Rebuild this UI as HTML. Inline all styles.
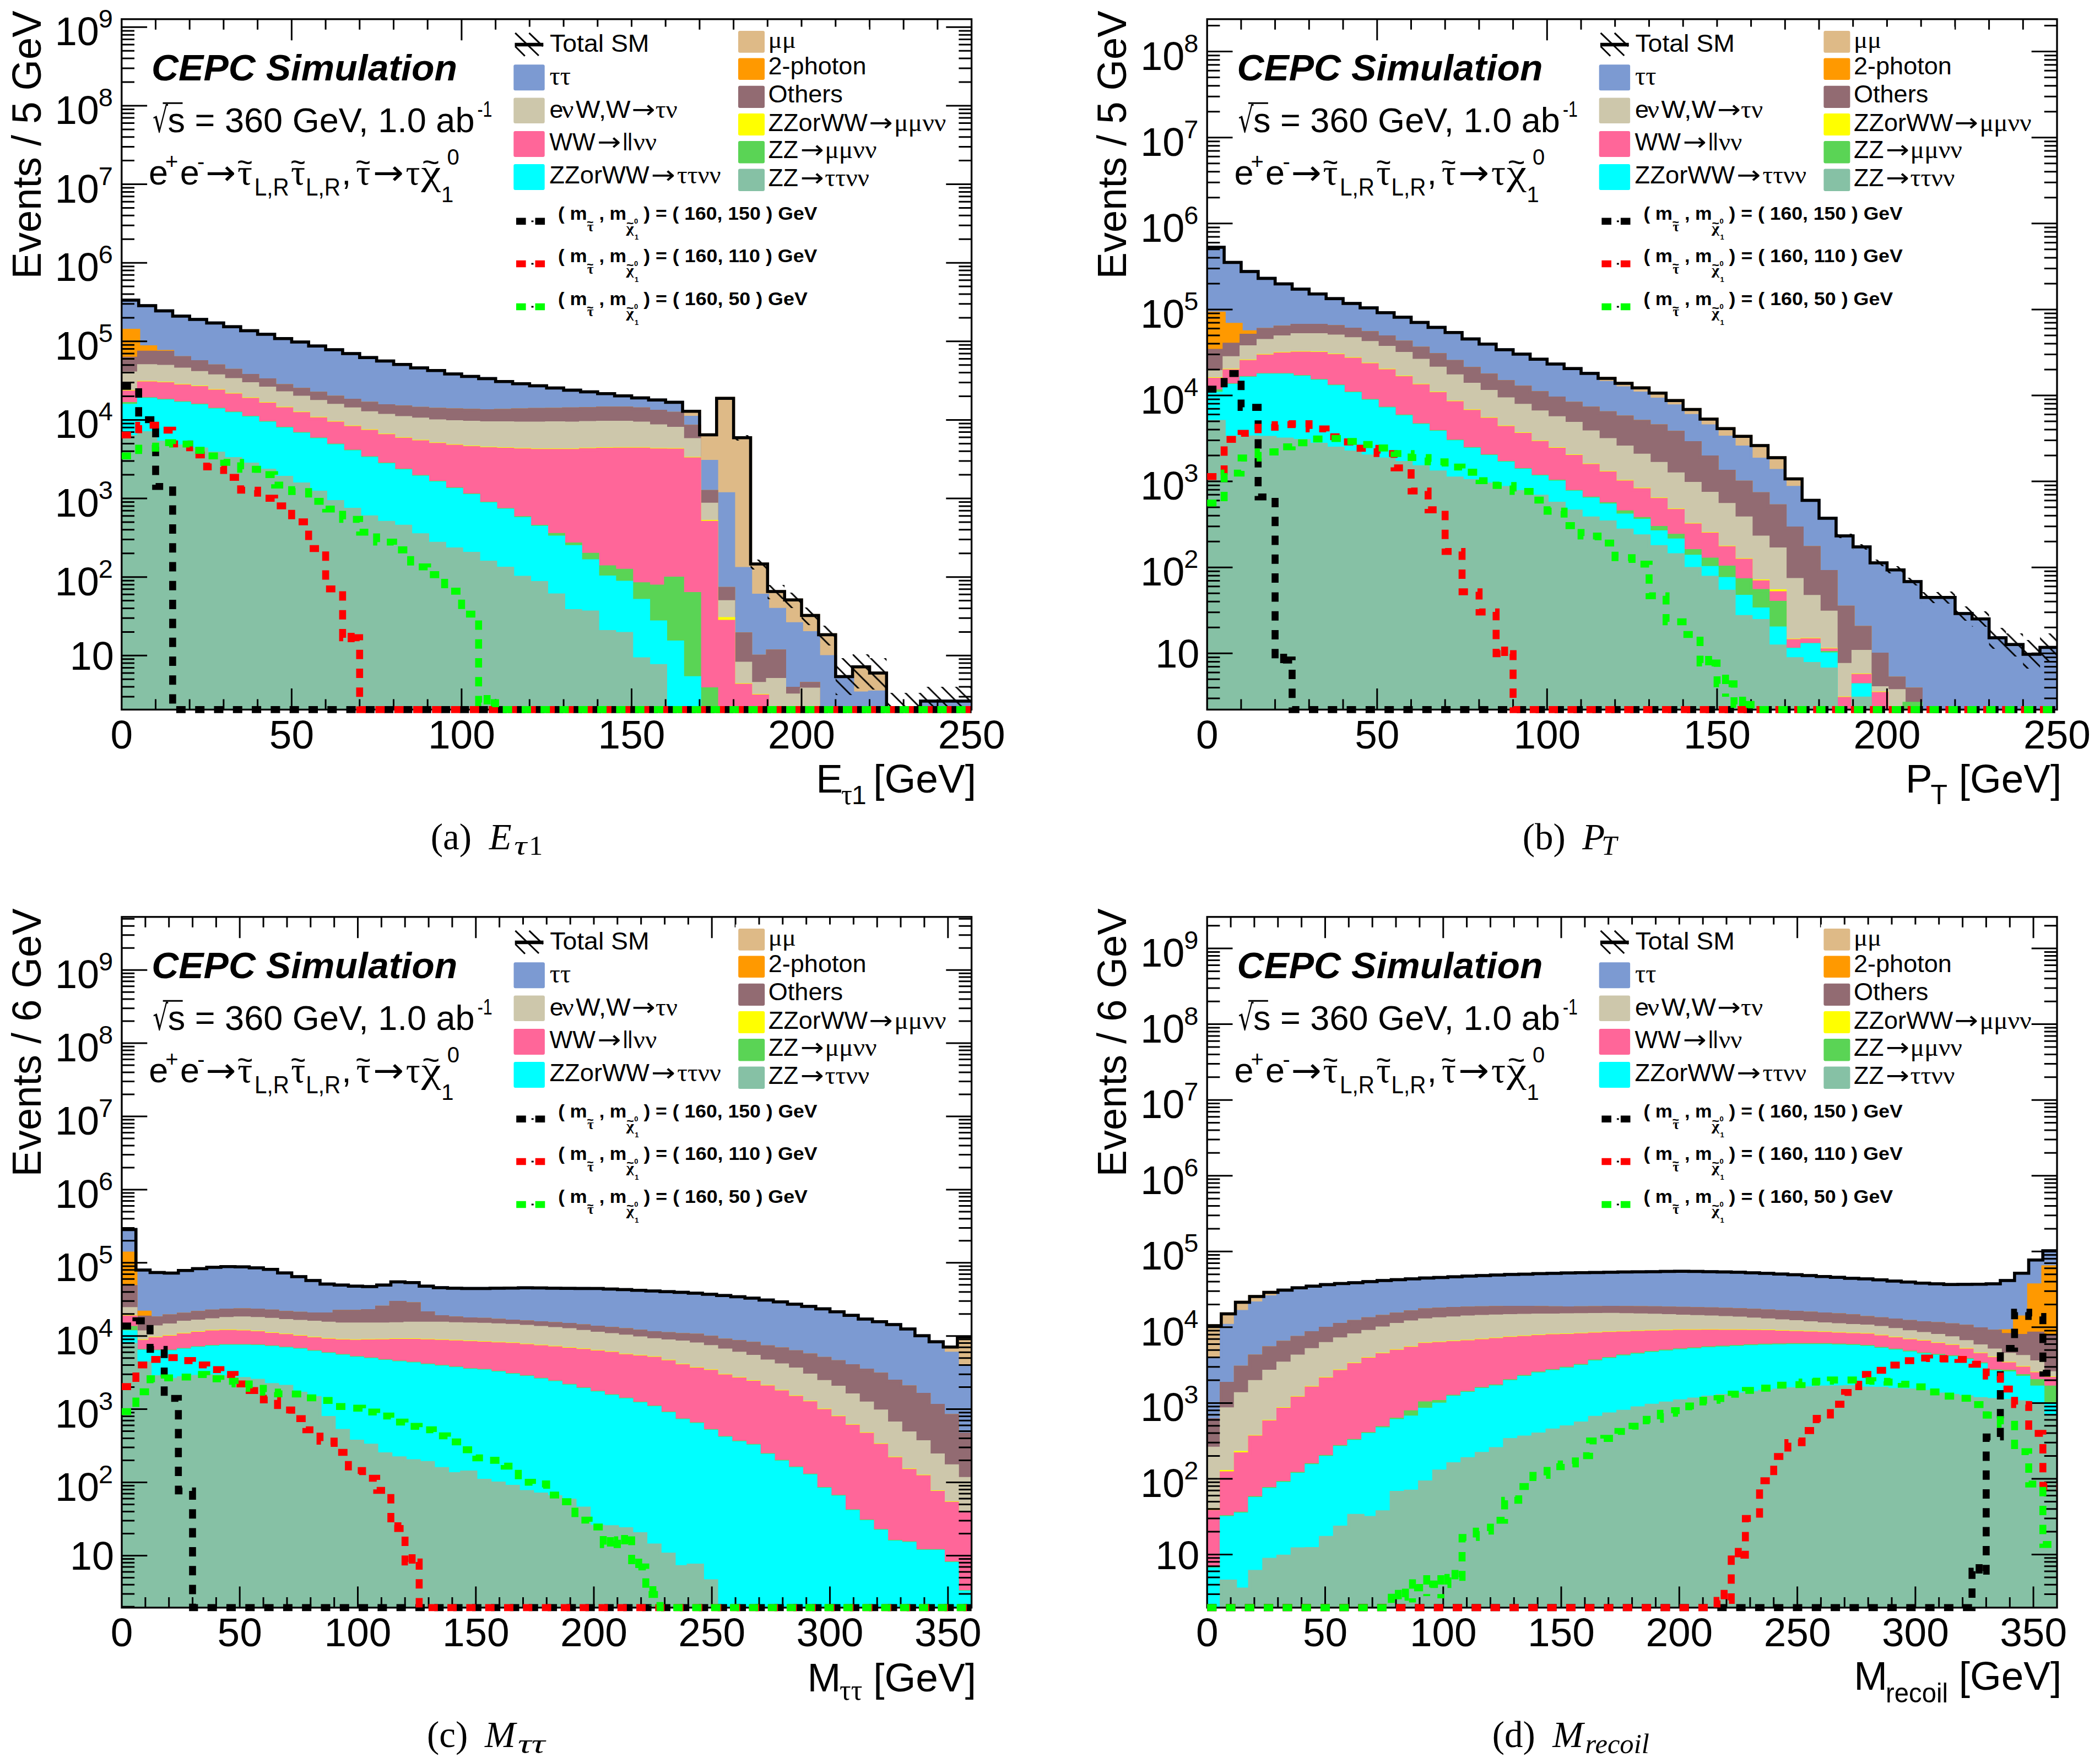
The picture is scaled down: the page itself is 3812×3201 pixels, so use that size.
<!DOCTYPE html>
<html><head><meta charset="utf-8"><title>CEPC stau search distributions</title><style>html,body{margin:0;padding:0;background:#fff}svg{display:block}</style></head><body>
<svg xmlns="http://www.w3.org/2000/svg" width="3812" height="3201" viewBox="0 0 3812 3201">
<rect width="3812" height="3201" fill="#fff"/>
<defs><pattern id="hatch" width="25.7" height="25.7" patternUnits="userSpaceOnUse"><path d="M-6,-6 L32,32 M-6,19.7 L6,31.7 M19.7,-6 L31.7,6" stroke="#000" stroke-width="2.9" fill="none"/></pattern></defs>
<clipPath id="clipa"><rect x="220.8" y="34.8" width="1542.8" height="1253.6"/></clipPath>
<g clip-path="url(#clipa)">
<path d="M220.8,1300.4 L220.8,545 L251.7,545 L251.7,555 L282.5,555 L282.5,564.4 L313.4,564.4 L313.4,573.9 L344.2,573.9 L344.2,580 L375.1,580 L375.1,586.4 L405.9,586.4 L405.9,593.3 L436.8,593.3 L436.8,600.6 L467.6,600.6 L467.6,606.9 L498.5,606.9 L498.5,614.7 L529.4,614.7 L529.4,621 L560.2,621 L560.2,628.2 L591.1,628.2 L591.1,635 L621.9,635 L621.9,642 L652.8,642 L652.8,649.3 L683.6,649.3 L683.6,655.6 L714.5,655.6 L714.5,661.8 L745.4,661.8 L745.4,668 L776.2,668 L776.2,672.8 L807.1,672.8 L807.1,679 L837.9,679 L837.9,683.5 L868.8,683.5 L868.8,687.4 L899.6,687.4 L899.6,692.7 L930.5,692.7 L930.5,696.8 L961.3,696.8 L961.3,700.6 L992.2,700.6 L992.2,704.6 L1023.1,704.6 L1023.1,708.4 L1053.9,708.4 L1053.9,711.6 L1084.8,711.6 L1084.8,714.7 L1115.6,714.7 L1115.6,718.8 L1146.5,718.8 L1146.5,722.6 L1177.3,722.6 L1177.3,726.3 L1208.2,726.3 L1208.2,730.4 L1239,730.4 L1239,746.8 L1269.9,746.8 L1269.9,789.5 L1300.8,789.5 L1300.8,723.2 L1331.6,723.2 L1331.6,794.8 L1362.5,794.8 L1362.5,1024 L1393.3,1024 L1393.3,1074 L1424.2,1074 L1424.2,1089.3 L1455,1089.3 L1455,1117.4 L1485.9,1117.4 L1485.9,1152.4 L1516.8,1152.4 L1516.8,1228.5 L1547.6,1228.5 L1547.6,1210.7 L1578.5,1210.7 L1578.5,1222 L1609.3,1222 L1609.3,1300.4 L1640.2,1300.4 L1640.2,1300.4 L1671,1300.4 L1671,1272.9 L1701.9,1272.9 L1701.9,1272.9 L1732.7,1272.9 L1732.7,1272.9 L1763.6,1272.9 L1763.6,1300.4 Z" fill="#DEBA87" stroke="#DEBA87" stroke-width="5.6" stroke-linejoin="miter"/>
<path d="M220.8,1300.4 L220.8,545 L251.7,545 L251.7,555 L282.5,555 L282.5,564.4 L313.4,564.4 L313.4,573.9 L344.2,573.9 L344.2,580 L375.1,580 L375.1,586.4 L405.9,586.4 L405.9,593.3 L436.8,593.3 L436.8,600.6 L467.6,600.6 L467.6,606.9 L498.5,606.9 L498.5,614.7 L529.4,614.7 L529.4,621 L560.2,621 L560.2,628.2 L591.1,628.2 L591.1,635 L621.9,635 L621.9,642 L652.8,642 L652.8,649.3 L683.6,649.3 L683.6,655.6 L714.5,655.6 L714.5,661.8 L745.4,661.8 L745.4,668 L776.2,668 L776.2,672.8 L807.1,672.8 L807.1,679 L837.9,679 L837.9,683.5 L868.8,683.5 L868.8,687.4 L899.6,687.4 L899.6,692.7 L930.5,692.7 L930.5,696.8 L961.3,696.8 L961.3,700.6 L992.2,700.6 L992.2,704.6 L1023.1,704.6 L1023.1,708.4 L1053.9,708.4 L1053.9,711.6 L1084.8,711.6 L1084.8,714.7 L1115.6,714.7 L1115.6,718.8 L1146.5,718.8 L1146.5,722.6 L1177.3,722.6 L1177.3,726.3 L1208.2,726.3 L1208.2,730.4 L1239,730.4 L1239,757.8 L1269.9,757.8 L1269.9,837.8 L1300.8,837.8 L1300.8,896.6 L1331.6,896.6 L1331.6,1032.4 L1362.5,1032.4 L1362.5,1080.8 L1393.3,1080.8 L1393.3,1106.6 L1424.2,1106.6 L1424.2,1132.5 L1455,1132.5 L1455,1148.8 L1485.9,1148.8 L1485.9,1192.4 L1516.8,1192.4 L1516.8,1228.5 L1547.6,1228.5 L1547.6,1258.2 L1578.5,1258.2 L1578.5,1256.6 L1609.3,1256.6 L1609.3,1300.4 L1640.2,1300.4 L1640.2,1300.4 L1671,1300.4 L1671,1272.9 L1701.9,1272.9 L1701.9,1272.9 L1732.7,1272.9 L1732.7,1272.9 L1763.6,1272.9 L1763.6,1300.4 Z" fill="#7C9AD2" stroke="#7C9AD2" stroke-width="5.6" stroke-linejoin="miter"/>
<path d="M220.8,1300.4 L220.8,599.8 L251.7,599.8 L251.7,629.8 L282.5,629.8 L282.5,638.3 L313.4,638.3 L313.4,649.6 L344.2,649.6 L344.2,656.8 L375.1,656.8 L375.1,664.6 L405.9,664.6 L405.9,672.5 L436.8,672.5 L436.8,681.8 L467.6,681.8 L467.6,689.8 L498.5,689.8 L498.5,700.2 L529.4,700.2 L529.4,707.1 L560.2,707.1 L560.2,714 L591.1,714 L591.1,721.2 L621.9,721.2 L621.9,726.8 L652.8,726.8 L652.8,732.2 L683.6,732.2 L683.6,736.8 L714.5,736.8 L714.5,739.1 L745.4,739.1 L745.4,741.6 L776.2,741.6 L776.2,743.2 L807.1,743.2 L807.1,744.2 L837.9,744.2 L837.9,745 L868.8,745 L868.8,745.8 L899.6,745.8 L899.6,745.2 L930.5,745.2 L930.5,744.2 L961.3,744.2 L961.3,743.6 L992.2,743.6 L992.2,743.3 L1023.1,743.3 L1023.1,742.6 L1053.9,742.6 L1053.9,742 L1084.8,742 L1084.8,741.1 L1115.6,741.1 L1115.6,741.1 L1146.5,741.1 L1146.5,742.6 L1177.3,742.6 L1177.3,746.8 L1208.2,746.8 L1208.2,750.5 L1239,750.5 L1239,774.1 L1269.9,774.1 L1269.9,892.6 L1300.8,892.6 L1300.8,1068.6 L1331.6,1068.6 L1331.6,1151 L1362.5,1151 L1362.5,1191.5 L1393.3,1191.5 L1393.3,1182.1 L1424.2,1182.1 L1424.2,1249.8 L1455,1249.8 L1455,1241 L1485.9,1241 L1485.9,1300.4 L1516.8,1300.4 L1516.8,1300.4 L1547.6,1300.4 L1547.6,1300.4 L1578.5,1300.4 L1578.5,1300.4 L1609.3,1300.4 L1609.3,1300.4 L1640.2,1300.4 L1640.2,1300.4 L1671,1300.4 L1671,1300.4 L1701.9,1300.4 L1701.9,1300.4 L1732.7,1300.4 L1732.7,1300.4 L1763.6,1300.4 L1763.6,1300.4 Z" fill="#FF9900" stroke="#FF9900" stroke-width="5.6" stroke-linejoin="miter"/>
<path d="M220.8,1300.4 L220.8,650.5 L251.7,650.5 L251.7,639.5 L282.5,639.5 L282.5,639.8 L313.4,639.8 L313.4,649.6 L344.2,649.6 L344.2,656.8 L375.1,656.8 L375.1,664.6 L405.9,664.6 L405.9,672.5 L436.8,672.5 L436.8,681.8 L467.6,681.8 L467.6,689.8 L498.5,689.8 L498.5,700.2 L529.4,700.2 L529.4,707.1 L560.2,707.1 L560.2,714 L591.1,714 L591.1,721.2 L621.9,721.2 L621.9,726.8 L652.8,726.8 L652.8,732.2 L683.6,732.2 L683.6,736.8 L714.5,736.8 L714.5,739.1 L745.4,739.1 L745.4,741.6 L776.2,741.6 L776.2,743.2 L807.1,743.2 L807.1,744.2 L837.9,744.2 L837.9,745 L868.8,745 L868.8,745.8 L899.6,745.8 L899.6,745.2 L930.5,745.2 L930.5,744.2 L961.3,744.2 L961.3,743.6 L992.2,743.6 L992.2,743.3 L1023.1,743.3 L1023.1,742.6 L1053.9,742.6 L1053.9,742 L1084.8,742 L1084.8,741.1 L1115.6,741.1 L1115.6,741.1 L1146.5,741.1 L1146.5,742.6 L1177.3,742.6 L1177.3,746.8 L1208.2,746.8 L1208.2,750.5 L1239,750.5 L1239,774.1 L1269.9,774.1 L1269.9,892.6 L1300.8,892.6 L1300.8,1068.6 L1331.6,1068.6 L1331.6,1151 L1362.5,1151 L1362.5,1191.5 L1393.3,1191.5 L1393.3,1182.1 L1424.2,1182.1 L1424.2,1249.8 L1455,1249.8 L1455,1241 L1485.9,1241 L1485.9,1300.4 L1516.8,1300.4 L1516.8,1300.4 L1547.6,1300.4 L1547.6,1300.4 L1578.5,1300.4 L1578.5,1300.4 L1609.3,1300.4 L1609.3,1300.4 L1640.2,1300.4 L1640.2,1300.4 L1671,1300.4 L1671,1300.4 L1701.9,1300.4 L1701.9,1300.4 L1732.7,1300.4 L1732.7,1300.4 L1763.6,1300.4 L1763.6,1300.4 Z" fill="#926B72" stroke="#926B72" stroke-width="5.6" stroke-linejoin="miter"/>
<path d="M220.8,1300.4 L220.8,677.2 L251.7,677.2 L251.7,664 L282.5,664 L282.5,665.3 L313.4,665.3 L313.4,670.3 L344.2,670.3 L344.2,676.6 L375.1,676.6 L375.1,682.6 L405.9,682.6 L405.9,689.2 L436.8,689.2 L436.8,696.7 L467.6,696.7 L467.6,704.8 L498.5,704.8 L498.5,713.4 L529.4,713.4 L529.4,721.2 L560.2,721.2 L560.2,729.1 L591.1,729.1 L591.1,736 L621.9,736 L621.9,742.6 L652.8,742.6 L652.8,749.5 L683.6,749.5 L683.6,754.2 L714.5,754.2 L714.5,758.3 L745.4,758.3 L745.4,761.1 L776.2,761.1 L776.2,764.3 L807.1,764.3 L807.1,765.8 L837.9,765.8 L837.9,766.8 L868.8,766.8 L868.8,767.8 L899.6,767.8 L899.6,767.8 L930.5,767.8 L930.5,768.4 L961.3,768.4 L961.3,768.4 L992.2,768.4 L992.2,767.8 L1023.1,767.8 L1023.1,768.4 L1053.9,768.4 L1053.9,767.2 L1084.8,767.2 L1084.8,766.8 L1115.6,766.8 L1115.6,766.8 L1146.5,766.8 L1146.5,768.4 L1177.3,768.4 L1177.3,773.4 L1208.2,773.4 L1208.2,777.8 L1239,777.8 L1239,798.3 L1269.9,798.3 L1269.9,915.5 L1300.8,915.5 L1300.8,1092.6 L1331.6,1092.6 L1331.6,1204.4 L1362.5,1204.4 L1362.5,1241 L1393.3,1241 L1393.3,1233.8 L1424.2,1233.8 L1424.2,1262.1 L1455,1262.1 L1455,1251.4 L1485.9,1251.4 L1485.9,1300.4 L1516.8,1300.4 L1516.8,1300.4 L1547.6,1300.4 L1547.6,1300.4 L1578.5,1300.4 L1578.5,1300.4 L1609.3,1300.4 L1609.3,1300.4 L1640.2,1300.4 L1640.2,1300.4 L1671,1300.4 L1671,1300.4 L1701.9,1300.4 L1701.9,1300.4 L1732.7,1300.4 L1732.7,1300.4 L1763.6,1300.4 L1763.6,1300.4 Z" fill="#CDC7AB" stroke="#CDC7AB" stroke-width="5.6" stroke-linejoin="miter"/>
<path d="M220.8,1300.4 L220.8,710.8 L251.7,710.8 L251.7,694.4 L282.5,694.4 L282.5,695.7 L313.4,695.7 L313.4,699.8 L344.2,699.8 L344.2,702.8 L375.1,702.8 L375.1,709.2 L405.9,709.2 L405.9,716.4 L436.8,716.4 L436.8,724.3 L467.6,724.3 L467.6,732.8 L498.5,732.8 L498.5,741.3 L529.4,741.3 L529.4,750.1 L560.2,750.1 L560.2,759.5 L591.1,759.5 L591.1,767.4 L621.9,767.4 L621.9,775.2 L652.8,775.2 L652.8,782.4 L683.6,782.4 L683.6,790 L714.5,790 L714.5,796.6 L745.4,796.6 L745.4,801.3 L776.2,801.3 L776.2,806 L807.1,806 L807.1,809.2 L837.9,809.2 L837.9,811.8 L868.8,811.8 L868.8,813.8 L899.6,813.8 L899.6,814.8 L930.5,814.8 L930.5,816.1 L961.3,816.1 L961.3,817.1 L992.2,817.1 L992.2,817.1 L1023.1,817.1 L1023.1,817.1 L1053.9,817.1 L1053.9,815.5 L1084.8,815.5 L1084.8,814.8 L1115.6,814.8 L1115.6,814.6 L1146.5,814.6 L1146.5,814.6 L1177.3,814.6 L1177.3,816.1 L1208.2,816.1 L1208.2,816.4 L1239,816.4 L1239,832.3 L1269.9,832.3 L1269.9,946.8 L1300.8,946.8 L1300.8,1123.3 L1331.6,1123.3 L1331.6,1243.3 L1362.5,1243.3 L1362.5,1262.7 L1393.3,1262.7 L1393.3,1300.4 L1424.2,1300.4 L1424.2,1300.4 L1455,1300.4 L1455,1300.4 L1485.9,1300.4 L1485.9,1300.4 L1516.8,1300.4 L1516.8,1300.4 L1547.6,1300.4 L1547.6,1300.4 L1578.5,1300.4 L1578.5,1300.4 L1609.3,1300.4 L1609.3,1300.4 L1640.2,1300.4 L1640.2,1300.4 L1671,1300.4 L1671,1300.4 L1701.9,1300.4 L1701.9,1300.4 L1732.7,1300.4 L1732.7,1300.4 L1763.6,1300.4 L1763.6,1300.4 Z" fill="#FFFF00" stroke="#FFFF00" stroke-width="5.6" stroke-linejoin="miter"/>
<path d="M220.8,1300.4 L220.8,711.8 L251.7,711.8 L251.7,695.4 L282.5,695.4 L282.5,696.7 L313.4,696.7 L313.4,700.8 L344.2,700.8 L344.2,703.8 L375.1,703.8 L375.1,710.2 L405.9,710.2 L405.9,717.4 L436.8,717.4 L436.8,725.3 L467.6,725.3 L467.6,733.8 L498.5,733.8 L498.5,742.3 L529.4,742.3 L529.4,751.1 L560.2,751.1 L560.2,760.5 L591.1,760.5 L591.1,768.4 L621.9,768.4 L621.9,776.2 L652.8,776.2 L652.8,783.4 L683.6,783.4 L683.6,791 L714.5,791 L714.5,797.6 L745.4,797.6 L745.4,802.3 L776.2,802.3 L776.2,807 L807.1,807 L807.1,810.2 L837.9,810.2 L837.9,812.8 L868.8,812.8 L868.8,814.8 L899.6,814.8 L899.6,815.8 L930.5,815.8 L930.5,817.1 L961.3,817.1 L961.3,818.1 L992.2,818.1 L992.2,818.1 L1023.1,818.1 L1023.1,818.1 L1053.9,818.1 L1053.9,816.5 L1084.8,816.5 L1084.8,815.8 L1115.6,815.8 L1115.6,815.6 L1146.5,815.6 L1146.5,815.6 L1177.3,815.6 L1177.3,817.1 L1208.2,817.1 L1208.2,817.4 L1239,817.4 L1239,833.3 L1269.9,833.3 L1269.9,948.5 L1300.8,948.5 L1300.8,1128.3 L1331.6,1128.3 L1331.6,1244.3 L1362.5,1244.3 L1362.5,1263.7 L1393.3,1263.7 L1393.3,1300.4 L1424.2,1300.4 L1424.2,1300.4 L1455,1300.4 L1455,1300.4 L1485.9,1300.4 L1485.9,1300.4 L1516.8,1300.4 L1516.8,1300.4 L1547.6,1300.4 L1547.6,1300.4 L1578.5,1300.4 L1578.5,1300.4 L1609.3,1300.4 L1609.3,1300.4 L1640.2,1300.4 L1640.2,1300.4 L1671,1300.4 L1671,1300.4 L1701.9,1300.4 L1701.9,1300.4 L1732.7,1300.4 L1732.7,1300.4 L1763.6,1300.4 L1763.6,1300.4 Z" fill="#FF6699" stroke="#FF6699" stroke-width="5.6" stroke-linejoin="miter"/>
<path d="M220.8,1300.4 L220.8,732.8 L251.7,732.8 L251.7,724 L282.5,724 L282.5,727.1 L313.4,727.1 L313.4,731.2 L344.2,731.2 L344.2,735.8 L375.1,735.8 L375.1,743.2 L405.9,743.2 L405.9,750.1 L436.8,750.1 L436.8,757.8 L467.6,757.8 L467.6,767.4 L498.5,767.4 L498.5,777.8 L529.4,777.8 L529.4,787.2 L560.2,787.2 L560.2,797.2 L591.1,797.2 L591.1,808.2 L621.9,808.2 L621.9,819.2 L652.8,819.2 L652.8,831.2 L683.6,831.2 L683.6,842.8 L714.5,842.8 L714.5,853.8 L745.4,853.8 L745.4,865.3 L776.2,865.3 L776.2,875.8 L807.1,875.8 L807.1,887.8 L837.9,887.8 L837.9,898.8 L868.8,898.8 L868.8,913.8 L899.6,913.8 L899.6,925.3 L930.5,925.3 L930.5,940 L961.3,940 L961.3,955.8 L992.2,955.8 L992.2,970.5 L1023.1,970.5 L1023.1,987.8 L1053.9,987.8 L1053.9,1006.6 L1084.8,1006.6 L1084.8,1029.4 L1115.6,1029.4 L1115.6,1035.5 L1146.5,1035.5 L1146.5,1060.1 L1177.3,1060.1 L1177.3,1064.3 L1208.2,1064.3 L1208.2,1049.8 L1239,1049.8 L1239,1077.8 L1269.9,1077.8 L1269.9,1250.8 L1300.8,1250.8 L1300.8,1300.4 L1331.6,1300.4 L1331.6,1300.4 L1362.5,1300.4 L1362.5,1300.4 L1393.3,1300.4 L1393.3,1300.4 L1424.2,1300.4 L1424.2,1300.4 L1455,1300.4 L1455,1300.4 L1485.9,1300.4 L1485.9,1300.4 L1516.8,1300.4 L1516.8,1300.4 L1547.6,1300.4 L1547.6,1300.4 L1578.5,1300.4 L1578.5,1300.4 L1609.3,1300.4 L1609.3,1300.4 L1640.2,1300.4 L1640.2,1300.4 L1671,1300.4 L1671,1300.4 L1701.9,1300.4 L1701.9,1300.4 L1732.7,1300.4 L1732.7,1300.4 L1763.6,1300.4 L1763.6,1300.4 Z" fill="#5AD455" stroke="#5AD455" stroke-width="5.6" stroke-linejoin="miter"/>
<path d="M220.8,1300.4 L220.8,736 L251.7,736 L251.7,725 L282.5,725 L282.5,728.1 L313.4,728.1 L313.4,732.2 L344.2,732.2 L344.2,736.8 L375.1,736.8 L375.1,744.2 L405.9,744.2 L405.9,751.1 L436.8,751.1 L436.8,758.8 L467.6,758.8 L467.6,768.4 L498.5,768.4 L498.5,778.8 L529.4,778.8 L529.4,788.2 L560.2,788.2 L560.2,798.2 L591.1,798.2 L591.1,809.2 L621.9,809.2 L621.9,820.2 L652.8,820.2 L652.8,832.2 L683.6,832.2 L683.6,843.8 L714.5,843.8 L714.5,854.8 L745.4,854.8 L745.4,866.3 L776.2,866.3 L776.2,876.8 L807.1,876.8 L807.1,888.8 L837.9,888.8 L837.9,899.8 L868.8,899.8 L868.8,914.8 L899.6,914.8 L899.6,926.3 L930.5,926.3 L930.5,941.6 L961.3,941.6 L961.3,957.3 L992.2,957.3 L992.2,975.2 L1023.1,975.2 L1023.1,992.5 L1053.9,992.5 L1053.9,1018.3 L1084.8,1018.3 L1084.8,1047.8 L1115.6,1047.8 L1115.6,1057.3 L1146.5,1057.3 L1146.5,1090.4 L1177.3,1090.4 L1177.3,1129.3 L1208.2,1129.3 L1208.2,1165.8 L1239,1165.8 L1239,1230.6 L1269.9,1230.6 L1269.9,1300.4 L1300.8,1300.4 L1300.8,1300.4 L1331.6,1300.4 L1331.6,1300.4 L1362.5,1300.4 L1362.5,1300.4 L1393.3,1300.4 L1393.3,1300.4 L1424.2,1300.4 L1424.2,1300.4 L1455,1300.4 L1455,1300.4 L1485.9,1300.4 L1485.9,1300.4 L1516.8,1300.4 L1516.8,1300.4 L1547.6,1300.4 L1547.6,1300.4 L1578.5,1300.4 L1578.5,1300.4 L1609.3,1300.4 L1609.3,1300.4 L1640.2,1300.4 L1640.2,1300.4 L1671,1300.4 L1671,1300.4 L1701.9,1300.4 L1701.9,1300.4 L1732.7,1300.4 L1732.7,1300.4 L1763.6,1300.4 L1763.6,1300.4 Z" fill="#00FFFF" stroke="#00FFFF" stroke-width="5.6" stroke-linejoin="miter"/>
<path d="M220.8,1300.4 L220.8,792.8 L251.7,792.8 L251.7,785.8 L282.5,785.8 L282.5,802.8 L313.4,802.8 L313.4,809.8 L344.2,809.8 L344.2,815.3 L375.1,815.3 L375.1,822.8 L405.9,822.8 L405.9,832.8 L436.8,832.8 L436.8,842.8 L467.6,842.8 L467.6,853.8 L498.5,853.8 L498.5,866.8 L529.4,866.8 L529.4,878.8 L560.2,878.8 L560.2,893.8 L591.1,893.8 L591.1,910.8 L621.9,910.8 L621.9,924.7 L652.8,924.7 L652.8,938.6 L683.6,938.6 L683.6,948.5 L714.5,948.5 L714.5,955.6 L745.4,955.6 L745.4,971 L776.2,971 L776.2,986.6 L807.1,986.6 L807.1,996.7 L837.9,996.7 L837.9,1004.7 L868.8,1004.7 L868.8,1020.9 L899.6,1020.9 L899.6,1031.8 L930.5,1031.8 L930.5,1048.3 L961.3,1048.3 L961.3,1057.8 L992.2,1057.8 L992.2,1080.3 L1023.1,1080.3 L1023.1,1108.8 L1053.9,1108.8 L1053.9,1111.3 L1084.8,1111.3 L1084.8,1146.8 L1115.6,1146.8 L1115.6,1150.3 L1146.5,1150.3 L1146.5,1196.3 L1177.3,1196.3 L1177.3,1208.6 L1208.2,1208.6 L1208.2,1300.4 L1239,1300.4 L1239,1300.4 L1269.9,1300.4 L1269.9,1300.4 L1300.8,1300.4 L1300.8,1300.4 L1331.6,1300.4 L1331.6,1300.4 L1362.5,1300.4 L1362.5,1300.4 L1393.3,1300.4 L1393.3,1300.4 L1424.2,1300.4 L1424.2,1300.4 L1455,1300.4 L1455,1300.4 L1485.9,1300.4 L1485.9,1300.4 L1516.8,1300.4 L1516.8,1300.4 L1547.6,1300.4 L1547.6,1300.4 L1578.5,1300.4 L1578.5,1300.4 L1609.3,1300.4 L1609.3,1300.4 L1640.2,1300.4 L1640.2,1300.4 L1671,1300.4 L1671,1300.4 L1701.9,1300.4 L1701.9,1300.4 L1732.7,1300.4 L1732.7,1300.4 L1763.6,1300.4 L1763.6,1300.4 Z" fill="#86C1A5" stroke="#86C1A5" stroke-width="5.6" stroke-linejoin="miter"/>
<rect x="1331.6" y="790" width="30.9" height="10" fill="url(#hatch)"/>
<rect x="1362.5" y="1016" width="30.9" height="18" fill="url(#hatch)"/>
<rect x="1393.3" y="1062" width="30.9" height="26" fill="url(#hatch)"/>
<rect x="1424.2" y="1076" width="30.9" height="28" fill="url(#hatch)"/>
<rect x="1455" y="1103" width="30.9" height="32" fill="url(#hatch)"/>
<rect x="1485.9" y="1136" width="30.9" height="36" fill="url(#hatch)"/>
<rect x="1516.8" y="1195" width="30.9" height="67" fill="url(#hatch)"/>
<rect x="1547.6" y="1188" width="30.9" height="62" fill="url(#hatch)"/>
<rect x="1578.5" y="1195" width="30.9" height="57" fill="url(#hatch)"/>
<rect x="1609.3" y="1258" width="30.9" height="32" fill="url(#hatch)"/>
<rect x="1640.2" y="1258" width="30.9" height="32" fill="url(#hatch)"/>
<rect x="1671" y="1247" width="30.9" height="43" fill="url(#hatch)"/>
<rect x="1701.9" y="1247" width="30.9" height="43" fill="url(#hatch)"/>
<rect x="1732.7" y="1247" width="30.9" height="43" fill="url(#hatch)"/>
</g>
<g stroke="#000" stroke-width="3" fill="none">
<path d="M282.5,1288.4 v-19 M282.5,34.8 v19 M344.2,1288.4 v-19 M344.2,34.8 v19 M405.9,1288.4 v-19 M405.9,34.8 v19 M467.6,1288.4 v-19 M467.6,34.8 v19 M529.4,1288.4 v-38.5 M529.4,34.8 v38.5 M591.1,1288.4 v-19 M591.1,34.8 v19 M652.8,1288.4 v-19 M652.8,34.8 v19 M714.5,1288.4 v-19 M714.5,34.8 v19 M776.2,1288.4 v-19 M776.2,34.8 v19 M837.9,1288.4 v-38.5 M837.9,34.8 v38.5 M899.6,1288.4 v-19 M899.6,34.8 v19 M961.3,1288.4 v-19 M961.3,34.8 v19 M1023.1,1288.4 v-19 M1023.1,34.8 v19 M1084.8,1288.4 v-19 M1084.8,34.8 v19 M1146.5,1288.4 v-38.5 M1146.5,34.8 v38.5 M1208.2,1288.4 v-19 M1208.2,34.8 v19 M1269.9,1288.4 v-19 M1269.9,34.8 v19 M1331.6,1288.4 v-19 M1331.6,34.8 v19 M1393.3,1288.4 v-19 M1393.3,34.8 v19 M1455,1288.4 v-38.5 M1455,34.8 v38.5 M1516.8,1288.4 v-19 M1516.8,34.8 v19 M1578.5,1288.4 v-19 M1578.5,34.8 v19 M1640.2,1288.4 v-19 M1640.2,34.8 v19 M1701.9,1288.4 v-19 M1701.9,34.8 v19 M220.8,1264.9 h23.2 M1763.6,1264.9 h-23.2 M220.8,1247.1 h23.2 M1763.6,1247.1 h-23.2 M220.8,1233.2 h23.2 M1763.6,1233.2 h-23.2 M220.8,1221.9 h23.2 M1763.6,1221.9 h-23.2 M220.8,1212.4 h23.2 M1763.6,1212.4 h-23.2 M220.8,1204.1 h23.2 M1763.6,1204.1 h-23.2 M220.8,1196.8 h23.2 M1763.6,1196.8 h-23.2 M220.8,1190.3 h46.3 M1763.6,1190.3 h-46.3 M220.8,1147.4 h23.2 M1763.6,1147.4 h-23.2 M220.8,1122.3 h23.2 M1763.6,1122.3 h-23.2 M220.8,1104.4 h23.2 M1763.6,1104.4 h-23.2 M220.8,1090.6 h23.2 M1763.6,1090.6 h-23.2 M220.8,1079.3 h23.2 M1763.6,1079.3 h-23.2 M220.8,1069.8 h23.2 M1763.6,1069.8 h-23.2 M220.8,1061.5 h23.2 M1763.6,1061.5 h-23.2 M220.8,1054.2 h23.2 M1763.6,1054.2 h-23.2 M220.8,1047.7 h46.3 M1763.6,1047.7 h-46.3 M220.8,1004.7 h23.2 M1763.6,1004.7 h-23.2 M220.8,979.6 h23.2 M1763.6,979.6 h-23.2 M220.8,961.8 h23.2 M1763.6,961.8 h-23.2 M220.8,948 h23.2 M1763.6,948 h-23.2 M220.8,936.7 h23.2 M1763.6,936.7 h-23.2 M220.8,927.2 h23.2 M1763.6,927.2 h-23.2 M220.8,918.9 h23.2 M1763.6,918.9 h-23.2 M220.8,911.6 h23.2 M1763.6,911.6 h-23.2 M220.8,905.1 h46.3 M1763.6,905.1 h-46.3 M220.8,862.1 h23.2 M1763.6,862.1 h-23.2 M220.8,837 h23.2 M1763.6,837 h-23.2 M220.8,819.2 h23.2 M1763.6,819.2 h-23.2 M220.8,805.4 h23.2 M1763.6,805.4 h-23.2 M220.8,794.1 h23.2 M1763.6,794.1 h-23.2 M220.8,784.5 h23.2 M1763.6,784.5 h-23.2 M220.8,776.3 h23.2 M1763.6,776.3 h-23.2 M220.8,769 h23.2 M1763.6,769 h-23.2 M220.8,762.4 h46.3 M1763.6,762.4 h-46.3 M220.8,719.5 h23.2 M1763.6,719.5 h-23.2 M220.8,694.4 h23.2 M1763.6,694.4 h-23.2 M220.8,676.6 h23.2 M1763.6,676.6 h-23.2 M220.8,662.8 h23.2 M1763.6,662.8 h-23.2 M220.8,651.5 h23.2 M1763.6,651.5 h-23.2 M220.8,641.9 h23.2 M1763.6,641.9 h-23.2 M220.8,633.6 h23.2 M1763.6,633.6 h-23.2 M220.8,626.3 h23.2 M1763.6,626.3 h-23.2 M220.8,619.8 h46.3 M1763.6,619.8 h-46.3 M220.8,576.9 h23.2 M1763.6,576.9 h-23.2 M220.8,551.8 h23.2 M1763.6,551.8 h-23.2 M220.8,534 h23.2 M1763.6,534 h-23.2 M220.8,520.1 h23.2 M1763.6,520.1 h-23.2 M220.8,508.8 h23.2 M1763.6,508.8 h-23.2 M220.8,499.3 h23.2 M1763.6,499.3 h-23.2 M220.8,491 h23.2 M1763.6,491 h-23.2 M220.8,483.7 h23.2 M1763.6,483.7 h-23.2 M220.8,477.2 h46.3 M1763.6,477.2 h-46.3 M220.8,434.3 h23.2 M1763.6,434.3 h-23.2 M220.8,409.2 h23.2 M1763.6,409.2 h-23.2 M220.8,391.3 h23.2 M1763.6,391.3 h-23.2 M220.8,377.5 h23.2 M1763.6,377.5 h-23.2 M220.8,366.2 h23.2 M1763.6,366.2 h-23.2 M220.8,356.7 h23.2 M1763.6,356.7 h-23.2 M220.8,348.4 h23.2 M1763.6,348.4 h-23.2 M220.8,341.1 h23.2 M1763.6,341.1 h-23.2 M220.8,334.6 h46.3 M1763.6,334.6 h-46.3 M220.8,291.6 h23.2 M1763.6,291.6 h-23.2 M220.8,266.5 h23.2 M1763.6,266.5 h-23.2 M220.8,248.7 h23.2 M1763.6,248.7 h-23.2 M220.8,234.9 h23.2 M1763.6,234.9 h-23.2 M220.8,223.6 h23.2 M1763.6,223.6 h-23.2 M220.8,214.1 h23.2 M1763.6,214.1 h-23.2 M220.8,205.8 h23.2 M1763.6,205.8 h-23.2 M220.8,198.5 h23.2 M1763.6,198.5 h-23.2 M220.8,192 h46.3 M1763.6,192 h-46.3 M220.8,149 h23.2 M1763.6,149 h-23.2 M220.8,123.9 h23.2 M1763.6,123.9 h-23.2 M220.8,106.1 h23.2 M1763.6,106.1 h-23.2 M220.8,92.3 h23.2 M1763.6,92.3 h-23.2 M220.8,81 h23.2 M1763.6,81 h-23.2 M220.8,71.4 h23.2 M1763.6,71.4 h-23.2 M220.8,63.2 h23.2 M1763.6,63.2 h-23.2 M220.8,55.9 h23.2 M1763.6,55.9 h-23.2 M220.8,49.3 h46.3 M1763.6,49.3 h-46.3"/>
</g>
<rect x="220.8" y="34.8" width="1542.8" height="1253.6" fill="none" stroke="#000" stroke-width="3.3"/>
<path d="M220.8,545 L251.7,545 L251.7,555 L282.5,555 L282.5,564.4 L313.4,564.4 L313.4,573.9 L344.2,573.9 L344.2,580 L375.1,580 L375.1,586.4 L405.9,586.4 L405.9,593.3 L436.8,593.3 L436.8,600.6 L467.6,600.6 L467.6,606.9 L498.5,606.9 L498.5,614.7 L529.4,614.7 L529.4,621 L560.2,621 L560.2,628.2 L591.1,628.2 L591.1,635 L621.9,635 L621.9,642 L652.8,642 L652.8,649.3 L683.6,649.3 L683.6,655.6 L714.5,655.6 L714.5,661.8 L745.4,661.8 L745.4,668 L776.2,668 L776.2,672.8 L807.1,672.8 L807.1,679 L837.9,679 L837.9,683.5 L868.8,683.5 L868.8,687.4 L899.6,687.4 L899.6,692.7 L930.5,692.7 L930.5,696.8 L961.3,696.8 L961.3,700.6 L992.2,700.6 L992.2,704.6 L1023.1,704.6 L1023.1,708.4 L1053.9,708.4 L1053.9,711.6 L1084.8,711.6 L1084.8,714.7 L1115.6,714.7 L1115.6,718.8 L1146.5,718.8 L1146.5,722.6 L1177.3,722.6 L1177.3,726.3 L1208.2,726.3 L1208.2,730.4 L1239,730.4 L1239,746.8 L1269.9,746.8 L1269.9,789.5 L1300.8,789.5 L1300.8,723.2 L1331.6,723.2 L1331.6,794.8 L1362.5,794.8 L1362.5,1024 L1393.3,1024 L1393.3,1074 L1424.2,1074 L1424.2,1089.3 L1455,1089.3 L1455,1117.4 L1485.9,1117.4 L1485.9,1152.4 L1516.8,1152.4 L1516.8,1228.5 L1547.6,1228.5 L1547.6,1210.7 L1578.5,1210.7 L1578.5,1222 L1609.3,1222 L1609.3,1300.4 L1640.2,1300.4 L1640.2,1300.4 L1671,1300.4 L1671,1272.9 L1701.9,1272.9 L1701.9,1272.9 L1732.7,1272.9 L1732.7,1272.9 L1763.6,1272.9" fill="none" stroke="#000" stroke-width="5.5" stroke-linejoin="miter" clip-path="url(#clipa)"/>
<path d="M220.8,701.5 L251.7,701.5 L251.7,762 L282.5,762 L282.5,883.2 L313.4,883.2 L313.4,1288.4 L344.2,1288.4 L344.2,1288.4 L375.1,1288.4 L375.1,1288.4 L405.9,1288.4 L405.9,1288.4 L436.8,1288.4 L436.8,1288.4 L467.6,1288.4 L467.6,1288.4 L498.5,1288.4 L498.5,1288.4 L529.4,1288.4 L529.4,1288.4 L560.2,1288.4 L560.2,1288.4 L591.1,1288.4 L591.1,1288.4 L621.9,1288.4 L621.9,1288.4 L652.8,1288.4 L652.8,1288.4 L683.6,1288.4 L683.6,1288.4 L714.5,1288.4 L714.5,1288.4 L745.4,1288.4 L745.4,1288.4 L776.2,1288.4 L776.2,1288.4 L807.1,1288.4 L807.1,1288.4 L837.9,1288.4 L837.9,1288.4 L868.8,1288.4 L868.8,1288.4 L899.6,1288.4 L899.6,1288.4 L930.5,1288.4 L930.5,1288.4 L961.3,1288.4 L961.3,1288.4 L992.2,1288.4 L992.2,1288.4 L1023.1,1288.4 L1023.1,1288.4 L1053.9,1288.4 L1053.9,1288.4 L1084.8,1288.4 L1084.8,1288.4 L1115.6,1288.4 L1115.6,1288.4 L1146.5,1288.4 L1146.5,1288.4 L1177.3,1288.4 L1177.3,1288.4 L1208.2,1288.4 L1208.2,1288.4 L1239,1288.4 L1239,1288.4 L1269.9,1288.4 L1269.9,1288.4 L1300.8,1288.4 L1300.8,1288.4 L1331.6,1288.4 L1331.6,1288.4 L1362.5,1288.4 L1362.5,1288.4 L1393.3,1288.4 L1393.3,1288.4 L1424.2,1288.4 L1424.2,1288.4 L1455,1288.4 L1455,1288.4 L1485.9,1288.4 L1485.9,1288.4 L1516.8,1288.4 L1516.8,1288.4 L1547.6,1288.4 L1547.6,1288.4 L1578.5,1288.4 L1578.5,1288.4 L1609.3,1288.4 L1609.3,1288.4 L1640.2,1288.4 L1640.2,1288.4 L1671,1288.4 L1671,1288.4 L1701.9,1288.4 L1701.9,1288.4 L1732.7,1288.4 L1732.7,1288.4 L1763.6,1288.4" fill="none" stroke="#000" stroke-width="12.6" stroke-dasharray="17 17.3" stroke-linejoin="miter"/>
<path d="M220.8,789.8 L251.7,789.8 L251.7,772 L282.5,772 L282.5,781 L313.4,781 L313.4,806 L344.2,806 L344.2,826 L375.1,826 L375.1,847.8 L405.9,847.8 L405.9,866.8 L436.8,866.8 L436.8,890 L467.6,890 L467.6,904.6 L498.5,904.6 L498.5,918.5 L529.4,918.5 L529.4,947.5 L560.2,947.5 L560.2,996 L591.1,996 L591.1,1069.2 L621.9,1069.2 L621.9,1157.9 L652.8,1157.9 L652.8,1288.4 L683.6,1288.4 L683.6,1288.4 L714.5,1288.4 L714.5,1288.4 L745.4,1288.4 L745.4,1288.4 L776.2,1288.4 L776.2,1288.4 L807.1,1288.4 L807.1,1288.4 L837.9,1288.4 L837.9,1288.4 L868.8,1288.4 L868.8,1288.4 L899.6,1288.4 L899.6,1288.4 L930.5,1288.4 L930.5,1288.4 L961.3,1288.4 L961.3,1288.4 L992.2,1288.4 L992.2,1288.4 L1023.1,1288.4 L1023.1,1288.4 L1053.9,1288.4 L1053.9,1288.4 L1084.8,1288.4 L1084.8,1288.4 L1115.6,1288.4 L1115.6,1288.4 L1146.5,1288.4 L1146.5,1288.4 L1177.3,1288.4 L1177.3,1288.4 L1208.2,1288.4 L1208.2,1288.4 L1239,1288.4 L1239,1288.4 L1269.9,1288.4 L1269.9,1288.4 L1300.8,1288.4 L1300.8,1288.4 L1331.6,1288.4 L1331.6,1288.4 L1362.5,1288.4 L1362.5,1288.4 L1393.3,1288.4 L1393.3,1288.4 L1424.2,1288.4 L1424.2,1288.4 L1455,1288.4 L1455,1288.4 L1485.9,1288.4 L1485.9,1288.4 L1516.8,1288.4 L1516.8,1288.4 L1547.6,1288.4 L1547.6,1288.4 L1578.5,1288.4 L1578.5,1288.4 L1609.3,1288.4 L1609.3,1288.4 L1640.2,1288.4 L1640.2,1288.4 L1671,1288.4 L1671,1288.4 L1701.9,1288.4 L1701.9,1288.4 L1732.7,1288.4 L1732.7,1288.4 L1763.6,1288.4" fill="none" stroke="#FF0000" stroke-width="12.6" stroke-dasharray="17 17.3" stroke-linejoin="miter"/>
<path d="M220.8,827.7 L251.7,827.7 L251.7,813.8 L282.5,813.8 L282.5,803.7 L313.4,803.7 L313.4,806.2 L344.2,806.2 L344.2,817.6 L375.1,817.6 L375.1,827.7 L405.9,827.7 L405.9,839.5 L436.8,839.5 L436.8,852 L467.6,852 L467.6,861.7 L498.5,861.7 L498.5,880.7 L529.4,880.7 L529.4,892.5 L560.2,892.5 L560.2,910.2 L591.1,910.2 L591.1,924.3 L621.9,924.3 L621.9,943 L652.8,943 L652.8,966.3 L683.6,966.3 L683.6,984.3 L714.5,984.3 L714.5,998.4 L745.4,998.4 L745.4,1029.3 L776.2,1029.3 L776.2,1043.4 L807.1,1043.4 L807.1,1073.4 L837.9,1073.4 L837.9,1115 L868.8,1115 L868.8,1275.8 L899.6,1275.8 L899.6,1288.4 L930.5,1288.4 L930.5,1288.4 L961.3,1288.4 L961.3,1288.4 L992.2,1288.4 L992.2,1288.4 L1023.1,1288.4 L1023.1,1288.4 L1053.9,1288.4 L1053.9,1288.4 L1084.8,1288.4 L1084.8,1288.4 L1115.6,1288.4 L1115.6,1288.4 L1146.5,1288.4 L1146.5,1288.4 L1177.3,1288.4 L1177.3,1288.4 L1208.2,1288.4 L1208.2,1288.4 L1239,1288.4 L1239,1288.4 L1269.9,1288.4 L1269.9,1288.4 L1300.8,1288.4 L1300.8,1288.4 L1331.6,1288.4 L1331.6,1288.4 L1362.5,1288.4 L1362.5,1288.4 L1393.3,1288.4 L1393.3,1288.4 L1424.2,1288.4 L1424.2,1288.4 L1455,1288.4 L1455,1288.4 L1485.9,1288.4 L1485.9,1288.4 L1516.8,1288.4 L1516.8,1288.4 L1547.6,1288.4 L1547.6,1288.4 L1578.5,1288.4 L1578.5,1288.4 L1609.3,1288.4 L1609.3,1288.4 L1640.2,1288.4 L1640.2,1288.4 L1671,1288.4 L1671,1288.4 L1701.9,1288.4 L1701.9,1288.4 L1732.7,1288.4 L1732.7,1288.4 L1763.6,1288.4" fill="none" stroke="#00FF00" stroke-width="12.6" stroke-dasharray="17 17.3" stroke-linejoin="miter"/>
<path d="M637.4,1149 V1167" fill="none" stroke="#FF0000" stroke-width="12.6" stroke-dasharray="17 17.3"/>
<path d="M884.2,1262 V1288" fill="none" stroke="#00FF00" stroke-width="12.6" stroke-dasharray="17 17.3"/>
<g font-family='"Liberation Sans", sans-serif' fill="#000">
<text x="220.8" y="1358.8" font-size="73" text-anchor="middle">0</text>
<text x="529.4" y="1358.8" font-size="73" text-anchor="middle">50</text>
<text x="837.9" y="1358.8" font-size="73" text-anchor="middle">100</text>
<text x="1146.5" y="1358.8" font-size="73" text-anchor="middle">150</text>
<text x="1455" y="1358.8" font-size="73" text-anchor="middle">200</text>
<text x="1763.6" y="1358.8" font-size="73" text-anchor="middle">250</text>
<text x="206.9" y="1216.3" font-size="72" text-anchor="end">10</text>
<text x="179.9" y="1080.7" font-size="72" text-anchor="end">10</text>
<text x="204.9" y="1048.7" font-size="47" text-anchor="end">2</text>
<text x="179.9" y="938.1" font-size="72" text-anchor="end">10</text>
<text x="204.9" y="906.1" font-size="47" text-anchor="end">3</text>
<text x="179.9" y="795.4" font-size="72" text-anchor="end">10</text>
<text x="204.9" y="763.4" font-size="47" text-anchor="end">4</text>
<text x="179.9" y="652.8" font-size="72" text-anchor="end">10</text>
<text x="204.9" y="620.8" font-size="47" text-anchor="end">5</text>
<text x="179.9" y="510.2" font-size="72" text-anchor="end">10</text>
<text x="204.9" y="478.2" font-size="47" text-anchor="end">6</text>
<text x="179.9" y="367.6" font-size="72" text-anchor="end">10</text>
<text x="204.9" y="335.6" font-size="47" text-anchor="end">7</text>
<text x="179.9" y="225" font-size="72" text-anchor="end">10</text>
<text x="204.9" y="193" font-size="47" text-anchor="end">8</text>
<text x="179.9" y="82.3" font-size="72" text-anchor="end">10</text>
<text x="204.9" y="50.3" font-size="47" text-anchor="end">9</text>
<text transform="translate(73.5,19.5) rotate(-90)" font-size="74" text-anchor="end" textLength="487" lengthAdjust="spacingAndGlyphs">Events / 5 GeV</text>
<text x="1481.2" y="1438.6" font-size="73">E</text><text x="1527" y="1460.1" font-size="52" font-family='"Liberation Serif", serif' textLength="20" lengthAdjust="spacingAndGlyphs">&#964;</text><text x="1546" y="1460.1" font-size="48">1</text><text x="1585.3" y="1438.6" font-size="73">[GeV]</text>
</g>
<g transform="translate(0,0)">
<rect x="927" y="48.6" width="338" height="305" fill="#fff"/>
<rect x="1335" y="48.6" width="242.5" height="305" fill="#fff"/>
<g font-family='"Liberation Sans", sans-serif' fill="#000">
<text x="275" y="146" font-size="66" font-weight="bold" font-style="italic" textLength="555" lengthAdjust="spacingAndGlyphs">CEPC Simulation</text>
<text x="277" y="240" font-size="63" font-family='"DejaVu Sans", sans-serif' textLength="28" lengthAdjust="spacingAndGlyphs">&#8730;</text>
<path d="M295.5,187.2 H331.5" stroke="#000" stroke-width="3" fill="none"/>
<text x="304.5" y="240" font-size="63" textLength="557" lengthAdjust="spacingAndGlyphs">s = 360 GeV, 1.0 ab</text>
<text x="866.5" y="212" font-size="40" textLength="27" lengthAdjust="spacingAndGlyphs">-1</text>
<text x="270" y="335" font-size="63">e</text>
<text x="300" y="307" font-size="40">+</text>
<text x="326.7" y="335" font-size="63">e</text>
<text x="358" y="307" font-size="40">-</text>
<text x="373" y="335" font-size="63" font-family='"DejaVu Sans", sans-serif' textLength="55" lengthAdjust="spacingAndGlyphs">&#8594;</text>
<text x="431" y="335" font-size="66" font-family='"Liberation Serif", serif' textLength="27" lengthAdjust="spacingAndGlyphs">&#964;</text>
<text x="461.7" y="355" font-size="44" textLength="63" lengthAdjust="spacingAndGlyphs">L,R</text>
<text x="528" y="335" font-size="66" font-family='"Liberation Serif", serif' textLength="26" lengthAdjust="spacingAndGlyphs">&#964;</text>
<text x="555" y="355" font-size="44" textLength="63" lengthAdjust="spacingAndGlyphs">L,R</text>
<text x="620" y="335" font-size="63">,</text>
<text x="646.5" y="335" font-size="66" font-family='"Liberation Serif", serif' textLength="26" lengthAdjust="spacingAndGlyphs">&#964;</text>
<text x="676.7" y="335" font-size="63" font-family='"DejaVu Sans", sans-serif' textLength="56" lengthAdjust="spacingAndGlyphs">&#8594;</text>
<text x="736.5" y="335" font-size="66" font-family='"Liberation Serif", serif' textLength="26" lengthAdjust="spacingAndGlyphs">&#964;</text>
<text x="764.5" y="335" font-size="66" font-family='"Liberation Serif", serif' textLength="36" lengthAdjust="spacingAndGlyphs">&#967;</text>
<text x="811.5" y="299" font-size="40">0</text>
<text x="801" y="367" font-size="40">1</text>
<text x="430" y="313" font-size="54" textLength="29" lengthAdjust="spacingAndGlyphs">~</text>
<text x="527" y="313" font-size="54" textLength="28" lengthAdjust="spacingAndGlyphs">~</text>
<text x="645" y="313" font-size="54" textLength="28" lengthAdjust="spacingAndGlyphs">~</text>
<text x="766" y="313" font-size="54" textLength="32" lengthAdjust="spacingAndGlyphs">~</text>
<rect x="932.3" y="117.2" width="56.4" height="47" rx="3" fill="#7C9AD2"/>
<rect x="932.3" y="177.5" width="56.4" height="46.5" rx="3" fill="#CDC7AB"/>
<rect x="932.3" y="238" width="56.4" height="47" rx="3" fill="#FF6699"/>
<rect x="932.3" y="298" width="56.4" height="47" rx="3" fill="#00FFFF"/>
<clipPath id="tsm"><rect x="934" y="59.5" width="52.5" height="42.5"/></clipPath>
<path d="M935.2,59.8 L977.9,101 M960.4,59.8 L985.5,84.2 M935.2,84.2 L952.8,101.7" stroke="#000" stroke-width="3" fill="none"/>
<path d="M934.5,81 H986.3" stroke="#000" stroke-width="6.6" fill="none"/>
<text x="998" y="93.7" font-size="45" textLength="180.5" lengthAdjust="spacingAndGlyphs">Total SM</text>
<text x="997.5" y="154" font-size="48" font-family='"Liberation Serif", serif' textLength="38.5" lengthAdjust="spacingAndGlyphs">&#964;&#964;</text>
<text x="997.6" y="213.6" font-size="45">e</text>
<text x="1019.5" y="213.6" font-size="47" font-family='"Liberation Serif", serif' textLength="22" lengthAdjust="spacingAndGlyphs">&#957;</text>
<text x="1045" y="213.6" font-size="45" textLength="99.5" lengthAdjust="spacingAndGlyphs">W,W</text>
<text x="1146.3" y="213.6" font-size="45" font-family='"DejaVu Sans", sans-serif' textLength="43" lengthAdjust="spacingAndGlyphs">&#8594;</text>
<text x="1189.7" y="213.6" font-size="47" font-family='"Liberation Serif", serif' textLength="40" lengthAdjust="spacingAndGlyphs">&#964;&#957;</text>
<text x="997.2" y="273" font-size="45" textLength="83.5" lengthAdjust="spacingAndGlyphs">WW</text>
<text x="1084" y="273" font-size="45" font-family='"DejaVu Sans", sans-serif' textLength="43" lengthAdjust="spacingAndGlyphs">&#8594;</text>
<text x="1130.5" y="273" font-size="45" textLength="17.5" lengthAdjust="spacingAndGlyphs">ll</text>
<text x="1149.4" y="273" font-size="47" font-family='"Liberation Serif", serif' textLength="42.6" lengthAdjust="spacingAndGlyphs">&#957;&#957;</text>
<text x="997.2" y="332.6" font-size="45" textLength="181.5" lengthAdjust="spacingAndGlyphs">ZZorWW</text>
<text x="1181.6" y="332.6" font-size="45" font-family='"DejaVu Sans", sans-serif' textLength="44" lengthAdjust="spacingAndGlyphs">&#8594;</text>
<text x="1229" y="332.6" font-size="47" font-family='"Liberation Serif", serif' textLength="79.6" lengthAdjust="spacingAndGlyphs">&#964;&#964;&#957;&#957;</text>
<rect x="1340" y="56" width="48" height="39.8" rx="3" fill="#DEBA87"/>
<rect x="1340" y="105.4" width="48" height="39.6" rx="3" fill="#FF9900"/>
<rect x="1340" y="155.7" width="48" height="40.3" rx="3" fill="#926B72"/>
<rect x="1340" y="206" width="48" height="40" rx="3" fill="#FFFF00"/>
<rect x="1340" y="256" width="48" height="40.5" rx="3" fill="#5AD455"/>
<rect x="1340" y="306.6" width="48" height="40.4" rx="3" fill="#86C1A5"/>
<text x="1394.5" y="86.6" font-size="45" font-family='"Liberation Serif", serif' textLength="50.3" lengthAdjust="spacingAndGlyphs">&#956;&#956;</text>
<text x="1394.5" y="134.8" font-size="45" textLength="178" lengthAdjust="spacingAndGlyphs">2-photon</text>
<text x="1394.5" y="185.9" font-size="45" textLength="135.4" lengthAdjust="spacingAndGlyphs">Others</text>
<text x="1394.5" y="237.5" font-size="45" textLength="180.3" lengthAdjust="spacingAndGlyphs">ZZorWW</text>
<text x="1576.9" y="237.5" font-size="45" font-family='"DejaVu Sans", sans-serif' textLength="43.5" lengthAdjust="spacingAndGlyphs">&#8594;</text>
<text x="1623" y="237.5" font-size="47" font-family='"Liberation Serif", serif' textLength="94.3" lengthAdjust="spacingAndGlyphs">&#956;&#956;&#957;&#957;</text>
<text x="1394.5" y="286.5" font-size="45" textLength="54.5" lengthAdjust="spacingAndGlyphs">ZZ</text>
<text x="1452.4" y="286.5" font-size="45" font-family='"DejaVu Sans", sans-serif' textLength="43" lengthAdjust="spacingAndGlyphs">&#8594;</text>
<text x="1497.2" y="286.5" font-size="47" font-family='"Liberation Serif", serif' textLength="94.3" lengthAdjust="spacingAndGlyphs">&#956;&#956;&#957;&#957;</text>
<text x="1394.5" y="338" font-size="45" textLength="54.5" lengthAdjust="spacingAndGlyphs">ZZ</text>
<text x="1452.4" y="338" font-size="45" font-family='"DejaVu Sans", sans-serif' textLength="43" lengthAdjust="spacingAndGlyphs">&#8594;</text>
<text x="1497.2" y="338" font-size="47" font-family='"Liberation Serif", serif' textLength="80.8" lengthAdjust="spacingAndGlyphs">&#964;&#964;&#957;&#957;</text>
<path d="M937,401.8 h17.6 M971.5,401.8 h17.6" stroke="#000" stroke-width="12.6" fill="none"/>
<path d="M964.5,401.8 h4" stroke="#000" stroke-width="3" fill="none"/>
<text x="1013" y="399" font-size="34" textLength="52.5" lengthAdjust="spacingAndGlyphs" font-weight="bold">( m</text>
<text x="1066" y="419.7" font-size="26" font-family='"Liberation Serif", serif' textLength="11.5" lengthAdjust="spacingAndGlyphs" font-weight="bold">&#964;</text>
<text x="1065" y="411" font-size="22" textLength="12.5" lengthAdjust="spacingAndGlyphs" font-weight="bold">~</text>
<text x="1087.5" y="399" font-size="34" textLength="49.5" lengthAdjust="spacingAndGlyphs" font-weight="bold">, m</text>
<text x="1136.5" y="422.5" font-size="26" font-family='"Liberation Serif", serif' textLength="14" lengthAdjust="spacingAndGlyphs" font-weight="bold">&#967;</text>
<text x="1137" y="412.5" font-size="22" textLength="13.5" lengthAdjust="spacingAndGlyphs" font-weight="bold">~</text>
<text x="1151" y="406" font-size="13" font-weight="bold">0</text>
<text x="1152" y="435" font-size="13" font-weight="bold">1</text>
<text x="1168.2" y="399" font-size="34" textLength="315.2" lengthAdjust="spacingAndGlyphs" font-weight="bold">) = ( 160, 150 ) GeV</text>
<path d="M937,479 h17.6 M971.5,479 h17.6" stroke="#FF0000" stroke-width="12.6" fill="none"/>
<path d="M964.5,479 h4" stroke="#000" stroke-width="3" fill="none"/>
<text x="1013" y="475.8" font-size="34" textLength="52.5" lengthAdjust="spacingAndGlyphs" font-weight="bold">( m</text>
<text x="1066" y="496.5" font-size="26" font-family='"Liberation Serif", serif' textLength="11.5" lengthAdjust="spacingAndGlyphs" font-weight="bold">&#964;</text>
<text x="1065" y="487.8" font-size="22" textLength="12.5" lengthAdjust="spacingAndGlyphs" font-weight="bold">~</text>
<text x="1087.5" y="475.8" font-size="34" textLength="49.5" lengthAdjust="spacingAndGlyphs" font-weight="bold">, m</text>
<text x="1136.5" y="499.3" font-size="26" font-family='"Liberation Serif", serif' textLength="14" lengthAdjust="spacingAndGlyphs" font-weight="bold">&#967;</text>
<text x="1137" y="489.3" font-size="22" textLength="13.5" lengthAdjust="spacingAndGlyphs" font-weight="bold">~</text>
<text x="1151" y="482.8" font-size="13" font-weight="bold">0</text>
<text x="1152" y="511.8" font-size="13" font-weight="bold">1</text>
<text x="1168.2" y="475.8" font-size="34" textLength="315.2" lengthAdjust="spacingAndGlyphs" font-weight="bold">) = ( 160, 110 ) GeV</text>
<path d="M937,557 h17.6 M971.5,557 h17.6" stroke="#00FF00" stroke-width="12.6" fill="none"/>
<path d="M964.5,557 h4" stroke="#000" stroke-width="3" fill="none"/>
<text x="1013" y="553.7" font-size="34" textLength="52.5" lengthAdjust="spacingAndGlyphs" font-weight="bold">( m</text>
<text x="1066" y="574.4" font-size="26" font-family='"Liberation Serif", serif' textLength="11.5" lengthAdjust="spacingAndGlyphs" font-weight="bold">&#964;</text>
<text x="1065" y="565.7" font-size="22" textLength="12.5" lengthAdjust="spacingAndGlyphs" font-weight="bold">~</text>
<text x="1087.5" y="553.7" font-size="34" textLength="49.5" lengthAdjust="spacingAndGlyphs" font-weight="bold">, m</text>
<text x="1136.5" y="577.2" font-size="26" font-family='"Liberation Serif", serif' textLength="14" lengthAdjust="spacingAndGlyphs" font-weight="bold">&#967;</text>
<text x="1137" y="567.2" font-size="22" textLength="13.5" lengthAdjust="spacingAndGlyphs" font-weight="bold">~</text>
<text x="1151" y="560.7" font-size="13" font-weight="bold">0</text>
<text x="1152" y="589.7" font-size="13" font-weight="bold">1</text>
<text x="1168.2" y="553.7" font-size="34" textLength="297.6" lengthAdjust="spacingAndGlyphs" font-weight="bold">) = ( 160, 50 ) GeV</text>
</g>
</g>
<g font-family='"Liberation Serif", serif' fill="#000"><text x="781.8" y="1541.6" font-size="67">(a)</text><text x="887.8" y="1541.6" font-size="67" font-style="italic">E</text><text x="933.3" y="1552.1" font-size="50" textLength="23" lengthAdjust="spacingAndGlyphs" font-style="italic">&#964;</text><text x="960.3" y="1552.1" font-size="50">1</text></g>
<clipPath id="clipb"><rect x="2191.2" y="34.8" width="1542.8" height="1253.6"/></clipPath>
<g clip-path="url(#clipb)">
<path d="M2191.2,1300.4 L2191.2,448.9 L2222.1,448.9 L2222.1,476.5 L2252.9,476.5 L2252.9,492.9 L2283.8,492.9 L2283.8,505.4 L2314.6,505.4 L2314.6,515.5 L2345.5,515.5 L2345.5,524.9 L2376.3,524.9 L2376.3,533.7 L2407.2,533.7 L2407.2,542.2 L2438,542.2 L2438,551 L2468.9,551 L2468.9,558.9 L2499.8,558.9 L2499.8,567.7 L2530.6,567.7 L2530.6,576.1 L2561.5,576.1 L2561.5,585.6 L2592.3,585.6 L2592.3,594.4 L2623.2,594.4 L2623.2,603.8 L2654,603.8 L2654,615.4 L2684.9,615.4 L2684.9,624.8 L2715.8,624.8 L2715.8,634.9 L2746.6,634.9 L2746.6,643.1 L2777.5,643.1 L2777.5,652.2 L2808.3,652.2 L2808.3,661 L2839.2,661 L2839.2,669.3 L2870,669.3 L2870,677.9 L2900.9,677.9 L2900.9,687 L2931.7,687 L2931.7,695.9 L2962.6,695.9 L2962.6,704.3 L2993.5,704.3 L2993.5,713.8 L3024.3,713.8 L3024.3,727.3 L3055.2,727.3 L3055.2,743.6 L3086,743.6 L3086,760.9 L3116.9,760.9 L3116.9,778.2 L3147.7,778.2 L3147.7,792.3 L3178.6,792.3 L3178.6,809 L3209.4,809 L3209.4,831 L3240.3,831 L3240.3,869.6 L3271.2,869.6 L3271.2,908.6 L3302,908.6 L3302,941 L3332.9,941 L3332.9,973 L3363.7,973 L3363.7,993 L3394.6,993 L3394.6,1022 L3425.4,1022 L3425.4,1034.8 L3456.3,1034.8 L3456.3,1056 L3487.2,1056 L3487.2,1084.7 L3518,1084.7 L3518,1084.7 L3548.9,1084.7 L3548.9,1113.9 L3579.7,1113.9 L3579.7,1123.8 L3610.6,1123.8 L3610.6,1157.9 L3641.4,1157.9 L3641.4,1170.3 L3672.3,1170.3 L3672.3,1187.9 L3703.1,1187.9 L3703.1,1175.6 L3734,1175.6 L3734,1300.4 Z" fill="#DEBA87" stroke="#DEBA87" stroke-width="5.6" stroke-linejoin="miter"/>
<path d="M2191.2,1300.4 L2191.2,448.9 L2222.1,448.9 L2222.1,476.5 L2252.9,476.5 L2252.9,492.9 L2283.8,492.9 L2283.8,505.4 L2314.6,505.4 L2314.6,515.5 L2345.5,515.5 L2345.5,524.9 L2376.3,524.9 L2376.3,533.7 L2407.2,533.7 L2407.2,542.2 L2438,542.2 L2438,551 L2468.9,551 L2468.9,558.9 L2499.8,558.9 L2499.8,567.7 L2530.6,567.7 L2530.6,576.1 L2561.5,576.1 L2561.5,585.6 L2592.3,585.6 L2592.3,594.4 L2623.2,594.4 L2623.2,603.8 L2654,603.8 L2654,615.4 L2684.9,615.4 L2684.9,624.8 L2715.8,624.8 L2715.8,634.9 L2746.6,634.9 L2746.6,643.1 L2777.5,643.1 L2777.5,652.2 L2808.3,652.2 L2808.3,661 L2839.2,661 L2839.2,669.3 L2870,669.3 L2870,677.9 L2900.9,677.9 L2900.9,694.6 L2931.7,694.6 L2931.7,704.3 L2962.6,704.3 L2962.6,713.7 L2993.5,713.7 L2993.5,724.7 L3024.3,724.7 L3024.3,737 L3055.2,737 L3055.2,754.6 L3086,754.6 L3086,773.4 L3116.9,773.4 L3116.9,793.9 L3147.7,793.9 L3147.7,811.8 L3178.6,811.8 L3178.6,833.8 L3209.4,833.8 L3209.4,854.2 L3240.3,854.2 L3240.3,885 L3271.2,885 L3271.2,908.6 L3302,908.6 L3302,941 L3332.9,941 L3332.9,973 L3363.7,973 L3363.7,993 L3394.6,993 L3394.6,1022 L3425.4,1022 L3425.4,1034.8 L3456.3,1034.8 L3456.3,1056 L3487.2,1056 L3487.2,1084.7 L3518,1084.7 L3518,1084.7 L3548.9,1084.7 L3548.9,1113.9 L3579.7,1113.9 L3579.7,1123.8 L3610.6,1123.8 L3610.6,1157.9 L3641.4,1157.9 L3641.4,1170.3 L3672.3,1170.3 L3672.3,1187.9 L3703.1,1187.9 L3703.1,1175.6 L3734,1175.6 L3734,1300.4 Z" fill="#7C9AD2" stroke="#7C9AD2" stroke-width="5.6" stroke-linejoin="miter"/>
<path d="M2191.2,1300.4 L2191.2,568.6 L2222.1,568.6 L2222.1,589 L2252.9,589 L2252.9,602.5 L2283.8,602.5 L2283.8,598.4 L2314.6,598.4 L2314.6,594 L2345.5,594 L2345.5,590.9 L2376.3,590.9 L2376.3,590.9 L2407.2,590.9 L2407.2,593.1 L2438,593.1 L2438,597.8 L2468.9,597.8 L2468.9,604.1 L2499.8,604.1 L2499.8,611.9 L2530.6,611.9 L2530.6,621.4 L2561.5,621.4 L2561.5,632.4 L2592.3,632.4 L2592.3,644 L2623.2,644 L2623.2,656.6 L2654,656.6 L2654,669.1 L2684.9,669.1 L2684.9,681.1 L2715.8,681.1 L2715.8,693 L2746.6,693 L2746.6,703.1 L2777.5,703.1 L2777.5,713.1 L2808.3,713.1 L2808.3,722.8 L2839.2,722.8 L2839.2,732.3 L2870,732.3 L2870,741.1 L2900.9,741.1 L2900.9,749.6 L2931.7,749.6 L2931.7,757.4 L2962.6,757.4 L2962.6,765.3 L2993.5,765.3 L2993.5,773.4 L3024.3,773.4 L3024.3,785.1 L3055.2,785.1 L3055.2,803.9 L3086,803.9 L3086,829.7 L3116.9,829.7 L3116.9,855.8 L3147.7,855.8 L3147.7,875.6 L3178.6,875.6 L3178.6,896.6 L3209.4,896.6 L3209.4,918.6 L3240.3,918.6 L3240.3,958.9 L3271.2,958.9 L3271.2,994.3 L3302,994.3 L3302,1037.8 L3332.9,1037.8 L3332.9,1102.6 L3363.7,1102.6 L3363.7,1139.3 L3394.6,1139.3 L3394.6,1187.8 L3425.4,1187.8 L3425.4,1231.2 L3456.3,1231.2 L3456.3,1251.3 L3487.2,1251.3 L3487.2,1300.4 L3518,1300.4 L3518,1300.4 L3548.9,1300.4 L3548.9,1300.4 L3579.7,1300.4 L3579.7,1300.4 L3610.6,1300.4 L3610.6,1300.4 L3641.4,1300.4 L3641.4,1300.4 L3672.3,1300.4 L3672.3,1300.4 L3703.1,1300.4 L3703.1,1300.4 L3734,1300.4 L3734,1300.4 Z" fill="#FF9900" stroke="#FF9900" stroke-width="5.6" stroke-linejoin="miter"/>
<path d="M2191.2,1300.4 L2191.2,636.4 L2222.1,636.4 L2222.1,625.1 L2252.9,625.1 L2252.9,608.8 L2283.8,608.8 L2283.8,598.4 L2314.6,598.4 L2314.6,594 L2345.5,594 L2345.5,590.9 L2376.3,590.9 L2376.3,590.9 L2407.2,590.9 L2407.2,593.1 L2438,593.1 L2438,597.8 L2468.9,597.8 L2468.9,604.1 L2499.8,604.1 L2499.8,611.9 L2530.6,611.9 L2530.6,621.4 L2561.5,621.4 L2561.5,632.4 L2592.3,632.4 L2592.3,644 L2623.2,644 L2623.2,656.6 L2654,656.6 L2654,669.1 L2684.9,669.1 L2684.9,681.1 L2715.8,681.1 L2715.8,693 L2746.6,693 L2746.6,703.1 L2777.5,703.1 L2777.5,713.1 L2808.3,713.1 L2808.3,722.8 L2839.2,722.8 L2839.2,732.3 L2870,732.3 L2870,741.1 L2900.9,741.1 L2900.9,749.6 L2931.7,749.6 L2931.7,757.4 L2962.6,757.4 L2962.6,765.3 L2993.5,765.3 L2993.5,773.4 L3024.3,773.4 L3024.3,785.1 L3055.2,785.1 L3055.2,803.9 L3086,803.9 L3086,829.7 L3116.9,829.7 L3116.9,855.8 L3147.7,855.8 L3147.7,875.6 L3178.6,875.6 L3178.6,896.6 L3209.4,896.6 L3209.4,918.6 L3240.3,918.6 L3240.3,958.9 L3271.2,958.9 L3271.2,994.3 L3302,994.3 L3302,1037.8 L3332.9,1037.8 L3332.9,1102.6 L3363.7,1102.6 L3363.7,1139.3 L3394.6,1139.3 L3394.6,1187.8 L3425.4,1187.8 L3425.4,1231.2 L3456.3,1231.2 L3456.3,1251.3 L3487.2,1251.3 L3487.2,1300.4 L3518,1300.4 L3518,1300.4 L3548.9,1300.4 L3548.9,1300.4 L3579.7,1300.4 L3579.7,1300.4 L3610.6,1300.4 L3610.6,1300.4 L3641.4,1300.4 L3641.4,1300.4 L3672.3,1300.4 L3672.3,1300.4 L3703.1,1300.4 L3703.1,1300.4 L3734,1300.4 L3734,1300.4 Z" fill="#926B72" stroke="#926B72" stroke-width="5.6" stroke-linejoin="miter"/>
<path d="M2191.2,1300.4 L2191.2,674.8 L2222.1,674.8 L2222.1,649.6 L2252.9,649.6 L2252.9,629.8 L2283.8,629.8 L2283.8,618.2 L2314.6,618.2 L2314.6,611.9 L2345.5,611.9 L2345.5,607.8 L2376.3,607.8 L2376.3,607.8 L2407.2,607.8 L2407.2,610.4 L2438,610.4 L2438,615.1 L2468.9,615.1 L2468.9,622 L2499.8,622 L2499.8,630.8 L2530.6,630.8 L2530.6,641.8 L2561.5,641.8 L2561.5,654.4 L2592.3,654.4 L2592.3,668.5 L2623.2,668.5 L2623.2,682.6 L2654,682.6 L2654,697.7 L2684.9,697.7 L2684.9,710.9 L2715.8,710.9 L2715.8,724.4 L2746.6,724.4 L2746.6,736.1 L2777.5,736.1 L2777.5,748 L2808.3,748 L2808.3,758.6 L2839.2,758.6 L2839.2,768.8 L2870,768.8 L2870,784.4 L2900.9,784.4 L2900.9,798.3 L2931.7,798.3 L2931.7,811.8 L2962.6,811.8 L2962.6,826.6 L2993.5,826.6 L2993.5,841.6 L3024.3,841.6 L3024.3,860.5 L3055.2,860.5 L3055.2,877.7 L3086,877.7 L3086,895.7 L3116.9,895.7 L3116.9,916.1 L3147.7,916.1 L3147.7,940.6 L3178.6,940.6 L3178.6,975.2 L3209.4,975.2 L3209.4,996.8 L3240.3,996.8 L3240.3,1052.2 L3271.2,1052.2 L3271.2,1083 L3302,1083 L3302,1111.6 L3332.9,1111.6 L3332.9,1206.6 L3363.7,1206.6 L3363.7,1182.9 L3394.6,1182.9 L3394.6,1248.8 L3425.4,1248.8 L3425.4,1254.1 L3456.3,1254.1 L3456.3,1300.4 L3487.2,1300.4 L3487.2,1300.4 L3518,1300.4 L3518,1300.4 L3548.9,1300.4 L3548.9,1300.4 L3579.7,1300.4 L3579.7,1300.4 L3610.6,1300.4 L3610.6,1300.4 L3641.4,1300.4 L3641.4,1300.4 L3672.3,1300.4 L3672.3,1300.4 L3703.1,1300.4 L3703.1,1300.4 L3734,1300.4 L3734,1300.4 Z" fill="#CDC7AB" stroke="#CDC7AB" stroke-width="5.6" stroke-linejoin="miter"/>
<path d="M2191.2,1300.4 L2191.2,687.9 L2222.1,687.9 L2222.1,672.2 L2252.9,672.2 L2252.9,655.6 L2283.8,655.6 L2283.8,645.5 L2314.6,645.5 L2314.6,641.7 L2345.5,641.7 L2345.5,640.2 L2376.3,640.2 L2376.3,640.8 L2407.2,640.8 L2407.2,644.9 L2438,644.9 L2438,651.2 L2468.9,651.2 L2468.9,661.2 L2499.8,661.2 L2499.8,672.2 L2530.6,672.2 L2530.6,684.8 L2561.5,684.8 L2561.5,699.6 L2592.3,699.6 L2592.3,713.7 L2623.2,713.7 L2623.2,730.4 L2654,730.4 L2654,746.1 L2684.9,746.1 L2684.9,760.2 L2715.8,760.2 L2715.8,775.3 L2746.6,775.3 L2746.6,787.9 L2777.5,787.9 L2777.5,802.6 L2808.3,802.6 L2808.3,814.7 L2839.2,814.7 L2839.2,827.8 L2870,827.8 L2870,844.4 L2900.9,844.4 L2900.9,857.9 L2931.7,857.9 L2931.7,874.3 L2962.6,874.3 L2962.6,888.4 L2993.5,888.4 L2993.5,906 L3024.3,906 L3024.3,926.1 L3055.2,926.1 L3055.2,952.2 L3086,952.2 L3086,968.8 L3116.9,968.8 L3116.9,993.6 L3147.7,993.6 L3147.7,1016.2 L3178.6,1016.2 L3178.6,1054.8 L3209.4,1054.8 L3209.4,1072.8 L3240.3,1072.8 L3240.3,1162.2 L3271.2,1162.2 L3271.2,1160.8 L3302,1160.8 L3302,1179.1 L3332.9,1179.1 L3332.9,1267.2 L3363.7,1267.2 L3363.7,1225.6 L3394.6,1225.6 L3394.6,1258.4 L3425.4,1258.4 L3425.4,1300.4 L3456.3,1300.4 L3456.3,1300.4 L3487.2,1300.4 L3487.2,1300.4 L3518,1300.4 L3518,1300.4 L3548.9,1300.4 L3548.9,1300.4 L3579.7,1300.4 L3579.7,1300.4 L3610.6,1300.4 L3610.6,1300.4 L3641.4,1300.4 L3641.4,1300.4 L3672.3,1300.4 L3672.3,1300.4 L3703.1,1300.4 L3703.1,1300.4 L3734,1300.4 L3734,1300.4 Z" fill="#FFFF00" stroke="#FFFF00" stroke-width="5.6" stroke-linejoin="miter"/>
<path d="M2191.2,1300.4 L2191.2,688.9 L2222.1,688.9 L2222.1,673.2 L2252.9,673.2 L2252.9,656.6 L2283.8,656.6 L2283.8,646.5 L2314.6,646.5 L2314.6,642.7 L2345.5,642.7 L2345.5,641.2 L2376.3,641.2 L2376.3,641.8 L2407.2,641.8 L2407.2,645.9 L2438,645.9 L2438,652.2 L2468.9,652.2 L2468.9,662.2 L2499.8,662.2 L2499.8,673.2 L2530.6,673.2 L2530.6,685.8 L2561.5,685.8 L2561.5,700.6 L2592.3,700.6 L2592.3,714.7 L2623.2,714.7 L2623.2,731.4 L2654,731.4 L2654,747.1 L2684.9,747.1 L2684.9,761.2 L2715.8,761.2 L2715.8,776.3 L2746.6,776.3 L2746.6,788.9 L2777.5,788.9 L2777.5,803.6 L2808.3,803.6 L2808.3,815.7 L2839.2,815.7 L2839.2,828.8 L2870,828.8 L2870,845.4 L2900.9,845.4 L2900.9,858.9 L2931.7,858.9 L2931.7,875.3 L2962.6,875.3 L2962.6,889.4 L2993.5,889.4 L2993.5,907 L3024.3,907 L3024.3,927.1 L3055.2,927.1 L3055.2,953.2 L3086,953.2 L3086,969.8 L3116.9,969.8 L3116.9,994.6 L3147.7,994.6 L3147.7,1017.2 L3178.6,1017.2 L3178.6,1056.6 L3209.4,1056.6 L3209.4,1076.4 L3240.3,1076.4 L3240.3,1163.2 L3271.2,1163.2 L3271.2,1161.8 L3302,1161.8 L3302,1180.1 L3332.9,1180.1 L3332.9,1268.2 L3363.7,1268.2 L3363.7,1226.6 L3394.6,1226.6 L3394.6,1259.4 L3425.4,1259.4 L3425.4,1300.4 L3456.3,1300.4 L3456.3,1300.4 L3487.2,1300.4 L3487.2,1300.4 L3518,1300.4 L3518,1300.4 L3548.9,1300.4 L3548.9,1300.4 L3579.7,1300.4 L3579.7,1300.4 L3610.6,1300.4 L3610.6,1300.4 L3641.4,1300.4 L3641.4,1300.4 L3672.3,1300.4 L3672.3,1300.4 L3703.1,1300.4 L3703.1,1300.4 L3734,1300.4 L3734,1300.4 Z" fill="#FF6699" stroke="#FF6699" stroke-width="5.6" stroke-linejoin="miter"/>
<path d="M2191.2,1300.4 L2191.2,709.8 L2222.1,709.8 L2222.1,698.8 L2252.9,698.8 L2252.9,685.8 L2283.8,685.8 L2283.8,680.2 L2314.6,680.2 L2314.6,680.2 L2345.5,680.2 L2345.5,683.8 L2376.3,683.8 L2376.3,691.1 L2407.2,691.1 L2407.2,701.1 L2438,701.1 L2438,713.8 L2468.9,713.8 L2468.9,727.2 L2499.8,727.2 L2499.8,741.4 L2530.6,741.4 L2530.6,755.5 L2561.5,755.5 L2561.5,771.2 L2592.3,771.2 L2592.3,783.8 L2623.2,783.8 L2623.2,801.1 L2654,801.1 L2654,814.6 L2684.9,814.6 L2684.9,827.8 L2715.8,827.8 L2715.8,839.7 L2746.6,839.7 L2746.6,852.8 L2777.5,852.8 L2777.5,864.8 L2808.3,864.8 L2808.3,873.8 L2839.2,873.8 L2839.2,892.6 L2870,892.6 L2870,904.5 L2900.9,904.5 L2900.9,914.8 L2931.7,914.8 L2931.7,929.6 L2962.6,929.6 L2962.6,941.6 L2993.5,941.6 L2993.5,957.9 L3024.3,957.9 L3024.3,972.1 L3055.2,972.1 L3055.2,999.8 L3086,999.8 L3086,1015.2 L3116.9,1015.2 L3116.9,1029.8 L3147.7,1029.8 L3147.7,1052.7 L3178.6,1052.7 L3178.6,1072.4 L3209.4,1072.4 L3209.4,1093.8 L3240.3,1093.8 L3240.3,1178.8 L3271.2,1178.8 L3271.2,1170.2 L3302,1170.2 L3302,1184.8 L3332.9,1184.8 L3332.9,1300.4 L3363.7,1300.4 L3363.7,1243.3 L3394.6,1243.3 L3394.6,1300.4 L3425.4,1300.4 L3425.4,1300.4 L3456.3,1300.4 L3456.3,1277 L3487.2,1277 L3487.2,1300.4 L3518,1300.4 L3518,1300.4 L3548.9,1300.4 L3548.9,1300.4 L3579.7,1300.4 L3579.7,1300.4 L3610.6,1300.4 L3610.6,1300.4 L3641.4,1300.4 L3641.4,1300.4 L3672.3,1300.4 L3672.3,1300.4 L3703.1,1300.4 L3703.1,1300.4 L3734,1300.4 L3734,1300.4 Z" fill="#5AD455" stroke="#5AD455" stroke-width="5.6" stroke-linejoin="miter"/>
<path d="M2191.2,1300.4 L2191.2,714.1 L2222.1,714.1 L2222.1,699.9 L2252.9,699.9 L2252.9,686.7 L2283.8,686.7 L2283.8,681.1 L2314.6,681.1 L2314.6,681.1 L2345.5,681.1 L2345.5,684.8 L2376.3,684.8 L2376.3,692.1 L2407.2,692.1 L2407.2,702.1 L2438,702.1 L2438,714.7 L2468.9,714.7 L2468.9,728.2 L2499.8,728.2 L2499.8,742.4 L2530.6,742.4 L2530.6,756.5 L2561.5,756.5 L2561.5,772.2 L2592.3,772.2 L2592.3,784.8 L2623.2,784.8 L2623.2,802.1 L2654,802.1 L2654,815.6 L2684.9,815.6 L2684.9,828.8 L2715.8,828.8 L2715.8,840.7 L2746.6,840.7 L2746.6,853.9 L2777.5,853.9 L2777.5,865.9 L2808.3,865.9 L2808.3,875.3 L2839.2,875.3 L2839.2,893.5 L2870,893.5 L2870,906.1 L2900.9,906.1 L2900.9,917.1 L2931.7,917.1 L2931.7,935.3 L2962.6,935.3 L2962.6,944.7 L2993.5,944.7 L2993.5,965.8 L3024.3,965.8 L3024.3,980.5 L3055.2,980.5 L3055.2,1010.1 L3086,1010.1 L3086,1030.6 L3116.9,1030.6 L3116.9,1050.5 L3147.7,1050.5 L3147.7,1082.8 L3178.6,1082.8 L3178.6,1105.8 L3209.4,1105.8 L3209.4,1140.4 L3240.3,1140.4 L3240.3,1179.4 L3271.2,1179.4 L3271.2,1170.6 L3302,1170.6 L3302,1187.2 L3332.9,1187.2 L3332.9,1300.4 L3363.7,1300.4 L3363.7,1243.5 L3394.6,1243.5 L3394.6,1300.4 L3425.4,1300.4 L3425.4,1300.4 L3456.3,1300.4 L3456.3,1300.4 L3487.2,1300.4 L3487.2,1300.4 L3518,1300.4 L3518,1300.4 L3548.9,1300.4 L3548.9,1300.4 L3579.7,1300.4 L3579.7,1300.4 L3610.6,1300.4 L3610.6,1300.4 L3641.4,1300.4 L3641.4,1300.4 L3672.3,1300.4 L3672.3,1300.4 L3703.1,1300.4 L3703.1,1300.4 L3734,1300.4 L3734,1300.4 Z" fill="#00FFFF" stroke="#00FFFF" stroke-width="5.6" stroke-linejoin="miter"/>
<path d="M2191.2,1300.4 L2191.2,765.3 L2222.1,765.3 L2222.1,794.2 L2252.9,794.2 L2252.9,793.6 L2283.8,793.6 L2283.8,794.2 L2314.6,794.2 L2314.6,797.3 L2345.5,797.3 L2345.5,799.8 L2376.3,799.8 L2376.3,806.8 L2407.2,806.8 L2407.2,813.7 L2438,813.7 L2438,820.9 L2468.9,820.9 L2468.9,828.1 L2499.8,828.1 L2499.8,833.5 L2530.6,833.5 L2530.6,839.8 L2561.5,839.8 L2561.5,847.6 L2592.3,847.6 L2592.3,857.1 L2623.2,857.1 L2623.2,868.1 L2654,868.1 L2654,872.8 L2684.9,872.8 L2684.9,879.1 L2715.8,879.1 L2715.8,885.3 L2746.6,885.3 L2746.6,892.6 L2777.5,892.6 L2777.5,901.1 L2808.3,901.1 L2808.3,913.8 L2839.2,913.8 L2839.2,928.1 L2870,928.1 L2870,940.6 L2900.9,940.6 L2900.9,947.8 L2931.7,947.8 L2931.7,962.6 L2962.6,962.6 L2962.6,973 L2993.5,973 L2993.5,992.5 L3024.3,992.5 L3024.3,1007.2 L3055.2,1007.2 L3055.2,1032.4 L3086,1032.4 L3086,1048.2 L3116.9,1048.2 L3116.9,1073.6 L3147.7,1073.6 L3147.7,1119.6 L3178.6,1119.6 L3178.6,1126.8 L3209.4,1126.8 L3209.4,1173.1 L3240.3,1173.1 L3240.3,1196 L3271.2,1196 L3271.2,1204.8 L3302,1204.8 L3302,1214.7 L3332.9,1214.7 L3332.9,1300.4 L3363.7,1300.4 L3363.7,1267.5 L3394.6,1267.5 L3394.6,1300.4 L3425.4,1300.4 L3425.4,1300.4 L3456.3,1300.4 L3456.3,1300.4 L3487.2,1300.4 L3487.2,1300.4 L3518,1300.4 L3518,1300.4 L3548.9,1300.4 L3548.9,1300.4 L3579.7,1300.4 L3579.7,1300.4 L3610.6,1300.4 L3610.6,1300.4 L3641.4,1300.4 L3641.4,1300.4 L3672.3,1300.4 L3672.3,1300.4 L3703.1,1300.4 L3703.1,1300.4 L3734,1300.4 L3734,1300.4 Z" fill="#86C1A5" stroke="#86C1A5" stroke-width="5.6" stroke-linejoin="miter"/>
<rect x="3332.9" y="969" width="30.9" height="8" fill="url(#hatch)"/>
<rect x="3363.7" y="988" width="30.9" height="10" fill="url(#hatch)"/>
<rect x="3394.6" y="1016" width="30.9" height="12" fill="url(#hatch)"/>
<rect x="3425.4" y="1028" width="30.9" height="13" fill="url(#hatch)"/>
<rect x="3456.3" y="1049" width="30.9" height="14" fill="url(#hatch)"/>
<rect x="3487.2" y="1075" width="30.9" height="20" fill="url(#hatch)"/>
<rect x="3518" y="1074" width="30.9" height="22" fill="url(#hatch)"/>
<rect x="3548.9" y="1101" width="30.9" height="26" fill="url(#hatch)"/>
<rect x="3579.7" y="1110" width="30.9" height="28" fill="url(#hatch)"/>
<rect x="3610.6" y="1140" width="30.9" height="38" fill="url(#hatch)"/>
<rect x="3641.4" y="1150" width="30.9" height="42" fill="url(#hatch)"/>
<rect x="3672.3" y="1162" width="30.9" height="52" fill="url(#hatch)"/>
<rect x="3703.1" y="1150" width="30.9" height="52" fill="url(#hatch)"/>
</g>
<g stroke="#000" stroke-width="3" fill="none">
<path d="M2252.9,1288.4 v-19 M2252.9,34.8 v19 M2314.6,1288.4 v-19 M2314.6,34.8 v19 M2376.3,1288.4 v-19 M2376.3,34.8 v19 M2438,1288.4 v-19 M2438,34.8 v19 M2499.8,1288.4 v-38.5 M2499.8,34.8 v38.5 M2561.5,1288.4 v-19 M2561.5,34.8 v19 M2623.2,1288.4 v-19 M2623.2,34.8 v19 M2684.9,1288.4 v-19 M2684.9,34.8 v19 M2746.6,1288.4 v-19 M2746.6,34.8 v19 M2808.3,1288.4 v-38.5 M2808.3,34.8 v38.5 M2870,1288.4 v-19 M2870,34.8 v19 M2931.7,1288.4 v-19 M2931.7,34.8 v19 M2993.5,1288.4 v-19 M2993.5,34.8 v19 M3055.2,1288.4 v-19 M3055.2,34.8 v19 M3116.9,1288.4 v-38.5 M3116.9,34.8 v38.5 M3178.6,1288.4 v-19 M3178.6,34.8 v19 M3240.3,1288.4 v-19 M3240.3,34.8 v19 M3302,1288.4 v-19 M3302,34.8 v19 M3363.7,1288.4 v-19 M3363.7,34.8 v19 M3425.4,1288.4 v-38.5 M3425.4,34.8 v38.5 M3487.2,1288.4 v-19 M3487.2,34.8 v19 M3548.9,1288.4 v-19 M3548.9,34.8 v19 M3610.6,1288.4 v-19 M3610.6,34.8 v19 M3672.3,1288.4 v-19 M3672.3,34.8 v19 M2191.2,1267.9 h23.2 M3734,1267.9 h-23.2 M2191.2,1248.4 h23.2 M3734,1248.4 h-23.2 M2191.2,1233.3 h23.2 M3734,1233.3 h-23.2 M2191.2,1220.9 h23.2 M3734,1220.9 h-23.2 M2191.2,1210.5 h23.2 M3734,1210.5 h-23.2 M2191.2,1201.4 h23.2 M3734,1201.4 h-23.2 M2191.2,1193.4 h23.2 M3734,1193.4 h-23.2 M2191.2,1186.3 h46.3 M3734,1186.3 h-46.3 M2191.2,1139.3 h23.2 M3734,1139.3 h-23.2 M2191.2,1111.8 h23.2 M3734,1111.8 h-23.2 M2191.2,1092.3 h23.2 M3734,1092.3 h-23.2 M2191.2,1077.2 h23.2 M3734,1077.2 h-23.2 M2191.2,1064.8 h23.2 M3734,1064.8 h-23.2 M2191.2,1054.4 h23.2 M3734,1054.4 h-23.2 M2191.2,1045.3 h23.2 M3734,1045.3 h-23.2 M2191.2,1037.3 h23.2 M3734,1037.3 h-23.2 M2191.2,1030.2 h46.3 M3734,1030.2 h-46.3 M2191.2,983.2 h23.2 M3734,983.2 h-23.2 M2191.2,955.7 h23.2 M3734,955.7 h-23.2 M2191.2,936.2 h23.2 M3734,936.2 h-23.2 M2191.2,921.1 h23.2 M3734,921.1 h-23.2 M2191.2,908.7 h23.2 M3734,908.7 h-23.2 M2191.2,898.3 h23.2 M3734,898.3 h-23.2 M2191.2,889.2 h23.2 M3734,889.2 h-23.2 M2191.2,881.2 h23.2 M3734,881.2 h-23.2 M2191.2,874.1 h46.3 M3734,874.1 h-46.3 M2191.2,827.1 h23.2 M3734,827.1 h-23.2 M2191.2,799.6 h23.2 M3734,799.6 h-23.2 M2191.2,780.1 h23.2 M3734,780.1 h-23.2 M2191.2,765 h23.2 M3734,765 h-23.2 M2191.2,752.6 h23.2 M3734,752.6 h-23.2 M2191.2,742.2 h23.2 M3734,742.2 h-23.2 M2191.2,733.1 h23.2 M3734,733.1 h-23.2 M2191.2,725.1 h23.2 M3734,725.1 h-23.2 M2191.2,718 h46.3 M3734,718 h-46.3 M2191.2,671 h23.2 M3734,671 h-23.2 M2191.2,643.5 h23.2 M3734,643.5 h-23.2 M2191.2,624 h23.2 M3734,624 h-23.2 M2191.2,608.9 h23.2 M3734,608.9 h-23.2 M2191.2,596.5 h23.2 M3734,596.5 h-23.2 M2191.2,586.1 h23.2 M3734,586.1 h-23.2 M2191.2,577 h23.2 M3734,577 h-23.2 M2191.2,569 h23.2 M3734,569 h-23.2 M2191.2,561.9 h46.3 M3734,561.9 h-46.3 M2191.2,514.9 h23.2 M3734,514.9 h-23.2 M2191.2,487.4 h23.2 M3734,487.4 h-23.2 M2191.2,467.9 h23.2 M3734,467.9 h-23.2 M2191.2,452.8 h23.2 M3734,452.8 h-23.2 M2191.2,440.4 h23.2 M3734,440.4 h-23.2 M2191.2,430 h23.2 M3734,430 h-23.2 M2191.2,420.9 h23.2 M3734,420.9 h-23.2 M2191.2,412.9 h23.2 M3734,412.9 h-23.2 M2191.2,405.8 h46.3 M3734,405.8 h-46.3 M2191.2,358.8 h23.2 M3734,358.8 h-23.2 M2191.2,331.3 h23.2 M3734,331.3 h-23.2 M2191.2,311.8 h23.2 M3734,311.8 h-23.2 M2191.2,296.7 h23.2 M3734,296.7 h-23.2 M2191.2,284.3 h23.2 M3734,284.3 h-23.2 M2191.2,273.9 h23.2 M3734,273.9 h-23.2 M2191.2,264.8 h23.2 M3734,264.8 h-23.2 M2191.2,256.8 h23.2 M3734,256.8 h-23.2 M2191.2,249.7 h46.3 M3734,249.7 h-46.3 M2191.2,202.7 h23.2 M3734,202.7 h-23.2 M2191.2,175.2 h23.2 M3734,175.2 h-23.2 M2191.2,155.7 h23.2 M3734,155.7 h-23.2 M2191.2,140.6 h23.2 M3734,140.6 h-23.2 M2191.2,128.2 h23.2 M3734,128.2 h-23.2 M2191.2,117.8 h23.2 M3734,117.8 h-23.2 M2191.2,108.7 h23.2 M3734,108.7 h-23.2 M2191.2,100.7 h23.2 M3734,100.7 h-23.2 M2191.2,93.6 h46.3 M3734,93.6 h-46.3 M2191.2,46.6 h23.2 M3734,46.6 h-23.2"/>
</g>
<rect x="2191.2" y="34.8" width="1542.8" height="1253.6" fill="none" stroke="#000" stroke-width="3.3"/>
<path d="M2191.2,448.9 L2222.1,448.9 L2222.1,476.5 L2252.9,476.5 L2252.9,492.9 L2283.8,492.9 L2283.8,505.4 L2314.6,505.4 L2314.6,515.5 L2345.5,515.5 L2345.5,524.9 L2376.3,524.9 L2376.3,533.7 L2407.2,533.7 L2407.2,542.2 L2438,542.2 L2438,551 L2468.9,551 L2468.9,558.9 L2499.8,558.9 L2499.8,567.7 L2530.6,567.7 L2530.6,576.1 L2561.5,576.1 L2561.5,585.6 L2592.3,585.6 L2592.3,594.4 L2623.2,594.4 L2623.2,603.8 L2654,603.8 L2654,615.4 L2684.9,615.4 L2684.9,624.8 L2715.8,624.8 L2715.8,634.9 L2746.6,634.9 L2746.6,643.1 L2777.5,643.1 L2777.5,652.2 L2808.3,652.2 L2808.3,661 L2839.2,661 L2839.2,669.3 L2870,669.3 L2870,677.9 L2900.9,677.9 L2900.9,687 L2931.7,687 L2931.7,695.9 L2962.6,695.9 L2962.6,704.3 L2993.5,704.3 L2993.5,713.8 L3024.3,713.8 L3024.3,727.3 L3055.2,727.3 L3055.2,743.6 L3086,743.6 L3086,760.9 L3116.9,760.9 L3116.9,778.2 L3147.7,778.2 L3147.7,792.3 L3178.6,792.3 L3178.6,809 L3209.4,809 L3209.4,831 L3240.3,831 L3240.3,869.6 L3271.2,869.6 L3271.2,908.6 L3302,908.6 L3302,941 L3332.9,941 L3332.9,973 L3363.7,973 L3363.7,993 L3394.6,993 L3394.6,1022 L3425.4,1022 L3425.4,1034.8 L3456.3,1034.8 L3456.3,1056 L3487.2,1056 L3487.2,1084.7 L3518,1084.7 L3518,1084.7 L3548.9,1084.7 L3548.9,1113.9 L3579.7,1113.9 L3579.7,1123.8 L3610.6,1123.8 L3610.6,1157.9 L3641.4,1157.9 L3641.4,1170.3 L3672.3,1170.3 L3672.3,1187.9 L3703.1,1187.9 L3703.1,1175.6 L3734,1175.6" fill="none" stroke="#000" stroke-width="5.5" stroke-linejoin="miter" clip-path="url(#clipb)"/>
<path d="M2191.2,706.6 L2222.1,706.6 L2222.1,678.3 L2252.9,678.3 L2252.9,739.6 L2283.8,739.6 L2283.8,902.3 L2314.6,902.3 L2314.6,1198.4 L2345.5,1198.4 L2345.5,1288.4 L2376.3,1288.4 L2376.3,1288.4 L2407.2,1288.4 L2407.2,1288.4 L2438,1288.4 L2438,1288.4 L2468.9,1288.4 L2468.9,1288.4 L2499.8,1288.4 L2499.8,1288.4 L2530.6,1288.4 L2530.6,1288.4 L2561.5,1288.4 L2561.5,1288.4 L2592.3,1288.4 L2592.3,1288.4 L2623.2,1288.4 L2623.2,1288.4 L2654,1288.4 L2654,1288.4 L2684.9,1288.4 L2684.9,1288.4 L2715.8,1288.4 L2715.8,1288.4 L2746.6,1288.4 L2746.6,1288.4 L2777.5,1288.4 L2777.5,1288.4 L2808.3,1288.4 L2808.3,1288.4 L2839.2,1288.4 L2839.2,1288.4 L2870,1288.4 L2870,1288.4 L2900.9,1288.4 L2900.9,1288.4 L2931.7,1288.4 L2931.7,1288.4 L2962.6,1288.4 L2962.6,1288.4 L2993.5,1288.4 L2993.5,1288.4 L3024.3,1288.4 L3024.3,1288.4 L3055.2,1288.4 L3055.2,1288.4 L3086,1288.4 L3086,1288.4 L3116.9,1288.4 L3116.9,1288.4 L3147.7,1288.4 L3147.7,1288.4 L3178.6,1288.4 L3178.6,1288.4 L3209.4,1288.4 L3209.4,1288.4 L3240.3,1288.4 L3240.3,1288.4 L3271.2,1288.4 L3271.2,1288.4 L3302,1288.4 L3302,1288.4 L3332.9,1288.4 L3332.9,1288.4 L3363.7,1288.4 L3363.7,1288.4 L3394.6,1288.4 L3394.6,1288.4 L3425.4,1288.4 L3425.4,1288.4 L3456.3,1288.4 L3456.3,1288.4 L3487.2,1288.4 L3487.2,1288.4 L3518,1288.4 L3518,1288.4 L3548.9,1288.4 L3548.9,1288.4 L3579.7,1288.4 L3579.7,1288.4 L3610.6,1288.4 L3610.6,1288.4 L3641.4,1288.4 L3641.4,1288.4 L3672.3,1288.4 L3672.3,1288.4 L3703.1,1288.4 L3703.1,1288.4 L3734,1288.4" fill="none" stroke="#000" stroke-width="12.6" stroke-dasharray="17 17.3" stroke-linejoin="miter"/>
<path d="M2191.2,865.3 L2222.1,865.3 L2222.1,797.7 L2252.9,797.7 L2252.9,786.7 L2283.8,786.7 L2283.8,775.7 L2314.6,775.7 L2314.6,771 L2345.5,771 L2345.5,769.4 L2376.3,769.4 L2376.3,778.8 L2407.2,778.8 L2407.2,793 L2438,793 L2438,802.4 L2468.9,802.4 L2468.9,814 L2499.8,814 L2499.8,823.5 L2530.6,823.5 L2530.6,849.5 L2561.5,849.5 L2561.5,891.5 L2592.3,891.5 L2592.3,925.6 L2623.2,925.6 L2623.2,1001.3 L2654,1001.3 L2654,1074.5 L2684.9,1074.5 L2684.9,1111.1 L2715.8,1111.1 L2715.8,1186.9 L2746.6,1186.9 L2746.6,1288.4 L2777.5,1288.4 L2777.5,1288.4 L2808.3,1288.4 L2808.3,1288.4 L2839.2,1288.4 L2839.2,1288.4 L2870,1288.4 L2870,1288.4 L2900.9,1288.4 L2900.9,1288.4 L2931.7,1288.4 L2931.7,1288.4 L2962.6,1288.4 L2962.6,1288.4 L2993.5,1288.4 L2993.5,1288.4 L3024.3,1288.4 L3024.3,1288.4 L3055.2,1288.4 L3055.2,1288.4 L3086,1288.4 L3086,1288.4 L3116.9,1288.4 L3116.9,1288.4 L3147.7,1288.4 L3147.7,1288.4 L3178.6,1288.4 L3178.6,1288.4 L3209.4,1288.4 L3209.4,1288.4 L3240.3,1288.4 L3240.3,1288.4 L3271.2,1288.4 L3271.2,1288.4 L3302,1288.4 L3302,1288.4 L3332.9,1288.4 L3332.9,1288.4 L3363.7,1288.4 L3363.7,1288.4 L3394.6,1288.4 L3394.6,1288.4 L3425.4,1288.4 L3425.4,1288.4 L3456.3,1288.4 L3456.3,1288.4 L3487.2,1288.4 L3487.2,1288.4 L3518,1288.4 L3518,1288.4 L3548.9,1288.4 L3548.9,1288.4 L3579.7,1288.4 L3579.7,1288.4 L3610.6,1288.4 L3610.6,1288.4 L3641.4,1288.4 L3641.4,1288.4 L3672.3,1288.4 L3672.3,1288.4 L3703.1,1288.4 L3703.1,1288.4 L3734,1288.4" fill="none" stroke="#FF0000" stroke-width="12.6" stroke-dasharray="17 17.3" stroke-linejoin="miter"/>
<path d="M2191.2,913.3 L2222.1,913.3 L2222.1,859 L2252.9,859 L2252.9,831.6 L2283.8,831.6 L2283.8,820.6 L2314.6,820.6 L2314.6,811.2 L2345.5,811.2 L2345.5,804 L2376.3,804 L2376.3,797 L2407.2,797 L2407.2,796.1 L2438,796.1 L2438,801.5 L2468.9,801.5 L2468.9,807.1 L2499.8,807.1 L2499.8,813.4 L2530.6,813.4 L2530.6,823.5 L2561.5,823.5 L2561.5,830.7 L2592.3,830.7 L2592.3,838.5 L2623.2,838.5 L2623.2,848 L2654,848 L2654,857.4 L2684.9,857.4 L2684.9,872.8 L2715.8,872.8 L2715.8,881.5 L2746.6,881.5 L2746.6,892.2 L2777.5,892.2 L2777.5,908 L2808.3,908 L2808.3,928.1 L2839.2,928.1 L2839.2,954.4 L2870,954.4 L2870,973.2 L2900.9,973.2 L2900.9,986 L2931.7,986 L2931.7,1012.5 L2962.6,1012.5 L2962.6,1024.2 L2993.5,1024.2 L2993.5,1081.8 L3024.3,1081.8 L3024.3,1129 L3055.2,1129 L3055.2,1152 L3086,1152 L3086,1203.8 L3116.9,1203.8 L3116.9,1241.5 L3147.7,1241.5 L3147.7,1279 L3178.6,1279 L3178.6,1288.4 L3209.4,1288.4 L3209.4,1288.4 L3240.3,1288.4 L3240.3,1288.4 L3271.2,1288.4 L3271.2,1288.4 L3302,1288.4 L3302,1288.4 L3332.9,1288.4 L3332.9,1288.4 L3363.7,1288.4 L3363.7,1288.4 L3394.6,1288.4 L3394.6,1288.4 L3425.4,1288.4 L3425.4,1288.4 L3456.3,1288.4 L3456.3,1288.4 L3487.2,1288.4 L3487.2,1288.4 L3518,1288.4 L3518,1288.4 L3548.9,1288.4 L3548.9,1288.4 L3579.7,1288.4 L3579.7,1288.4 L3610.6,1288.4 L3610.6,1288.4 L3641.4,1288.4 L3641.4,1288.4 L3672.3,1288.4 L3672.3,1288.4 L3703.1,1288.4 L3703.1,1288.4 L3734,1288.4" fill="none" stroke="#00FF00" stroke-width="12.6" stroke-dasharray="17 17.3" stroke-linejoin="miter"/>
<path d="M2330.1,1187 V1218" fill="none" stroke="#000" stroke-width="12.6" stroke-dasharray="17 17.3"/>
<path d="M2731.2,1174 V1203" fill="none" stroke="#FF0000" stroke-width="12.6" stroke-dasharray="17 17.3"/>
<path d="M3101.5,1191 V1223" fill="none" stroke="#00FF00" stroke-width="12.6" stroke-dasharray="17 17.3"/>
<path d="M3132.3,1225 V1265" fill="none" stroke="#00FF00" stroke-width="12.6" stroke-dasharray="17 17.3"/>
<path d="M3163.2,1265 V1288" fill="none" stroke="#00FF00" stroke-width="12.6" stroke-dasharray="17 17.3"/>
<g font-family='"Liberation Sans", sans-serif' fill="#000">
<text x="2191.2" y="1358.8" font-size="73" text-anchor="middle">0</text>
<text x="2499.8" y="1358.8" font-size="73" text-anchor="middle">50</text>
<text x="2808.3" y="1358.8" font-size="73" text-anchor="middle">100</text>
<text x="3116.9" y="1358.8" font-size="73" text-anchor="middle">150</text>
<text x="3425.4" y="1358.8" font-size="73" text-anchor="middle">200</text>
<text x="3734" y="1358.8" font-size="73" text-anchor="middle">250</text>
<text x="2177.3" y="1212.3" font-size="72" text-anchor="end">10</text>
<text x="2150.3" y="1063.2" font-size="72" text-anchor="end">10</text>
<text x="2175.3" y="1031.2" font-size="47" text-anchor="end">2</text>
<text x="2150.3" y="907.1" font-size="72" text-anchor="end">10</text>
<text x="2175.3" y="875.1" font-size="47" text-anchor="end">3</text>
<text x="2150.3" y="751" font-size="72" text-anchor="end">10</text>
<text x="2175.3" y="719" font-size="47" text-anchor="end">4</text>
<text x="2150.3" y="594.9" font-size="72" text-anchor="end">10</text>
<text x="2175.3" y="562.9" font-size="47" text-anchor="end">5</text>
<text x="2150.3" y="438.8" font-size="72" text-anchor="end">10</text>
<text x="2175.3" y="406.8" font-size="47" text-anchor="end">6</text>
<text x="2150.3" y="282.7" font-size="72" text-anchor="end">10</text>
<text x="2175.3" y="250.7" font-size="47" text-anchor="end">7</text>
<text x="2150.3" y="126.6" font-size="72" text-anchor="end">10</text>
<text x="2175.3" y="94.6" font-size="47" text-anchor="end">8</text>
<text transform="translate(2043.9,19.5) rotate(-90)" font-size="74" text-anchor="end" textLength="487" lengthAdjust="spacingAndGlyphs">Events / 5 GeV</text>
<text x="3459.1" y="1439" font-size="73">P</text><text x="3504.4" y="1460.2" font-size="50">T</text><text x="3555.7" y="1439" font-size="73">[GeV]</text>
</g>
<g transform="translate(1970.4,0)">
<rect x="927" y="48.6" width="338" height="305" fill="#fff"/>
<rect x="1335" y="48.6" width="242.5" height="305" fill="#fff"/>
<g font-family='"Liberation Sans", sans-serif' fill="#000">
<text x="275" y="146" font-size="66" font-weight="bold" font-style="italic" textLength="555" lengthAdjust="spacingAndGlyphs">CEPC Simulation</text>
<text x="277" y="240" font-size="63" font-family='"DejaVu Sans", sans-serif' textLength="28" lengthAdjust="spacingAndGlyphs">&#8730;</text>
<path d="M295.5,187.2 H331.5" stroke="#000" stroke-width="3" fill="none"/>
<text x="304.5" y="240" font-size="63" textLength="557" lengthAdjust="spacingAndGlyphs">s = 360 GeV, 1.0 ab</text>
<text x="866.5" y="212" font-size="40" textLength="27" lengthAdjust="spacingAndGlyphs">-1</text>
<text x="270" y="335" font-size="63">e</text>
<text x="300" y="307" font-size="40">+</text>
<text x="326.7" y="335" font-size="63">e</text>
<text x="358" y="307" font-size="40">-</text>
<text x="373" y="335" font-size="63" font-family='"DejaVu Sans", sans-serif' textLength="55" lengthAdjust="spacingAndGlyphs">&#8594;</text>
<text x="431" y="335" font-size="66" font-family='"Liberation Serif", serif' textLength="27" lengthAdjust="spacingAndGlyphs">&#964;</text>
<text x="461.7" y="355" font-size="44" textLength="63" lengthAdjust="spacingAndGlyphs">L,R</text>
<text x="528" y="335" font-size="66" font-family='"Liberation Serif", serif' textLength="26" lengthAdjust="spacingAndGlyphs">&#964;</text>
<text x="555" y="355" font-size="44" textLength="63" lengthAdjust="spacingAndGlyphs">L,R</text>
<text x="620" y="335" font-size="63">,</text>
<text x="646.5" y="335" font-size="66" font-family='"Liberation Serif", serif' textLength="26" lengthAdjust="spacingAndGlyphs">&#964;</text>
<text x="676.7" y="335" font-size="63" font-family='"DejaVu Sans", sans-serif' textLength="56" lengthAdjust="spacingAndGlyphs">&#8594;</text>
<text x="736.5" y="335" font-size="66" font-family='"Liberation Serif", serif' textLength="26" lengthAdjust="spacingAndGlyphs">&#964;</text>
<text x="764.5" y="335" font-size="66" font-family='"Liberation Serif", serif' textLength="36" lengthAdjust="spacingAndGlyphs">&#967;</text>
<text x="811.5" y="299" font-size="40">0</text>
<text x="801" y="367" font-size="40">1</text>
<text x="430" y="313" font-size="54" textLength="29" lengthAdjust="spacingAndGlyphs">~</text>
<text x="527" y="313" font-size="54" textLength="28" lengthAdjust="spacingAndGlyphs">~</text>
<text x="645" y="313" font-size="54" textLength="28" lengthAdjust="spacingAndGlyphs">~</text>
<text x="766" y="313" font-size="54" textLength="32" lengthAdjust="spacingAndGlyphs">~</text>
<rect x="932.3" y="117.2" width="56.4" height="47" rx="3" fill="#7C9AD2"/>
<rect x="932.3" y="177.5" width="56.4" height="46.5" rx="3" fill="#CDC7AB"/>
<rect x="932.3" y="238" width="56.4" height="47" rx="3" fill="#FF6699"/>
<rect x="932.3" y="298" width="56.4" height="47" rx="3" fill="#00FFFF"/>
<clipPath id="tsm"><rect x="934" y="59.5" width="52.5" height="42.5"/></clipPath>
<path d="M935.2,59.8 L977.9,101 M960.4,59.8 L985.5,84.2 M935.2,84.2 L952.8,101.7" stroke="#000" stroke-width="3" fill="none"/>
<path d="M934.5,81 H986.3" stroke="#000" stroke-width="6.6" fill="none"/>
<text x="998" y="93.7" font-size="45" textLength="180.5" lengthAdjust="spacingAndGlyphs">Total SM</text>
<text x="997.5" y="154" font-size="48" font-family='"Liberation Serif", serif' textLength="38.5" lengthAdjust="spacingAndGlyphs">&#964;&#964;</text>
<text x="997.6" y="213.6" font-size="45">e</text>
<text x="1019.5" y="213.6" font-size="47" font-family='"Liberation Serif", serif' textLength="22" lengthAdjust="spacingAndGlyphs">&#957;</text>
<text x="1045" y="213.6" font-size="45" textLength="99.5" lengthAdjust="spacingAndGlyphs">W,W</text>
<text x="1146.3" y="213.6" font-size="45" font-family='"DejaVu Sans", sans-serif' textLength="43" lengthAdjust="spacingAndGlyphs">&#8594;</text>
<text x="1189.7" y="213.6" font-size="47" font-family='"Liberation Serif", serif' textLength="40" lengthAdjust="spacingAndGlyphs">&#964;&#957;</text>
<text x="997.2" y="273" font-size="45" textLength="83.5" lengthAdjust="spacingAndGlyphs">WW</text>
<text x="1084" y="273" font-size="45" font-family='"DejaVu Sans", sans-serif' textLength="43" lengthAdjust="spacingAndGlyphs">&#8594;</text>
<text x="1130.5" y="273" font-size="45" textLength="17.5" lengthAdjust="spacingAndGlyphs">ll</text>
<text x="1149.4" y="273" font-size="47" font-family='"Liberation Serif", serif' textLength="42.6" lengthAdjust="spacingAndGlyphs">&#957;&#957;</text>
<text x="997.2" y="332.6" font-size="45" textLength="181.5" lengthAdjust="spacingAndGlyphs">ZZorWW</text>
<text x="1181.6" y="332.6" font-size="45" font-family='"DejaVu Sans", sans-serif' textLength="44" lengthAdjust="spacingAndGlyphs">&#8594;</text>
<text x="1229" y="332.6" font-size="47" font-family='"Liberation Serif", serif' textLength="79.6" lengthAdjust="spacingAndGlyphs">&#964;&#964;&#957;&#957;</text>
<rect x="1340" y="56" width="48" height="39.8" rx="3" fill="#DEBA87"/>
<rect x="1340" y="105.4" width="48" height="39.6" rx="3" fill="#FF9900"/>
<rect x="1340" y="155.7" width="48" height="40.3" rx="3" fill="#926B72"/>
<rect x="1340" y="206" width="48" height="40" rx="3" fill="#FFFF00"/>
<rect x="1340" y="256" width="48" height="40.5" rx="3" fill="#5AD455"/>
<rect x="1340" y="306.6" width="48" height="40.4" rx="3" fill="#86C1A5"/>
<text x="1394.5" y="86.6" font-size="45" font-family='"Liberation Serif", serif' textLength="50.3" lengthAdjust="spacingAndGlyphs">&#956;&#956;</text>
<text x="1394.5" y="134.8" font-size="45" textLength="178" lengthAdjust="spacingAndGlyphs">2-photon</text>
<text x="1394.5" y="185.9" font-size="45" textLength="135.4" lengthAdjust="spacingAndGlyphs">Others</text>
<text x="1394.5" y="237.5" font-size="45" textLength="180.3" lengthAdjust="spacingAndGlyphs">ZZorWW</text>
<text x="1576.9" y="237.5" font-size="45" font-family='"DejaVu Sans", sans-serif' textLength="43.5" lengthAdjust="spacingAndGlyphs">&#8594;</text>
<text x="1623" y="237.5" font-size="47" font-family='"Liberation Serif", serif' textLength="94.3" lengthAdjust="spacingAndGlyphs">&#956;&#956;&#957;&#957;</text>
<text x="1394.5" y="286.5" font-size="45" textLength="54.5" lengthAdjust="spacingAndGlyphs">ZZ</text>
<text x="1452.4" y="286.5" font-size="45" font-family='"DejaVu Sans", sans-serif' textLength="43" lengthAdjust="spacingAndGlyphs">&#8594;</text>
<text x="1497.2" y="286.5" font-size="47" font-family='"Liberation Serif", serif' textLength="94.3" lengthAdjust="spacingAndGlyphs">&#956;&#956;&#957;&#957;</text>
<text x="1394.5" y="338" font-size="45" textLength="54.5" lengthAdjust="spacingAndGlyphs">ZZ</text>
<text x="1452.4" y="338" font-size="45" font-family='"DejaVu Sans", sans-serif' textLength="43" lengthAdjust="spacingAndGlyphs">&#8594;</text>
<text x="1497.2" y="338" font-size="47" font-family='"Liberation Serif", serif' textLength="80.8" lengthAdjust="spacingAndGlyphs">&#964;&#964;&#957;&#957;</text>
<path d="M937,401.8 h17.6 M971.5,401.8 h17.6" stroke="#000" stroke-width="12.6" fill="none"/>
<path d="M964.5,401.8 h4" stroke="#000" stroke-width="3" fill="none"/>
<text x="1013" y="399" font-size="34" textLength="52.5" lengthAdjust="spacingAndGlyphs" font-weight="bold">( m</text>
<text x="1066" y="419.7" font-size="26" font-family='"Liberation Serif", serif' textLength="11.5" lengthAdjust="spacingAndGlyphs" font-weight="bold">&#964;</text>
<text x="1065" y="411" font-size="22" textLength="12.5" lengthAdjust="spacingAndGlyphs" font-weight="bold">~</text>
<text x="1087.5" y="399" font-size="34" textLength="49.5" lengthAdjust="spacingAndGlyphs" font-weight="bold">, m</text>
<text x="1136.5" y="422.5" font-size="26" font-family='"Liberation Serif", serif' textLength="14" lengthAdjust="spacingAndGlyphs" font-weight="bold">&#967;</text>
<text x="1137" y="412.5" font-size="22" textLength="13.5" lengthAdjust="spacingAndGlyphs" font-weight="bold">~</text>
<text x="1151" y="406" font-size="13" font-weight="bold">0</text>
<text x="1152" y="435" font-size="13" font-weight="bold">1</text>
<text x="1168.2" y="399" font-size="34" textLength="315.2" lengthAdjust="spacingAndGlyphs" font-weight="bold">) = ( 160, 150 ) GeV</text>
<path d="M937,479 h17.6 M971.5,479 h17.6" stroke="#FF0000" stroke-width="12.6" fill="none"/>
<path d="M964.5,479 h4" stroke="#000" stroke-width="3" fill="none"/>
<text x="1013" y="475.8" font-size="34" textLength="52.5" lengthAdjust="spacingAndGlyphs" font-weight="bold">( m</text>
<text x="1066" y="496.5" font-size="26" font-family='"Liberation Serif", serif' textLength="11.5" lengthAdjust="spacingAndGlyphs" font-weight="bold">&#964;</text>
<text x="1065" y="487.8" font-size="22" textLength="12.5" lengthAdjust="spacingAndGlyphs" font-weight="bold">~</text>
<text x="1087.5" y="475.8" font-size="34" textLength="49.5" lengthAdjust="spacingAndGlyphs" font-weight="bold">, m</text>
<text x="1136.5" y="499.3" font-size="26" font-family='"Liberation Serif", serif' textLength="14" lengthAdjust="spacingAndGlyphs" font-weight="bold">&#967;</text>
<text x="1137" y="489.3" font-size="22" textLength="13.5" lengthAdjust="spacingAndGlyphs" font-weight="bold">~</text>
<text x="1151" y="482.8" font-size="13" font-weight="bold">0</text>
<text x="1152" y="511.8" font-size="13" font-weight="bold">1</text>
<text x="1168.2" y="475.8" font-size="34" textLength="315.2" lengthAdjust="spacingAndGlyphs" font-weight="bold">) = ( 160, 110 ) GeV</text>
<path d="M937,557 h17.6 M971.5,557 h17.6" stroke="#00FF00" stroke-width="12.6" fill="none"/>
<path d="M964.5,557 h4" stroke="#000" stroke-width="3" fill="none"/>
<text x="1013" y="553.7" font-size="34" textLength="52.5" lengthAdjust="spacingAndGlyphs" font-weight="bold">( m</text>
<text x="1066" y="574.4" font-size="26" font-family='"Liberation Serif", serif' textLength="11.5" lengthAdjust="spacingAndGlyphs" font-weight="bold">&#964;</text>
<text x="1065" y="565.7" font-size="22" textLength="12.5" lengthAdjust="spacingAndGlyphs" font-weight="bold">~</text>
<text x="1087.5" y="553.7" font-size="34" textLength="49.5" lengthAdjust="spacingAndGlyphs" font-weight="bold">, m</text>
<text x="1136.5" y="577.2" font-size="26" font-family='"Liberation Serif", serif' textLength="14" lengthAdjust="spacingAndGlyphs" font-weight="bold">&#967;</text>
<text x="1137" y="567.2" font-size="22" textLength="13.5" lengthAdjust="spacingAndGlyphs" font-weight="bold">~</text>
<text x="1151" y="560.7" font-size="13" font-weight="bold">0</text>
<text x="1152" y="589.7" font-size="13" font-weight="bold">1</text>
<text x="1168.2" y="553.7" font-size="34" textLength="297.6" lengthAdjust="spacingAndGlyphs" font-weight="bold">) = ( 160, 50 ) GeV</text>
</g>
</g>
<g font-family='"Liberation Serif", serif' fill="#000"><text x="2763.7" y="1541.6" font-size="67">(b)</text><text x="2872.2" y="1541.6" font-size="67" font-style="italic">P</text><text x="2907.2" y="1552.1" font-size="50" font-style="italic">T</text></g>
<clipPath id="clipc"><rect x="221" y="1664.8" width="1542.6" height="1254.1"/></clipPath>
<g clip-path="url(#clipc)">
<path d="M221,2930.9 L221,2232.4 L246.7,2232.4 L246.7,2305.9 L272.4,2305.9 L272.4,2310.5 L298.1,2310.5 L298.1,2311.6 L323.8,2311.6 L323.8,2306.7 L349.5,2306.7 L349.5,2303.6 L375.3,2303.6 L375.3,2301 L401,2301 L401,2299.8 L426.7,2299.8 L426.7,2300.2 L452.4,2300.2 L452.4,2302.1 L478.1,2302.1 L478.1,2304.8 L503.8,2304.8 L503.8,2311.2 L529.5,2311.2 L529.5,2318.1 L555.2,2318.1 L555.2,2325 L580.9,2325 L580.9,2331.4 L606.6,2331.4 L606.6,2333.3 L632.4,2333.3 L632.4,2335.2 L658.1,2335.2 L658.1,2336 L683.8,2336 L683.8,2333.3 L709.5,2333.3 L709.5,2327.6 L735.2,2327.6 L735.2,2328.8 L760.9,2328.8 L760.9,2335.2 L786.6,2335.2 L786.6,2337.9 L812.3,2337.9 L812.3,2339 L838,2339 L838,2339.4 L863.7,2339.4 L863.7,2339.4 L889.5,2339.4 L889.5,2339 L915.2,2339 L915.2,2338.7 L940.9,2338.7 L940.9,2338.3 L966.6,2338.3 L966.6,2338.6 L992.3,2338.6 L992.3,2339 L1018,2339 L1018,2339.2 L1043.7,2339.2 L1043.7,2339.4 L1069.4,2339.4 L1069.4,2339.6 L1095.1,2339.6 L1095.1,2340.6 L1120.8,2340.6 L1120.8,2341.5 L1146.6,2341.5 L1146.6,2342.8 L1172.3,2342.8 L1172.3,2344 L1198,2344 L1198,2345.2 L1223.7,2345.2 L1223.7,2346.4 L1249.4,2346.4 L1249.4,2348.1 L1275.1,2348.1 L1275.1,2350.1 L1300.8,2350.1 L1300.8,2352.2 L1326.5,2352.2 L1326.5,2354.5 L1352.2,2354.5 L1352.2,2357.1 L1377.9,2357.1 L1377.9,2360.4 L1403.7,2360.4 L1403.7,2363.8 L1429.4,2363.8 L1429.4,2368.1 L1455.1,2368.1 L1455.1,2372 L1480.8,2372 L1480.8,2376.4 L1506.5,2376.4 L1506.5,2381.8 L1532.2,2381.8 L1532.2,2388.2 L1557.9,2388.2 L1557.9,2395.1 L1583.6,2395.1 L1583.6,2399.8 L1609.3,2399.8 L1609.3,2404.9 L1635,2404.9 L1635,2413.1 L1660.8,2413.1 L1660.8,2425.2 L1686.5,2425.2 L1686.5,2436.3 L1712.2,2436.3 L1712.2,2445.8 L1737.9,2445.8 L1737.9,2427.8 L1763.6,2427.8 L1763.6,2930.9 Z" fill="#DEBA87" stroke="#DEBA87" stroke-width="5.6" stroke-linejoin="miter"/>
<path d="M221,2930.9 L221,2232.4 L246.7,2232.4 L246.7,2305.9 L272.4,2305.9 L272.4,2310.5 L298.1,2310.5 L298.1,2311.6 L323.8,2311.6 L323.8,2306.7 L349.5,2306.7 L349.5,2303.6 L375.3,2303.6 L375.3,2301 L401,2301 L401,2299.8 L426.7,2299.8 L426.7,2300.2 L452.4,2300.2 L452.4,2302.1 L478.1,2302.1 L478.1,2304.8 L503.8,2304.8 L503.8,2311.2 L529.5,2311.2 L529.5,2318.1 L555.2,2318.1 L555.2,2325 L580.9,2325 L580.9,2331.4 L606.6,2331.4 L606.6,2333.3 L632.4,2333.3 L632.4,2335.2 L658.1,2335.2 L658.1,2336 L683.8,2336 L683.8,2333.3 L709.5,2333.3 L709.5,2327.6 L735.2,2327.6 L735.2,2328.8 L760.9,2328.8 L760.9,2335.2 L786.6,2335.2 L786.6,2337.9 L812.3,2337.9 L812.3,2339 L838,2339 L838,2339.4 L863.7,2339.4 L863.7,2339.4 L889.5,2339.4 L889.5,2339 L915.2,2339 L915.2,2338.7 L940.9,2338.7 L940.9,2338.3 L966.6,2338.3 L966.6,2338.6 L992.3,2338.6 L992.3,2339 L1018,2339 L1018,2339.2 L1043.7,2339.2 L1043.7,2339.4 L1069.4,2339.4 L1069.4,2339.6 L1095.1,2339.6 L1095.1,2340.6 L1120.8,2340.6 L1120.8,2341.5 L1146.6,2341.5 L1146.6,2342.8 L1172.3,2342.8 L1172.3,2344 L1198,2344 L1198,2345.2 L1223.7,2345.2 L1223.7,2346.4 L1249.4,2346.4 L1249.4,2348.1 L1275.1,2348.1 L1275.1,2350.1 L1300.8,2350.1 L1300.8,2352.2 L1326.5,2352.2 L1326.5,2354.5 L1352.2,2354.5 L1352.2,2357.1 L1377.9,2357.1 L1377.9,2360.4 L1403.7,2360.4 L1403.7,2363.8 L1429.4,2363.8 L1429.4,2368.1 L1455.1,2368.1 L1455.1,2372 L1480.8,2372 L1480.8,2376.4 L1506.5,2376.4 L1506.5,2381.8 L1532.2,2381.8 L1532.2,2388.2 L1557.9,2388.2 L1557.9,2395.1 L1583.6,2395.1 L1583.6,2399.8 L1609.3,2399.8 L1609.3,2404.9 L1635,2404.9 L1635,2413.1 L1660.8,2413.1 L1660.8,2425.2 L1686.5,2425.2 L1686.5,2436.3 L1712.2,2436.3 L1712.2,2457.1 L1737.9,2457.1 L1737.9,2480.2 L1763.6,2480.2 L1763.6,2930.9 Z" fill="#7C9AD2" stroke="#7C9AD2" stroke-width="5.6" stroke-linejoin="miter"/>
<path d="M221,2930.9 L221,2275.2 L246.7,2275.2 L246.7,2382.6 L272.4,2382.6 L272.4,2393.1 L298.1,2393.1 L298.1,2389.3 L323.8,2389.3 L323.8,2386.2 L349.5,2386.2 L349.5,2383 L375.3,2383 L375.3,2380.5 L401,2380.5 L401,2378.9 L426.7,2378.9 L426.7,2378.3 L452.4,2378.3 L452.4,2378.9 L478.1,2378.9 L478.1,2380.5 L503.8,2380.5 L503.8,2383 L529.5,2383 L529.5,2384.6 L555.2,2384.6 L555.2,2385.8 L580.9,2385.8 L580.9,2385.8 L606.6,2385.8 L606.6,2381.1 L632.4,2381.1 L632.4,2381.1 L658.1,2381.1 L658.1,2379.8 L683.8,2379.8 L683.8,2373.6 L709.5,2373.6 L709.5,2364.8 L735.2,2364.8 L735.2,2367.3 L760.9,2367.3 L760.9,2383.7 L786.6,2383.7 L786.6,2390.8 L812.3,2390.8 L812.3,2393.1 L838,2393.1 L838,2394.7 L863.7,2394.7 L863.7,2395.6 L889.5,2395.6 L889.5,2397.2 L915.2,2397.2 L915.2,2398.7 L940.9,2398.7 L940.9,2400.2 L966.6,2400.2 L966.6,2401.8 L992.3,2401.8 L992.3,2403.4 L1018,2403.4 L1018,2404.9 L1043.7,2404.9 L1043.7,2407.3 L1069.4,2407.3 L1069.4,2409.7 L1095.1,2409.7 L1095.1,2412.1 L1120.8,2412.1 L1120.8,2414.4 L1146.6,2414.4 L1146.6,2417.1 L1172.3,2417.1 L1172.3,2419.7 L1198,2419.7 L1198,2421.5 L1223.7,2421.5 L1223.7,2423.3 L1249.4,2423.3 L1249.4,2424.4 L1275.1,2424.4 L1275.1,2428 L1300.8,2428 L1300.8,2433.4 L1326.5,2433.4 L1326.5,2436 L1352.2,2436 L1352.2,2439.1 L1377.9,2439.1 L1377.9,2445.5 L1403.7,2445.5 L1403.7,2449.4 L1429.4,2449.4 L1429.4,2454.5 L1455.1,2454.5 L1455.1,2460.2 L1480.8,2460.2 L1480.8,2466.6 L1506.5,2466.6 L1506.5,2472.5 L1532.2,2472.5 L1532.2,2479.7 L1557.9,2479.7 L1557.9,2487.9 L1583.6,2487.9 L1583.6,2495.1 L1609.3,2495.1 L1609.3,2507.7 L1635,2507.7 L1635,2518.3 L1660.8,2518.3 L1660.8,2531.7 L1686.5,2531.7 L1686.5,2551.7 L1712.2,2551.7 L1712.2,2570.2 L1737.9,2570.2 L1737.9,2603.7 L1763.6,2603.7 L1763.6,2930.9 Z" fill="#FF9900" stroke="#FF9900" stroke-width="5.6" stroke-linejoin="miter"/>
<path d="M221,2930.9 L221,2336.1 L246.7,2336.1 L246.7,2391.5 L272.4,2391.5 L272.4,2393.1 L298.1,2393.1 L298.1,2389.3 L323.8,2389.3 L323.8,2386.2 L349.5,2386.2 L349.5,2383 L375.3,2383 L375.3,2380.5 L401,2380.5 L401,2378.9 L426.7,2378.9 L426.7,2378.3 L452.4,2378.3 L452.4,2378.9 L478.1,2378.9 L478.1,2380.5 L503.8,2380.5 L503.8,2383 L529.5,2383 L529.5,2384.6 L555.2,2384.6 L555.2,2385.8 L580.9,2385.8 L580.9,2385.8 L606.6,2385.8 L606.6,2381.1 L632.4,2381.1 L632.4,2381.1 L658.1,2381.1 L658.1,2379.8 L683.8,2379.8 L683.8,2373.6 L709.5,2373.6 L709.5,2364.8 L735.2,2364.8 L735.2,2367.3 L760.9,2367.3 L760.9,2383.7 L786.6,2383.7 L786.6,2390.8 L812.3,2390.8 L812.3,2393.1 L838,2393.1 L838,2394.7 L863.7,2394.7 L863.7,2395.6 L889.5,2395.6 L889.5,2397.2 L915.2,2397.2 L915.2,2398.7 L940.9,2398.7 L940.9,2400.2 L966.6,2400.2 L966.6,2401.8 L992.3,2401.8 L992.3,2403.4 L1018,2403.4 L1018,2404.9 L1043.7,2404.9 L1043.7,2407.3 L1069.4,2407.3 L1069.4,2409.7 L1095.1,2409.7 L1095.1,2412.1 L1120.8,2412.1 L1120.8,2414.4 L1146.6,2414.4 L1146.6,2417.1 L1172.3,2417.1 L1172.3,2419.7 L1198,2419.7 L1198,2421.5 L1223.7,2421.5 L1223.7,2423.3 L1249.4,2423.3 L1249.4,2424.4 L1275.1,2424.4 L1275.1,2428 L1300.8,2428 L1300.8,2433.4 L1326.5,2433.4 L1326.5,2436 L1352.2,2436 L1352.2,2439.1 L1377.9,2439.1 L1377.9,2445.5 L1403.7,2445.5 L1403.7,2449.4 L1429.4,2449.4 L1429.4,2454.5 L1455.1,2454.5 L1455.1,2460.2 L1480.8,2460.2 L1480.8,2466.6 L1506.5,2466.6 L1506.5,2472.5 L1532.2,2472.5 L1532.2,2479.7 L1557.9,2479.7 L1557.9,2487.9 L1583.6,2487.9 L1583.6,2495.1 L1609.3,2495.1 L1609.3,2507.7 L1635,2507.7 L1635,2518.3 L1660.8,2518.3 L1660.8,2531.7 L1686.5,2531.7 L1686.5,2551.7 L1712.2,2551.7 L1712.2,2570.2 L1737.9,2570.2 L1737.9,2603.7 L1763.6,2603.7 L1763.6,2930.9 Z" fill="#926B72" stroke="#926B72" stroke-width="5.6" stroke-linejoin="miter"/>
<path d="M221,2930.9 L221,2376.1 L246.7,2376.1 L246.7,2418.2 L272.4,2418.2 L272.4,2409.4 L298.1,2409.4 L298.1,2405.7 L323.8,2405.7 L323.8,2400.9 L349.5,2400.9 L349.5,2398.7 L375.3,2398.7 L375.3,2396.2 L401,2396.2 L401,2394 L426.7,2394 L426.7,2393.1 L452.4,2393.1 L452.4,2394 L478.1,2394 L478.1,2395.6 L503.8,2395.6 L503.8,2397.8 L529.5,2397.8 L529.5,2399.4 L555.2,2399.4 L555.2,2400.9 L580.9,2400.9 L580.9,2402.5 L606.6,2402.5 L606.6,2404.1 L632.4,2404.1 L632.4,2404.1 L658.1,2404.1 L658.1,2404.1 L683.8,2404.1 L683.8,2404.1 L709.5,2404.1 L709.5,2403.5 L735.2,2403.5 L735.2,2402.5 L760.9,2402.5 L760.9,2402.5 L786.6,2402.5 L786.6,2402.5 L812.3,2402.5 L812.3,2403.5 L838,2403.5 L838,2404.1 L863.7,2404.1 L863.7,2404.5 L889.5,2404.5 L889.5,2405.5 L915.2,2405.5 L915.2,2406.5 L940.9,2406.5 L940.9,2408.4 L966.6,2408.4 L966.6,2410.3 L992.3,2410.3 L992.3,2412.4 L1018,2412.4 L1018,2414.4 L1043.7,2414.4 L1043.7,2417.6 L1069.4,2417.6 L1069.4,2420.7 L1095.1,2420.7 L1095.1,2423.4 L1120.8,2423.4 L1120.8,2426 L1146.6,2426 L1146.6,2429.3 L1172.3,2429.3 L1172.3,2432.6 L1198,2432.6 L1198,2434.7 L1223.7,2434.7 L1223.7,2436.8 L1249.4,2436.8 L1249.4,2440.4 L1275.1,2440.4 L1275.1,2445 L1300.8,2445 L1300.8,2451.4 L1326.5,2451.4 L1326.5,2457.1 L1352.2,2457.1 L1352.2,2462.7 L1377.9,2462.7 L1377.9,2471.2 L1403.7,2471.2 L1403.7,2478.2 L1429.4,2478.2 L1429.4,2485.9 L1455.1,2485.9 L1455.1,2496.9 L1480.8,2496.9 L1480.8,2508.5 L1506.5,2508.5 L1506.5,2518.8 L1532.2,2518.8 L1532.2,2532.9 L1557.9,2532.9 L1557.9,2547.6 L1583.6,2547.6 L1583.6,2562 L1609.3,2562 L1609.3,2583.8 L1635,2583.8 L1635,2601.8 L1660.8,2601.8 L1660.8,2617.8 L1686.5,2617.8 L1686.5,2641.7 L1712.2,2641.7 L1712.2,2661.5 L1737.9,2661.5 L1737.9,2684.6 L1763.6,2684.6 L1763.6,2930.9 Z" fill="#CDC7AB" stroke="#CDC7AB" stroke-width="5.6" stroke-linejoin="miter"/>
<path d="M221,2930.9 L221,2390.4 L246.7,2390.4 L246.7,2434.5 L272.4,2434.5 L272.4,2429.8 L298.1,2429.8 L298.1,2426.7 L323.8,2426.7 L323.8,2422.9 L349.5,2422.9 L349.5,2419.7 L375.3,2419.7 L375.3,2417.2 L401,2417.2 L401,2416.6 L426.7,2416.6 L426.7,2417.2 L452.4,2417.2 L452.4,2418.8 L478.1,2418.8 L478.1,2421.9 L503.8,2421.9 L503.8,2424.1 L529.5,2424.1 L529.5,2426.7 L555.2,2426.7 L555.2,2429.8 L580.9,2429.8 L580.9,2432.3 L606.6,2432.3 L606.6,2433.9 L632.4,2433.9 L632.4,2434.5 L658.1,2434.5 L658.1,2433.9 L683.8,2433.9 L683.8,2433.6 L709.5,2433.6 L709.5,2432.9 L735.2,2432.9 L735.2,2432.9 L760.9,2432.9 L760.9,2433.6 L786.6,2433.6 L786.6,2434.5 L812.3,2434.5 L812.3,2435.5 L838,2435.5 L838,2436.7 L863.7,2436.7 L863.7,2437.8 L889.5,2437.8 L889.5,2439 L915.2,2439 L915.2,2440.1 L940.9,2440.1 L940.9,2442.2 L966.6,2442.2 L966.6,2444.3 L992.3,2444.3 L992.3,2446.4 L1018,2446.4 L1018,2448.8 L1043.7,2448.8 L1043.7,2451.1 L1069.4,2451.1 L1069.4,2453.8 L1095.1,2453.8 L1095.1,2456.4 L1120.8,2456.4 L1120.8,2460.5 L1146.6,2460.5 L1146.6,2462.9 L1172.3,2462.9 L1172.3,2465.2 L1198,2465.2 L1198,2471.5 L1223.7,2471.5 L1223.7,2478.7 L1249.4,2478.7 L1249.4,2484.9 L1275.1,2484.9 L1275.1,2489 L1300.8,2489 L1300.8,2497.2 L1326.5,2497.2 L1326.5,2502.9 L1352.2,2502.9 L1352.2,2508.8 L1377.9,2508.8 L1377.9,2517.3 L1403.7,2517.3 L1403.7,2526.3 L1429.4,2526.3 L1429.4,2536.3 L1455.1,2536.3 L1455.1,2546.1 L1480.8,2546.1 L1480.8,2560.2 L1506.5,2560.2 L1506.5,2573.1 L1532.2,2573.1 L1532.2,2588.5 L1557.9,2588.5 L1557.9,2603.2 L1583.6,2603.2 L1583.6,2623.2 L1609.3,2623.2 L1609.3,2647.6 L1635,2647.6 L1635,2669 L1660.8,2669 L1660.8,2680.3 L1686.5,2680.3 L1686.5,2708.8 L1712.2,2708.8 L1712.2,2728.6 L1737.9,2728.6 L1737.9,2747.9 L1763.6,2747.9 L1763.6,2930.9 Z" fill="#FFFF00" stroke="#FFFF00" stroke-width="5.6" stroke-linejoin="miter"/>
<path d="M221,2930.9 L221,2391.4 L246.7,2391.4 L246.7,2435.5 L272.4,2435.5 L272.4,2430.8 L298.1,2430.8 L298.1,2427.7 L323.8,2427.7 L323.8,2423.9 L349.5,2423.9 L349.5,2420.7 L375.3,2420.7 L375.3,2418.2 L401,2418.2 L401,2417.6 L426.7,2417.6 L426.7,2418.2 L452.4,2418.2 L452.4,2419.8 L478.1,2419.8 L478.1,2422.9 L503.8,2422.9 L503.8,2425.1 L529.5,2425.1 L529.5,2427.7 L555.2,2427.7 L555.2,2430.8 L580.9,2430.8 L580.9,2433.3 L606.6,2433.3 L606.6,2434.9 L632.4,2434.9 L632.4,2435.5 L658.1,2435.5 L658.1,2434.9 L683.8,2434.9 L683.8,2434.6 L709.5,2434.6 L709.5,2433.9 L735.2,2433.9 L735.2,2433.9 L760.9,2433.9 L760.9,2434.6 L786.6,2434.6 L786.6,2435.5 L812.3,2435.5 L812.3,2436.5 L838,2436.5 L838,2437.7 L863.7,2437.7 L863.7,2438.8 L889.5,2438.8 L889.5,2440 L915.2,2440 L915.2,2441.1 L940.9,2441.1 L940.9,2443.2 L966.6,2443.2 L966.6,2445.3 L992.3,2445.3 L992.3,2447.4 L1018,2447.4 L1018,2449.8 L1043.7,2449.8 L1043.7,2452.1 L1069.4,2452.1 L1069.4,2454.8 L1095.1,2454.8 L1095.1,2457.4 L1120.8,2457.4 L1120.8,2461.5 L1146.6,2461.5 L1146.6,2463.9 L1172.3,2463.9 L1172.3,2466.2 L1198,2466.2 L1198,2472.5 L1223.7,2472.5 L1223.7,2479.7 L1249.4,2479.7 L1249.4,2485.9 L1275.1,2485.9 L1275.1,2490 L1300.8,2490 L1300.8,2498.2 L1326.5,2498.2 L1326.5,2503.9 L1352.2,2503.9 L1352.2,2509.8 L1377.9,2509.8 L1377.9,2518.3 L1403.7,2518.3 L1403.7,2527.3 L1429.4,2527.3 L1429.4,2537.3 L1455.1,2537.3 L1455.1,2547.1 L1480.8,2547.1 L1480.8,2561.2 L1506.5,2561.2 L1506.5,2574.1 L1532.2,2574.1 L1532.2,2589.5 L1557.9,2589.5 L1557.9,2604.2 L1583.6,2604.2 L1583.6,2624.2 L1609.3,2624.2 L1609.3,2648.6 L1635,2648.6 L1635,2670 L1660.8,2670 L1660.8,2681.3 L1686.5,2681.3 L1686.5,2709.8 L1712.2,2709.8 L1712.2,2729.6 L1737.9,2729.6 L1737.9,2748.9 L1763.6,2748.9 L1763.6,2930.9 Z" fill="#FF6699" stroke="#FF6699" stroke-width="5.6" stroke-linejoin="miter"/>
<path d="M221,2930.9 L221,2410.4 L246.7,2410.4 L246.7,2452.4 L272.4,2452.4 L272.4,2453.4 L298.1,2453.4 L298.1,2453.4 L323.8,2453.4 L323.8,2450.2 L349.5,2450.2 L349.5,2447.1 L375.3,2447.1 L375.3,2444.9 L401,2444.9 L401,2443.3 L426.7,2443.3 L426.7,2443.3 L452.4,2443.3 L452.4,2443.9 L478.1,2443.9 L478.1,2445.5 L503.8,2445.5 L503.8,2448 L529.5,2448 L529.5,2450.2 L555.2,2450.2 L555.2,2454.3 L580.9,2454.3 L580.9,2458.1 L606.6,2458.1 L606.6,2461.2 L632.4,2461.2 L632.4,2465 L658.1,2465 L658.1,2467.5 L683.8,2467.5 L683.8,2470.7 L709.5,2470.7 L709.5,2473.2 L735.2,2473.2 L735.2,2475.4 L760.9,2475.4 L760.9,2478.5 L786.6,2478.5 L786.6,2481 L812.3,2481 L812.3,2483.8 L838,2483.8 L838,2487 L863.7,2487 L863.7,2488.3 L889.5,2488.3 L889.5,2491.8 L915.2,2491.8 L915.2,2495.8 L940.9,2495.8 L940.9,2499.8 L966.6,2499.8 L966.6,2504.5 L992.3,2504.5 L992.3,2509.2 L1018,2509.2 L1018,2515.5 L1043.7,2515.5 L1043.7,2521.8 L1069.4,2521.8 L1069.4,2528.1 L1095.1,2528.1 L1095.1,2534.4 L1120.8,2534.4 L1120.8,2540.6 L1146.6,2540.6 L1146.6,2547.7 L1172.3,2547.7 L1172.3,2554.8 L1198,2554.8 L1198,2565.8 L1223.7,2565.8 L1223.7,2578.2 L1249.4,2578.2 L1249.4,2585.2 L1275.1,2585.2 L1275.1,2597.5 L1300.8,2597.5 L1300.8,2610.4 L1326.5,2610.4 L1326.5,2618.6 L1352.2,2618.6 L1352.2,2624.5 L1377.9,2624.5 L1377.9,2641.2 L1403.7,2641.2 L1403.7,2653.6 L1429.4,2653.6 L1429.4,2665.6 L1455.1,2665.6 L1455.1,2678.5 L1480.8,2678.5 L1480.8,2702.9 L1506.5,2702.9 L1506.5,2717.1 L1532.2,2717.1 L1532.2,2743.3 L1557.9,2743.3 L1557.9,2761.7 L1583.6,2761.7 L1583.6,2779.1 L1609.3,2779.1 L1609.3,2798.8 L1635,2798.8 L1635,2801.4 L1660.8,2801.4 L1660.8,2815.5 L1686.5,2815.5 L1686.5,2815.5 L1712.2,2815.5 L1712.2,2837.8 L1737.9,2837.8 L1737.9,2889.8 L1763.6,2889.8 L1763.6,2930.9 Z" fill="#5AD455" stroke="#5AD455" stroke-width="5.6" stroke-linejoin="miter"/>
<path d="M221,2930.9 L221,2418 L246.7,2418 L246.7,2453.4 L272.4,2453.4 L272.4,2454.4 L298.1,2454.4 L298.1,2454.4 L323.8,2454.4 L323.8,2451.2 L349.5,2451.2 L349.5,2448.1 L375.3,2448.1 L375.3,2445.9 L401,2445.9 L401,2444.3 L426.7,2444.3 L426.7,2444.3 L452.4,2444.3 L452.4,2444.9 L478.1,2444.9 L478.1,2446.5 L503.8,2446.5 L503.8,2449 L529.5,2449 L529.5,2451.2 L555.2,2451.2 L555.2,2455.3 L580.9,2455.3 L580.9,2459.1 L606.6,2459.1 L606.6,2462.2 L632.4,2462.2 L632.4,2466 L658.1,2466 L658.1,2468.5 L683.8,2468.5 L683.8,2471.7 L709.5,2471.7 L709.5,2474.2 L735.2,2474.2 L735.2,2476.4 L760.9,2476.4 L760.9,2479.5 L786.6,2479.5 L786.6,2482 L812.3,2482 L812.3,2484.8 L838,2484.8 L838,2488 L863.7,2488 L863.7,2489.3 L889.5,2489.3 L889.5,2492.8 L915.2,2492.8 L915.2,2496.8 L940.9,2496.8 L940.9,2500.8 L966.6,2500.8 L966.6,2505.5 L992.3,2505.5 L992.3,2510.2 L1018,2510.2 L1018,2516.5 L1043.7,2516.5 L1043.7,2522.8 L1069.4,2522.8 L1069.4,2529.1 L1095.1,2529.1 L1095.1,2535.4 L1120.8,2535.4 L1120.8,2541.6 L1146.6,2541.6 L1146.6,2548.7 L1172.3,2548.7 L1172.3,2555.8 L1198,2555.8 L1198,2566.8 L1223.7,2566.8 L1223.7,2579.2 L1249.4,2579.2 L1249.4,2586.2 L1275.1,2586.2 L1275.1,2598.5 L1300.8,2598.5 L1300.8,2611.4 L1326.5,2611.4 L1326.5,2619.6 L1352.2,2619.6 L1352.2,2625.5 L1377.9,2625.5 L1377.9,2642.2 L1403.7,2642.2 L1403.7,2654.6 L1429.4,2654.6 L1429.4,2666.6 L1455.1,2666.6 L1455.1,2679.5 L1480.8,2679.5 L1480.8,2703.9 L1506.5,2703.9 L1506.5,2718.1 L1532.2,2718.1 L1532.2,2744.3 L1557.9,2744.3 L1557.9,2762.7 L1583.6,2762.7 L1583.6,2780.1 L1609.3,2780.1 L1609.3,2799.8 L1635,2799.8 L1635,2802.4 L1660.8,2802.4 L1660.8,2816.5 L1686.5,2816.5 L1686.5,2816.5 L1712.2,2816.5 L1712.2,2838.8 L1737.9,2838.8 L1737.9,2890.8 L1763.6,2890.8 L1763.6,2930.9 Z" fill="#00FFFF" stroke="#00FFFF" stroke-width="5.6" stroke-linejoin="miter"/>
<path d="M221,2930.9 L221,2440.8 L246.7,2440.8 L246.7,2474.8 L272.4,2474.8 L272.4,2499.9 L298.1,2499.9 L298.1,2504.6 L323.8,2504.6 L323.8,2501.5 L349.5,2501.5 L349.5,2499.3 L375.3,2499.3 L375.3,2498.4 L401,2498.4 L401,2499.9 L426.7,2499.9 L426.7,2503.1 L452.4,2503.1 L452.4,2506.2 L478.1,2506.2 L478.1,2514.1 L503.8,2514.1 L503.8,2517.2 L529.5,2517.2 L529.5,2529.8 L555.2,2529.8 L555.2,2537.6 L580.9,2537.6 L580.9,2573.8 L606.6,2573.8 L606.6,2597.4 L632.4,2597.4 L632.4,2616.8 L658.1,2616.8 L658.1,2624.1 L683.8,2624.1 L683.8,2639.8 L709.5,2639.8 L709.5,2647 L735.2,2647 L735.2,2652.4 L760.9,2652.4 L760.9,2655.5 L786.6,2655.5 L786.6,2666.5 L812.3,2666.5 L812.3,2675.9 L838,2675.9 L838,2672.8 L863.7,2672.8 L863.7,2687.8 L889.5,2687.8 L889.5,2692.8 L915.2,2692.8 L915.2,2698.8 L940.9,2698.8 L940.9,2708.2 L966.6,2708.2 L966.6,2712.8 L992.3,2712.8 L992.3,2717.6 L1018,2717.6 L1018,2723.8 L1043.7,2723.8 L1043.7,2738.4 L1069.4,2738.4 L1069.4,2771.2 L1095.1,2771.2 L1095.1,2772 L1120.8,2772 L1120.8,2775.8 L1146.6,2775.8 L1146.6,2784.8 L1172.3,2784.8 L1172.3,2805.4 L1198,2805.4 L1198,2821.8 L1223.7,2821.8 L1223.7,2844.5 L1249.4,2844.5 L1249.4,2841.8 L1275.1,2841.8 L1275.1,2870.4 L1300.8,2870.4 L1300.8,2930.9 L1326.5,2930.9 L1326.5,2930.9 L1352.2,2930.9 L1352.2,2930.9 L1377.9,2930.9 L1377.9,2930.9 L1403.7,2930.9 L1403.7,2930.9 L1429.4,2930.9 L1429.4,2930.9 L1455.1,2930.9 L1455.1,2930.9 L1480.8,2930.9 L1480.8,2930.9 L1506.5,2930.9 L1506.5,2930.9 L1532.2,2930.9 L1532.2,2930.9 L1557.9,2930.9 L1557.9,2930.9 L1583.6,2930.9 L1583.6,2930.9 L1609.3,2930.9 L1609.3,2930.9 L1635,2930.9 L1635,2930.9 L1660.8,2930.9 L1660.8,2930.9 L1686.5,2930.9 L1686.5,2930.9 L1712.2,2930.9 L1712.2,2930.9 L1737.9,2930.9 L1737.9,2930.9 L1763.6,2930.9 L1763.6,2930.9 Z" fill="#86C1A5" stroke="#86C1A5" stroke-width="5.6" stroke-linejoin="miter"/>
</g>
<g stroke="#000" stroke-width="3" fill="none">
<path d="M263.9,2918.9 v-19 M263.9,1664.8 v19 M306.7,2918.9 v-19 M306.7,1664.8 v19 M349.6,2918.9 v-19 M349.6,1664.8 v19 M392.4,2918.9 v-19 M392.4,1664.8 v19 M435.2,2918.9 v-38.5 M435.2,1664.8 v38.5 M478.1,2918.9 v-19 M478.1,1664.8 v19 M521,2918.9 v-19 M521,1664.8 v19 M563.8,2918.9 v-19 M563.8,1664.8 v19 M606.7,2918.9 v-19 M606.7,1664.8 v19 M649.5,2918.9 v-38.5 M649.5,1664.8 v38.5 M692.4,2918.9 v-19 M692.4,1664.8 v19 M735.2,2918.9 v-19 M735.2,1664.8 v19 M778.1,2918.9 v-19 M778.1,1664.8 v19 M820.9,2918.9 v-19 M820.9,1664.8 v19 M863.8,2918.9 v-38.5 M863.8,1664.8 v38.5 M906.6,2918.9 v-19 M906.6,1664.8 v19 M949.5,2918.9 v-19 M949.5,1664.8 v19 M992.3,2918.9 v-19 M992.3,1664.8 v19 M1035.2,2918.9 v-19 M1035.2,1664.8 v19 M1078,2918.9 v-38.5 M1078,1664.8 v38.5 M1120.8,2918.9 v-19 M1120.8,1664.8 v19 M1163.7,2918.9 v-19 M1163.7,1664.8 v19 M1206.6,2918.9 v-19 M1206.6,1664.8 v19 M1249.4,2918.9 v-19 M1249.4,1664.8 v19 M1292.2,2918.9 v-38.5 M1292.2,1664.8 v38.5 M1335.1,2918.9 v-19 M1335.1,1664.8 v19 M1378,2918.9 v-19 M1378,1664.8 v19 M1420.8,2918.9 v-19 M1420.8,1664.8 v19 M1463.7,2918.9 v-19 M1463.7,1664.8 v19 M1506.5,2918.9 v-38.5 M1506.5,1664.8 v38.5 M1549.4,2918.9 v-19 M1549.4,1664.8 v19 M1592.2,2918.9 v-19 M1592.2,1664.8 v19 M1635,2918.9 v-19 M1635,1664.8 v19 M1677.9,2918.9 v-19 M1677.9,1664.8 v19 M1720.8,2918.9 v-38.5 M1720.8,1664.8 v38.5 M221,2917.3 h23.2 M1763.6,2917.3 h-23.2 M221,2893.9 h23.2 M1763.6,2893.9 h-23.2 M221,2877.3 h23.2 M1763.6,2877.3 h-23.2 M221,2864.4 h23.2 M1763.6,2864.4 h-23.2 M221,2853.9 h23.2 M1763.6,2853.9 h-23.2 M221,2845 h23.2 M1763.6,2845 h-23.2 M221,2837.3 h23.2 M1763.6,2837.3 h-23.2 M221,2830.5 h23.2 M1763.6,2830.5 h-23.2 M221,2824.4 h46.3 M1763.6,2824.4 h-46.3 M221,2784.4 h23.2 M1763.6,2784.4 h-23.2 M221,2761 h23.2 M1763.6,2761 h-23.2 M221,2744.4 h23.2 M1763.6,2744.4 h-23.2 M221,2731.5 h23.2 M1763.6,2731.5 h-23.2 M221,2721 h23.2 M1763.6,2721 h-23.2 M221,2712.1 h23.2 M1763.6,2712.1 h-23.2 M221,2704.4 h23.2 M1763.6,2704.4 h-23.2 M221,2697.6 h23.2 M1763.6,2697.6 h-23.2 M221,2691.5 h46.3 M1763.6,2691.5 h-46.3 M221,2651.5 h23.2 M1763.6,2651.5 h-23.2 M221,2628.1 h23.2 M1763.6,2628.1 h-23.2 M221,2611.5 h23.2 M1763.6,2611.5 h-23.2 M221,2598.6 h23.2 M1763.6,2598.6 h-23.2 M221,2588.1 h23.2 M1763.6,2588.1 h-23.2 M221,2579.2 h23.2 M1763.6,2579.2 h-23.2 M221,2571.5 h23.2 M1763.6,2571.5 h-23.2 M221,2564.7 h23.2 M1763.6,2564.7 h-23.2 M221,2558.6 h46.3 M1763.6,2558.6 h-46.3 M221,2518.6 h23.2 M1763.6,2518.6 h-23.2 M221,2495.2 h23.2 M1763.6,2495.2 h-23.2 M221,2478.6 h23.2 M1763.6,2478.6 h-23.2 M221,2465.7 h23.2 M1763.6,2465.7 h-23.2 M221,2455.2 h23.2 M1763.6,2455.2 h-23.2 M221,2446.3 h23.2 M1763.6,2446.3 h-23.2 M221,2438.6 h23.2 M1763.6,2438.6 h-23.2 M221,2431.8 h23.2 M1763.6,2431.8 h-23.2 M221,2425.7 h46.3 M1763.6,2425.7 h-46.3 M221,2385.7 h23.2 M1763.6,2385.7 h-23.2 M221,2362.3 h23.2 M1763.6,2362.3 h-23.2 M221,2345.7 h23.2 M1763.6,2345.7 h-23.2 M221,2332.8 h23.2 M1763.6,2332.8 h-23.2 M221,2322.3 h23.2 M1763.6,2322.3 h-23.2 M221,2313.4 h23.2 M1763.6,2313.4 h-23.2 M221,2305.7 h23.2 M1763.6,2305.7 h-23.2 M221,2298.9 h23.2 M1763.6,2298.9 h-23.2 M221,2292.8 h46.3 M1763.6,2292.8 h-46.3 M221,2252.8 h23.2 M1763.6,2252.8 h-23.2 M221,2229.4 h23.2 M1763.6,2229.4 h-23.2 M221,2212.8 h23.2 M1763.6,2212.8 h-23.2 M221,2199.9 h23.2 M1763.6,2199.9 h-23.2 M221,2189.4 h23.2 M1763.6,2189.4 h-23.2 M221,2180.5 h23.2 M1763.6,2180.5 h-23.2 M221,2172.8 h23.2 M1763.6,2172.8 h-23.2 M221,2166 h23.2 M1763.6,2166 h-23.2 M221,2159.9 h46.3 M1763.6,2159.9 h-46.3 M221,2119.9 h23.2 M1763.6,2119.9 h-23.2 M221,2096.5 h23.2 M1763.6,2096.5 h-23.2 M221,2079.9 h23.2 M1763.6,2079.9 h-23.2 M221,2067 h23.2 M1763.6,2067 h-23.2 M221,2056.5 h23.2 M1763.6,2056.5 h-23.2 M221,2047.6 h23.2 M1763.6,2047.6 h-23.2 M221,2039.9 h23.2 M1763.6,2039.9 h-23.2 M221,2033.1 h23.2 M1763.6,2033.1 h-23.2 M221,2027 h46.3 M1763.6,2027 h-46.3 M221,1987 h23.2 M1763.6,1987 h-23.2 M221,1963.6 h23.2 M1763.6,1963.6 h-23.2 M221,1947 h23.2 M1763.6,1947 h-23.2 M221,1934.1 h23.2 M1763.6,1934.1 h-23.2 M221,1923.6 h23.2 M1763.6,1923.6 h-23.2 M221,1914.7 h23.2 M1763.6,1914.7 h-23.2 M221,1907 h23.2 M1763.6,1907 h-23.2 M221,1900.2 h23.2 M1763.6,1900.2 h-23.2 M221,1894.1 h46.3 M1763.6,1894.1 h-46.3 M221,1854.1 h23.2 M1763.6,1854.1 h-23.2 M221,1830.7 h23.2 M1763.6,1830.7 h-23.2 M221,1814.1 h23.2 M1763.6,1814.1 h-23.2 M221,1801.2 h23.2 M1763.6,1801.2 h-23.2 M221,1790.7 h23.2 M1763.6,1790.7 h-23.2 M221,1781.8 h23.2 M1763.6,1781.8 h-23.2 M221,1774.1 h23.2 M1763.6,1774.1 h-23.2 M221,1767.3 h23.2 M1763.6,1767.3 h-23.2 M221,1761.2 h46.3 M1763.6,1761.2 h-46.3 M221,1721.2 h23.2 M1763.6,1721.2 h-23.2 M221,1697.8 h23.2 M1763.6,1697.8 h-23.2 M221,1681.2 h23.2 M1763.6,1681.2 h-23.2 M221,1668.3 h23.2 M1763.6,1668.3 h-23.2"/>
</g>
<rect x="221" y="1664.8" width="1542.6" height="1254.1" fill="none" stroke="#000" stroke-width="3.3"/>
<path d="M221,2232.4 L246.7,2232.4 L246.7,2305.9 L272.4,2305.9 L272.4,2310.5 L298.1,2310.5 L298.1,2311.6 L323.8,2311.6 L323.8,2306.7 L349.5,2306.7 L349.5,2303.6 L375.3,2303.6 L375.3,2301 L401,2301 L401,2299.8 L426.7,2299.8 L426.7,2300.2 L452.4,2300.2 L452.4,2302.1 L478.1,2302.1 L478.1,2304.8 L503.8,2304.8 L503.8,2311.2 L529.5,2311.2 L529.5,2318.1 L555.2,2318.1 L555.2,2325 L580.9,2325 L580.9,2331.4 L606.6,2331.4 L606.6,2333.3 L632.4,2333.3 L632.4,2335.2 L658.1,2335.2 L658.1,2336 L683.8,2336 L683.8,2333.3 L709.5,2333.3 L709.5,2327.6 L735.2,2327.6 L735.2,2328.8 L760.9,2328.8 L760.9,2335.2 L786.6,2335.2 L786.6,2337.9 L812.3,2337.9 L812.3,2339 L838,2339 L838,2339.4 L863.7,2339.4 L863.7,2339.4 L889.5,2339.4 L889.5,2339 L915.2,2339 L915.2,2338.7 L940.9,2338.7 L940.9,2338.3 L966.6,2338.3 L966.6,2338.6 L992.3,2338.6 L992.3,2339 L1018,2339 L1018,2339.2 L1043.7,2339.2 L1043.7,2339.4 L1069.4,2339.4 L1069.4,2339.6 L1095.1,2339.6 L1095.1,2340.6 L1120.8,2340.6 L1120.8,2341.5 L1146.6,2341.5 L1146.6,2342.8 L1172.3,2342.8 L1172.3,2344 L1198,2344 L1198,2345.2 L1223.7,2345.2 L1223.7,2346.4 L1249.4,2346.4 L1249.4,2348.1 L1275.1,2348.1 L1275.1,2350.1 L1300.8,2350.1 L1300.8,2352.2 L1326.5,2352.2 L1326.5,2354.5 L1352.2,2354.5 L1352.2,2357.1 L1377.9,2357.1 L1377.9,2360.4 L1403.7,2360.4 L1403.7,2363.8 L1429.4,2363.8 L1429.4,2368.1 L1455.1,2368.1 L1455.1,2372 L1480.8,2372 L1480.8,2376.4 L1506.5,2376.4 L1506.5,2381.8 L1532.2,2381.8 L1532.2,2388.2 L1557.9,2388.2 L1557.9,2395.1 L1583.6,2395.1 L1583.6,2399.8 L1609.3,2399.8 L1609.3,2404.9 L1635,2404.9 L1635,2413.1 L1660.8,2413.1 L1660.8,2425.2 L1686.5,2425.2 L1686.5,2436.3 L1712.2,2436.3 L1712.2,2445.8 L1737.9,2445.8 L1737.9,2427.8 L1763.6,2427.8" fill="none" stroke="#000" stroke-width="5.5" stroke-linejoin="miter" clip-path="url(#clipc)"/>
<path d="M221,2407.6 L246.7,2407.6 L246.7,2398.1 L272.4,2398.1 L272.4,2450 L298.1,2450 L298.1,2539 L323.8,2539 L323.8,2707 L349.5,2707 L349.5,2918.9 L375.3,2918.9 L375.3,2918.9 L401,2918.9 L401,2918.9 L426.7,2918.9 L426.7,2918.9 L452.4,2918.9 L452.4,2918.9 L478.1,2918.9 L478.1,2918.9 L503.8,2918.9 L503.8,2918.9 L529.5,2918.9 L529.5,2918.9 L555.2,2918.9 L555.2,2918.9 L580.9,2918.9 L580.9,2918.9 L606.6,2918.9 L606.6,2918.9 L632.4,2918.9 L632.4,2918.9 L658.1,2918.9 L658.1,2918.9 L683.8,2918.9 L683.8,2918.9 L709.5,2918.9 L709.5,2918.9 L735.2,2918.9 L735.2,2918.9 L760.9,2918.9 L760.9,2918.9 L786.6,2918.9 L786.6,2918.9 L812.3,2918.9 L812.3,2918.9 L838,2918.9 L838,2918.9 L863.7,2918.9 L863.7,2918.9 L889.5,2918.9 L889.5,2918.9 L915.2,2918.9 L915.2,2918.9 L940.9,2918.9 L940.9,2918.9 L966.6,2918.9 L966.6,2918.9 L992.3,2918.9 L992.3,2918.9 L1018,2918.9 L1018,2918.9 L1043.7,2918.9 L1043.7,2918.9 L1069.4,2918.9 L1069.4,2918.9 L1095.1,2918.9 L1095.1,2918.9 L1120.8,2918.9 L1120.8,2918.9 L1146.6,2918.9 L1146.6,2918.9 L1172.3,2918.9 L1172.3,2918.9 L1198,2918.9 L1198,2918.9 L1223.7,2918.9 L1223.7,2918.9 L1249.4,2918.9 L1249.4,2918.9 L1275.1,2918.9 L1275.1,2918.9 L1300.8,2918.9 L1300.8,2918.9 L1326.5,2918.9 L1326.5,2918.9 L1352.2,2918.9 L1352.2,2918.9 L1377.9,2918.9 L1377.9,2918.9 L1403.7,2918.9 L1403.7,2918.9 L1429.4,2918.9 L1429.4,2918.9 L1455.1,2918.9 L1455.1,2918.9 L1480.8,2918.9 L1480.8,2918.9 L1506.5,2918.9 L1506.5,2918.9 L1532.2,2918.9 L1532.2,2918.9 L1557.9,2918.9 L1557.9,2918.9 L1583.6,2918.9 L1583.6,2918.9 L1609.3,2918.9 L1609.3,2918.9 L1635,2918.9 L1635,2918.9 L1660.8,2918.9 L1660.8,2918.9 L1686.5,2918.9 L1686.5,2918.9 L1712.2,2918.9 L1712.2,2918.9 L1737.9,2918.9 L1737.9,2918.9 L1763.6,2918.9" fill="none" stroke="#000" stroke-width="12.6" stroke-dasharray="17 17.3" stroke-linejoin="miter"/>
<path d="M221,2517.6 L246.7,2517.6 L246.7,2478.3 L272.4,2478.3 L272.4,2468.2 L298.1,2468.2 L298.1,2465 L323.8,2465 L323.8,2470.4 L349.5,2470.4 L349.5,2478.3 L375.3,2478.3 L375.3,2486.8 L401,2486.8 L401,2495.6 L426.7,2495.6 L426.7,2512.8 L452.4,2512.8 L452.4,2524.8 L478.1,2524.8 L478.1,2541.8 L503.8,2541.8 L503.8,2560 L529.5,2560 L529.5,2575.7 L555.2,2575.7 L555.2,2596 L580.9,2596 L580.9,2616.6 L606.6,2616.6 L606.6,2637 L632.4,2637 L632.4,2670 L658.1,2670 L658.1,2684 L683.8,2684 L683.8,2706 L709.5,2706 L709.5,2775.3 L735.2,2775.3 L735.2,2836 L760.9,2836 L760.9,2918.9 L786.6,2918.9 L786.6,2918.9 L812.3,2918.9 L812.3,2918.9 L838,2918.9 L838,2918.9 L863.7,2918.9 L863.7,2918.9 L889.5,2918.9 L889.5,2918.9 L915.2,2918.9 L915.2,2918.9 L940.9,2918.9 L940.9,2918.9 L966.6,2918.9 L966.6,2918.9 L992.3,2918.9 L992.3,2918.9 L1018,2918.9 L1018,2918.9 L1043.7,2918.9 L1043.7,2918.9 L1069.4,2918.9 L1069.4,2918.9 L1095.1,2918.9 L1095.1,2918.9 L1120.8,2918.9 L1120.8,2918.9 L1146.6,2918.9 L1146.6,2918.9 L1172.3,2918.9 L1172.3,2918.9 L1198,2918.9 L1198,2918.9 L1223.7,2918.9 L1223.7,2918.9 L1249.4,2918.9 L1249.4,2918.9 L1275.1,2918.9 L1275.1,2918.9 L1300.8,2918.9 L1300.8,2918.9 L1326.5,2918.9 L1326.5,2918.9 L1352.2,2918.9 L1352.2,2918.9 L1377.9,2918.9 L1377.9,2918.9 L1403.7,2918.9 L1403.7,2918.9 L1429.4,2918.9 L1429.4,2918.9 L1455.1,2918.9 L1455.1,2918.9 L1480.8,2918.9 L1480.8,2918.9 L1506.5,2918.9 L1506.5,2918.9 L1532.2,2918.9 L1532.2,2918.9 L1557.9,2918.9 L1557.9,2918.9 L1583.6,2918.9 L1583.6,2918.9 L1609.3,2918.9 L1609.3,2918.9 L1635,2918.9 L1635,2918.9 L1660.8,2918.9 L1660.8,2918.9 L1686.5,2918.9 L1686.5,2918.9 L1712.2,2918.9 L1712.2,2918.9 L1737.9,2918.9 L1737.9,2918.9 L1763.6,2918.9" fill="none" stroke="#FF0000" stroke-width="12.6" stroke-dasharray="17 17.3" stroke-linejoin="miter"/>
<path d="M221,2563 L246.7,2563 L246.7,2527 L272.4,2527 L272.4,2503.4 L298.1,2503.4 L298.1,2501.8 L323.8,2501.8 L323.8,2500.3 L349.5,2500.3 L349.5,2495.6 L375.3,2495.6 L375.3,2503.4 L401,2503.4 L401,2508 L426.7,2508 L426.7,2512.8 L452.4,2512.8 L452.4,2520.7 L478.1,2520.7 L478.1,2527.6 L503.8,2527.6 L503.8,2530.8 L529.5,2530.8 L529.5,2531 L555.2,2531 L555.2,2538 L580.9,2538 L580.9,2542.7 L606.6,2542.7 L606.6,2553.7 L632.4,2553.7 L632.4,2556.8 L658.1,2556.8 L658.1,2563.8 L683.8,2563.8 L683.8,2571 L709.5,2571 L709.5,2582 L735.2,2582 L735.2,2589.8 L760.9,2589.8 L760.9,2596 L786.6,2596 L786.6,2607 L812.3,2607 L812.3,2618 L838,2618 L838,2632.3 L863.7,2632.3 L863.7,2647 L889.5,2647 L889.5,2651.4 L915.2,2651.4 L915.2,2662 L940.9,2662 L940.9,2691.3 L966.6,2691.3 L966.6,2694.4 L992.3,2694.4 L992.3,2714.5 L1018,2714.5 L1018,2726.6 L1043.7,2726.6 L1043.7,2760 L1069.4,2760 L1069.4,2772.5 L1095.1,2772.5 L1095.1,2804.4 L1120.8,2804.4 L1120.8,2795.7 L1146.6,2795.7 L1146.6,2845 L1172.3,2845 L1172.3,2895 L1198,2895 L1198,2918.9 L1223.7,2918.9 L1223.7,2918.9 L1249.4,2918.9 L1249.4,2918.9 L1275.1,2918.9 L1275.1,2918.9 L1300.8,2918.9 L1300.8,2918.9 L1326.5,2918.9 L1326.5,2918.9 L1352.2,2918.9 L1352.2,2918.9 L1377.9,2918.9 L1377.9,2918.9 L1403.7,2918.9 L1403.7,2918.9 L1429.4,2918.9 L1429.4,2918.9 L1455.1,2918.9 L1455.1,2918.9 L1480.8,2918.9 L1480.8,2918.9 L1506.5,2918.9 L1506.5,2918.9 L1532.2,2918.9 L1532.2,2918.9 L1557.9,2918.9 L1557.9,2918.9 L1583.6,2918.9 L1583.6,2918.9 L1609.3,2918.9 L1609.3,2918.9 L1635,2918.9 L1635,2918.9 L1660.8,2918.9 L1660.8,2918.9 L1686.5,2918.9 L1686.5,2918.9 L1712.2,2918.9 L1712.2,2918.9 L1737.9,2918.9 L1737.9,2918.9 L1763.6,2918.9" fill="none" stroke="#00FF00" stroke-width="12.6" stroke-dasharray="17 17.3" stroke-linejoin="miter"/>
<path d="M722.3,2764 V2786" fill="none" stroke="#FF0000" stroke-width="12.6" stroke-dasharray="17 17.3"/>
<path d="M748.1,2822 V2855" fill="none" stroke="#FF0000" stroke-width="12.6" stroke-dasharray="17 17.3"/>
<path d="M1108,2791 V2818" fill="none" stroke="#00FF00" stroke-width="12.6" stroke-dasharray="17 17.3"/>
<path d="M1133.7,2787 V2810" fill="none" stroke="#00FF00" stroke-width="12.6" stroke-dasharray="17 17.3"/>
<path d="M1159.4,2830 V2864" fill="none" stroke="#00FF00" stroke-width="12.6" stroke-dasharray="17 17.3"/>
<path d="M1185.1,2880 V2915" fill="none" stroke="#00FF00" stroke-width="12.6" stroke-dasharray="17 17.3"/>
<g font-family='"Liberation Sans", sans-serif' fill="#000">
<text x="221" y="2989.3" font-size="73" text-anchor="middle">0</text>
<text x="435.2" y="2989.3" font-size="73" text-anchor="middle">50</text>
<text x="649.5" y="2989.3" font-size="73" text-anchor="middle">100</text>
<text x="863.8" y="2989.3" font-size="73" text-anchor="middle">150</text>
<text x="1078" y="2989.3" font-size="73" text-anchor="middle">200</text>
<text x="1292.2" y="2989.3" font-size="73" text-anchor="middle">250</text>
<text x="1506.5" y="2989.3" font-size="73" text-anchor="middle">300</text>
<text x="1720.8" y="2989.3" font-size="73" text-anchor="middle">350</text>
<text x="207.1" y="2850.4" font-size="72" text-anchor="end">10</text>
<text x="180.1" y="2724.5" font-size="72" text-anchor="end">10</text>
<text x="205.1" y="2692.5" font-size="47" text-anchor="end">2</text>
<text x="180.1" y="2591.6" font-size="72" text-anchor="end">10</text>
<text x="205.1" y="2559.6" font-size="47" text-anchor="end">3</text>
<text x="180.1" y="2458.7" font-size="72" text-anchor="end">10</text>
<text x="205.1" y="2426.7" font-size="47" text-anchor="end">4</text>
<text x="180.1" y="2325.8" font-size="72" text-anchor="end">10</text>
<text x="205.1" y="2293.8" font-size="47" text-anchor="end">5</text>
<text x="180.1" y="2192.9" font-size="72" text-anchor="end">10</text>
<text x="205.1" y="2160.9" font-size="47" text-anchor="end">6</text>
<text x="180.1" y="2060" font-size="72" text-anchor="end">10</text>
<text x="205.1" y="2028" font-size="47" text-anchor="end">7</text>
<text x="180.1" y="1927.1" font-size="72" text-anchor="end">10</text>
<text x="205.1" y="1895.1" font-size="47" text-anchor="end">8</text>
<text x="180.1" y="1794.2" font-size="72" text-anchor="end">10</text>
<text x="205.1" y="1762.2" font-size="47" text-anchor="end">9</text>
<text transform="translate(73.7,1649.5) rotate(-90)" font-size="74" text-anchor="end" textLength="487" lengthAdjust="spacingAndGlyphs">Events / 6 GeV</text>
<text x="1465.5" y="3070.7" font-size="73">M</text><text x="1524" y="3085.7" font-size="52" font-family='"Liberation Serif", serif' textLength="41.3" lengthAdjust="spacingAndGlyphs">&#964;&#964;</text><text x="1585.3" y="3070.7" font-size="73">[GeV]</text>
</g>
<g transform="translate(0.2,1630)">
<rect x="927" y="48.6" width="338" height="305" fill="#fff"/>
<rect x="1335" y="48.6" width="242.5" height="305" fill="#fff"/>
<g font-family='"Liberation Sans", sans-serif' fill="#000">
<text x="275" y="146" font-size="66" font-weight="bold" font-style="italic" textLength="555" lengthAdjust="spacingAndGlyphs">CEPC Simulation</text>
<text x="277" y="240" font-size="63" font-family='"DejaVu Sans", sans-serif' textLength="28" lengthAdjust="spacingAndGlyphs">&#8730;</text>
<path d="M295.5,187.2 H331.5" stroke="#000" stroke-width="3" fill="none"/>
<text x="304.5" y="240" font-size="63" textLength="557" lengthAdjust="spacingAndGlyphs">s = 360 GeV, 1.0 ab</text>
<text x="866.5" y="212" font-size="40" textLength="27" lengthAdjust="spacingAndGlyphs">-1</text>
<text x="270" y="335" font-size="63">e</text>
<text x="300" y="307" font-size="40">+</text>
<text x="326.7" y="335" font-size="63">e</text>
<text x="358" y="307" font-size="40">-</text>
<text x="373" y="335" font-size="63" font-family='"DejaVu Sans", sans-serif' textLength="55" lengthAdjust="spacingAndGlyphs">&#8594;</text>
<text x="431" y="335" font-size="66" font-family='"Liberation Serif", serif' textLength="27" lengthAdjust="spacingAndGlyphs">&#964;</text>
<text x="461.7" y="355" font-size="44" textLength="63" lengthAdjust="spacingAndGlyphs">L,R</text>
<text x="528" y="335" font-size="66" font-family='"Liberation Serif", serif' textLength="26" lengthAdjust="spacingAndGlyphs">&#964;</text>
<text x="555" y="355" font-size="44" textLength="63" lengthAdjust="spacingAndGlyphs">L,R</text>
<text x="620" y="335" font-size="63">,</text>
<text x="646.5" y="335" font-size="66" font-family='"Liberation Serif", serif' textLength="26" lengthAdjust="spacingAndGlyphs">&#964;</text>
<text x="676.7" y="335" font-size="63" font-family='"DejaVu Sans", sans-serif' textLength="56" lengthAdjust="spacingAndGlyphs">&#8594;</text>
<text x="736.5" y="335" font-size="66" font-family='"Liberation Serif", serif' textLength="26" lengthAdjust="spacingAndGlyphs">&#964;</text>
<text x="764.5" y="335" font-size="66" font-family='"Liberation Serif", serif' textLength="36" lengthAdjust="spacingAndGlyphs">&#967;</text>
<text x="811.5" y="299" font-size="40">0</text>
<text x="801" y="367" font-size="40">1</text>
<text x="430" y="313" font-size="54" textLength="29" lengthAdjust="spacingAndGlyphs">~</text>
<text x="527" y="313" font-size="54" textLength="28" lengthAdjust="spacingAndGlyphs">~</text>
<text x="645" y="313" font-size="54" textLength="28" lengthAdjust="spacingAndGlyphs">~</text>
<text x="766" y="313" font-size="54" textLength="32" lengthAdjust="spacingAndGlyphs">~</text>
<rect x="932.3" y="117.2" width="56.4" height="47" rx="3" fill="#7C9AD2"/>
<rect x="932.3" y="177.5" width="56.4" height="46.5" rx="3" fill="#CDC7AB"/>
<rect x="932.3" y="238" width="56.4" height="47" rx="3" fill="#FF6699"/>
<rect x="932.3" y="298" width="56.4" height="47" rx="3" fill="#00FFFF"/>
<clipPath id="tsm"><rect x="934" y="59.5" width="52.5" height="42.5"/></clipPath>
<path d="M935.2,59.8 L977.9,101 M960.4,59.8 L985.5,84.2 M935.2,84.2 L952.8,101.7" stroke="#000" stroke-width="3" fill="none"/>
<path d="M934.5,81 H986.3" stroke="#000" stroke-width="6.6" fill="none"/>
<text x="998" y="93.7" font-size="45" textLength="180.5" lengthAdjust="spacingAndGlyphs">Total SM</text>
<text x="997.5" y="154" font-size="48" font-family='"Liberation Serif", serif' textLength="38.5" lengthAdjust="spacingAndGlyphs">&#964;&#964;</text>
<text x="997.6" y="213.6" font-size="45">e</text>
<text x="1019.5" y="213.6" font-size="47" font-family='"Liberation Serif", serif' textLength="22" lengthAdjust="spacingAndGlyphs">&#957;</text>
<text x="1045" y="213.6" font-size="45" textLength="99.5" lengthAdjust="spacingAndGlyphs">W,W</text>
<text x="1146.3" y="213.6" font-size="45" font-family='"DejaVu Sans", sans-serif' textLength="43" lengthAdjust="spacingAndGlyphs">&#8594;</text>
<text x="1189.7" y="213.6" font-size="47" font-family='"Liberation Serif", serif' textLength="40" lengthAdjust="spacingAndGlyphs">&#964;&#957;</text>
<text x="997.2" y="273" font-size="45" textLength="83.5" lengthAdjust="spacingAndGlyphs">WW</text>
<text x="1084" y="273" font-size="45" font-family='"DejaVu Sans", sans-serif' textLength="43" lengthAdjust="spacingAndGlyphs">&#8594;</text>
<text x="1130.5" y="273" font-size="45" textLength="17.5" lengthAdjust="spacingAndGlyphs">ll</text>
<text x="1149.4" y="273" font-size="47" font-family='"Liberation Serif", serif' textLength="42.6" lengthAdjust="spacingAndGlyphs">&#957;&#957;</text>
<text x="997.2" y="332.6" font-size="45" textLength="181.5" lengthAdjust="spacingAndGlyphs">ZZorWW</text>
<text x="1181.6" y="332.6" font-size="45" font-family='"DejaVu Sans", sans-serif' textLength="44" lengthAdjust="spacingAndGlyphs">&#8594;</text>
<text x="1229" y="332.6" font-size="47" font-family='"Liberation Serif", serif' textLength="79.6" lengthAdjust="spacingAndGlyphs">&#964;&#964;&#957;&#957;</text>
<rect x="1340" y="56" width="48" height="39.8" rx="3" fill="#DEBA87"/>
<rect x="1340" y="105.4" width="48" height="39.6" rx="3" fill="#FF9900"/>
<rect x="1340" y="155.7" width="48" height="40.3" rx="3" fill="#926B72"/>
<rect x="1340" y="206" width="48" height="40" rx="3" fill="#FFFF00"/>
<rect x="1340" y="256" width="48" height="40.5" rx="3" fill="#5AD455"/>
<rect x="1340" y="306.6" width="48" height="40.4" rx="3" fill="#86C1A5"/>
<text x="1394.5" y="86.6" font-size="45" font-family='"Liberation Serif", serif' textLength="50.3" lengthAdjust="spacingAndGlyphs">&#956;&#956;</text>
<text x="1394.5" y="134.8" font-size="45" textLength="178" lengthAdjust="spacingAndGlyphs">2-photon</text>
<text x="1394.5" y="185.9" font-size="45" textLength="135.4" lengthAdjust="spacingAndGlyphs">Others</text>
<text x="1394.5" y="237.5" font-size="45" textLength="180.3" lengthAdjust="spacingAndGlyphs">ZZorWW</text>
<text x="1576.9" y="237.5" font-size="45" font-family='"DejaVu Sans", sans-serif' textLength="43.5" lengthAdjust="spacingAndGlyphs">&#8594;</text>
<text x="1623" y="237.5" font-size="47" font-family='"Liberation Serif", serif' textLength="94.3" lengthAdjust="spacingAndGlyphs">&#956;&#956;&#957;&#957;</text>
<text x="1394.5" y="286.5" font-size="45" textLength="54.5" lengthAdjust="spacingAndGlyphs">ZZ</text>
<text x="1452.4" y="286.5" font-size="45" font-family='"DejaVu Sans", sans-serif' textLength="43" lengthAdjust="spacingAndGlyphs">&#8594;</text>
<text x="1497.2" y="286.5" font-size="47" font-family='"Liberation Serif", serif' textLength="94.3" lengthAdjust="spacingAndGlyphs">&#956;&#956;&#957;&#957;</text>
<text x="1394.5" y="338" font-size="45" textLength="54.5" lengthAdjust="spacingAndGlyphs">ZZ</text>
<text x="1452.4" y="338" font-size="45" font-family='"DejaVu Sans", sans-serif' textLength="43" lengthAdjust="spacingAndGlyphs">&#8594;</text>
<text x="1497.2" y="338" font-size="47" font-family='"Liberation Serif", serif' textLength="80.8" lengthAdjust="spacingAndGlyphs">&#964;&#964;&#957;&#957;</text>
<path d="M937,401.8 h17.6 M971.5,401.8 h17.6" stroke="#000" stroke-width="12.6" fill="none"/>
<path d="M964.5,401.8 h4" stroke="#000" stroke-width="3" fill="none"/>
<text x="1013" y="399" font-size="34" textLength="52.5" lengthAdjust="spacingAndGlyphs" font-weight="bold">( m</text>
<text x="1066" y="419.7" font-size="26" font-family='"Liberation Serif", serif' textLength="11.5" lengthAdjust="spacingAndGlyphs" font-weight="bold">&#964;</text>
<text x="1065" y="411" font-size="22" textLength="12.5" lengthAdjust="spacingAndGlyphs" font-weight="bold">~</text>
<text x="1087.5" y="399" font-size="34" textLength="49.5" lengthAdjust="spacingAndGlyphs" font-weight="bold">, m</text>
<text x="1136.5" y="422.5" font-size="26" font-family='"Liberation Serif", serif' textLength="14" lengthAdjust="spacingAndGlyphs" font-weight="bold">&#967;</text>
<text x="1137" y="412.5" font-size="22" textLength="13.5" lengthAdjust="spacingAndGlyphs" font-weight="bold">~</text>
<text x="1151" y="406" font-size="13" font-weight="bold">0</text>
<text x="1152" y="435" font-size="13" font-weight="bold">1</text>
<text x="1168.2" y="399" font-size="34" textLength="315.2" lengthAdjust="spacingAndGlyphs" font-weight="bold">) = ( 160, 150 ) GeV</text>
<path d="M937,479 h17.6 M971.5,479 h17.6" stroke="#FF0000" stroke-width="12.6" fill="none"/>
<path d="M964.5,479 h4" stroke="#000" stroke-width="3" fill="none"/>
<text x="1013" y="475.8" font-size="34" textLength="52.5" lengthAdjust="spacingAndGlyphs" font-weight="bold">( m</text>
<text x="1066" y="496.5" font-size="26" font-family='"Liberation Serif", serif' textLength="11.5" lengthAdjust="spacingAndGlyphs" font-weight="bold">&#964;</text>
<text x="1065" y="487.8" font-size="22" textLength="12.5" lengthAdjust="spacingAndGlyphs" font-weight="bold">~</text>
<text x="1087.5" y="475.8" font-size="34" textLength="49.5" lengthAdjust="spacingAndGlyphs" font-weight="bold">, m</text>
<text x="1136.5" y="499.3" font-size="26" font-family='"Liberation Serif", serif' textLength="14" lengthAdjust="spacingAndGlyphs" font-weight="bold">&#967;</text>
<text x="1137" y="489.3" font-size="22" textLength="13.5" lengthAdjust="spacingAndGlyphs" font-weight="bold">~</text>
<text x="1151" y="482.8" font-size="13" font-weight="bold">0</text>
<text x="1152" y="511.8" font-size="13" font-weight="bold">1</text>
<text x="1168.2" y="475.8" font-size="34" textLength="315.2" lengthAdjust="spacingAndGlyphs" font-weight="bold">) = ( 160, 110 ) GeV</text>
<path d="M937,557 h17.6 M971.5,557 h17.6" stroke="#00FF00" stroke-width="12.6" fill="none"/>
<path d="M964.5,557 h4" stroke="#000" stroke-width="3" fill="none"/>
<text x="1013" y="553.7" font-size="34" textLength="52.5" lengthAdjust="spacingAndGlyphs" font-weight="bold">( m</text>
<text x="1066" y="574.4" font-size="26" font-family='"Liberation Serif", serif' textLength="11.5" lengthAdjust="spacingAndGlyphs" font-weight="bold">&#964;</text>
<text x="1065" y="565.7" font-size="22" textLength="12.5" lengthAdjust="spacingAndGlyphs" font-weight="bold">~</text>
<text x="1087.5" y="553.7" font-size="34" textLength="49.5" lengthAdjust="spacingAndGlyphs" font-weight="bold">, m</text>
<text x="1136.5" y="577.2" font-size="26" font-family='"Liberation Serif", serif' textLength="14" lengthAdjust="spacingAndGlyphs" font-weight="bold">&#967;</text>
<text x="1137" y="567.2" font-size="22" textLength="13.5" lengthAdjust="spacingAndGlyphs" font-weight="bold">~</text>
<text x="1151" y="560.7" font-size="13" font-weight="bold">0</text>
<text x="1152" y="589.7" font-size="13" font-weight="bold">1</text>
<text x="1168.2" y="553.7" font-size="34" textLength="297.6" lengthAdjust="spacingAndGlyphs" font-weight="bold">) = ( 160, 50 ) GeV</text>
</g>
</g>
<g font-family='"Liberation Serif", serif' fill="#000"><text x="775" y="3172.1" font-size="67">(c)</text><text x="880" y="3172.1" font-size="67" font-style="italic">M</text><text x="940" y="3182.6" font-size="50" textLength="49.5" lengthAdjust="spacingAndGlyphs" font-style="italic">&#964;&#964;</text></g>
<clipPath id="clipd"><rect x="2191.2" y="1664.8" width="1542.8" height="1254.1"/></clipPath>
<g clip-path="url(#clipd)">
<path d="M2191.2,2930.9 L2191.2,2406.9 L2216.9,2406.9 L2216.9,2385.5 L2242.6,2385.5 L2242.6,2364.4 L2268.3,2364.4 L2268.3,2354 L2294.1,2354 L2294.1,2346.5 L2319.8,2346.5 L2319.8,2342.4 L2345.5,2342.4 L2345.5,2338.3 L2371.2,2338.3 L2371.2,2335.2 L2396.9,2335.2 L2396.9,2332.4 L2422.6,2332.4 L2422.6,2330.5 L2448.3,2330.5 L2448.3,2328.9 L2474,2328.9 L2474,2327 L2499.8,2327 L2499.8,2325.1 L2525.5,2325.1 L2525.5,2323.6 L2551.2,2323.6 L2551.2,2322 L2576.9,2322 L2576.9,2320.4 L2602.6,2320.4 L2602.6,2319.5 L2628.3,2319.5 L2628.3,2318.2 L2654,2318.2 L2654,2317 L2679.8,2317 L2679.8,2316 L2705.5,2316 L2705.5,2315 L2731.2,2315 L2731.2,2314.1 L2756.9,2314.1 L2756.9,2313.5 L2782.6,2313.5 L2782.6,2312.6 L2808.3,2312.6 L2808.3,2311.9 L2834,2311.9 L2834,2311.3 L2859.7,2311.3 L2859.7,2310.8 L2885.5,2310.8 L2885.5,2310.4 L2911.2,2310.4 L2911.2,2309.9 L2936.9,2309.9 L2936.9,2309.6 L2962.6,2309.6 L2962.6,2309.2 L2988.3,2309.2 L2988.3,2308.9 L3014,2308.9 L3014,2308.6 L3039.7,2308.6 L3039.7,2308.3 L3065.5,2308.3 L3065.5,2308.6 L3091.2,2308.6 L3091.2,2308.9 L3116.9,2308.9 L3116.9,2309.4 L3142.6,2309.4 L3142.6,2309.9 L3168.3,2309.9 L3168.3,2310.9 L3194,2310.9 L3194,2312 L3219.7,2312 L3219.7,2313.3 L3245.4,2313.3 L3245.4,2314.6 L3271.2,2314.6 L3271.2,2316.1 L3296.9,2316.1 L3296.9,2317.7 L3322.6,2317.7 L3322.6,2319.3 L3348.3,2319.3 L3348.3,2320.9 L3374,2320.9 L3374,2322 L3399.7,2322 L3399.7,2323.8 L3425.4,2323.8 L3425.4,2326 L3451.2,2326 L3451.2,2327.7 L3476.9,2327.7 L3476.9,2329.8 L3502.6,2329.8 L3502.6,2331.1 L3528.3,2331.1 L3528.3,2332.3 L3554,2332.3 L3554,2332 L3579.7,2332 L3579.7,2331.7 L3605.4,2331.7 L3605.4,2331.1 L3631.1,2331.1 L3631.1,2325.1 L3656.9,2325.1 L3656.9,2311.8 L3682.6,2311.8 L3682.6,2287.8 L3708.3,2287.8 L3708.3,2271.1 L3734,2271.1 L3734,2930.9 Z" fill="#DEBA87" stroke="#DEBA87" stroke-width="5.6" stroke-linejoin="miter"/>
<path d="M2191.2,2930.9 L2191.2,2466.2 L2216.9,2466.2 L2216.9,2406.5 L2242.6,2406.5 L2242.6,2381.4 L2268.3,2381.4 L2268.3,2365.7 L2294.1,2365.7 L2294.1,2354.7 L2319.8,2354.7 L2319.8,2342.4 L2345.5,2342.4 L2345.5,2338.3 L2371.2,2338.3 L2371.2,2335.2 L2396.9,2335.2 L2396.9,2332.4 L2422.6,2332.4 L2422.6,2330.5 L2448.3,2330.5 L2448.3,2328.9 L2474,2328.9 L2474,2327 L2499.8,2327 L2499.8,2325.1 L2525.5,2325.1 L2525.5,2323.6 L2551.2,2323.6 L2551.2,2322 L2576.9,2322 L2576.9,2320.4 L2602.6,2320.4 L2602.6,2319.5 L2628.3,2319.5 L2628.3,2318.2 L2654,2318.2 L2654,2317 L2679.8,2317 L2679.8,2316 L2705.5,2316 L2705.5,2315 L2731.2,2315 L2731.2,2314.1 L2756.9,2314.1 L2756.9,2313.5 L2782.6,2313.5 L2782.6,2312.6 L2808.3,2312.6 L2808.3,2311.9 L2834,2311.9 L2834,2311.3 L2859.7,2311.3 L2859.7,2310.8 L2885.5,2310.8 L2885.5,2310.4 L2911.2,2310.4 L2911.2,2309.9 L2936.9,2309.9 L2936.9,2309.6 L2962.6,2309.6 L2962.6,2309.2 L2988.3,2309.2 L2988.3,2308.9 L3014,2308.9 L3014,2308.6 L3039.7,2308.6 L3039.7,2308.3 L3065.5,2308.3 L3065.5,2308.6 L3091.2,2308.6 L3091.2,2308.9 L3116.9,2308.9 L3116.9,2309.4 L3142.6,2309.4 L3142.6,2309.9 L3168.3,2309.9 L3168.3,2311 L3194,2311 L3194,2312 L3219.7,2312 L3219.7,2313.3 L3245.4,2313.3 L3245.4,2314.6 L3271.2,2314.6 L3271.2,2316.2 L3296.9,2316.2 L3296.9,2317.7 L3322.6,2317.7 L3322.6,2319.3 L3348.3,2319.3 L3348.3,2320.9 L3374,2320.9 L3374,2322 L3399.7,2322 L3399.7,2323.8 L3425.4,2323.8 L3425.4,2326 L3451.2,2326 L3451.2,2327.7 L3476.9,2327.7 L3476.9,2329.8 L3502.6,2329.8 L3502.6,2331.1 L3528.3,2331.1 L3528.3,2332.3 L3554,2332.3 L3554,2332 L3579.7,2332 L3579.7,2331.7 L3605.4,2331.7 L3605.4,2331.1 L3631.1,2331.1 L3631.1,2325.1 L3656.9,2325.1 L3656.9,2311.8 L3682.6,2311.8 L3682.6,2287.8 L3708.3,2287.8 L3708.3,2271.1 L3734,2271.1 L3734,2930.9 Z" fill="#7C9AD2" stroke="#7C9AD2" stroke-width="5.6" stroke-linejoin="miter"/>
<path d="M2191.2,2930.9 L2191.2,2577.8 L2216.9,2577.8 L2216.9,2511.8 L2242.6,2511.8 L2242.6,2482.6 L2268.3,2482.6 L2268.3,2462.4 L2294.1,2462.4 L2294.1,2447.4 L2319.8,2447.4 L2319.8,2437.3 L2345.5,2437.3 L2345.5,2428.5 L2371.2,2428.5 L2371.2,2419.7 L2396.9,2419.7 L2396.9,2411.8 L2422.6,2411.8 L2422.6,2404.9 L2448.3,2404.9 L2448.3,2399.6 L2474,2399.6 L2474,2394.6 L2499.8,2394.6 L2499.8,2390.2 L2525.5,2390.2 L2525.5,2386.1 L2551.2,2386.1 L2551.2,2382 L2576.9,2382 L2576.9,2378.2 L2602.6,2378.2 L2602.6,2377 L2628.3,2377 L2628.3,2375.7 L2654,2375.7 L2654,2375.1 L2679.8,2375.1 L2679.8,2374.5 L2705.5,2374.5 L2705.5,2374.1 L2731.2,2374.1 L2731.2,2373.8 L2756.9,2373.8 L2756.9,2373.8 L2782.6,2373.8 L2782.6,2374.1 L2808.3,2374.1 L2808.3,2374.5 L2834,2374.5 L2834,2374.8 L2859.7,2374.8 L2859.7,2374.5 L2885.5,2374.5 L2885.5,2374.2 L2911.2,2374.2 L2911.2,2373.9 L2936.9,2373.9 L2936.9,2374.1 L2962.6,2374.1 L2962.6,2374.4 L2988.3,2374.4 L2988.3,2374.6 L3014,2374.6 L3014,2375.1 L3039.7,2375.1 L3039.7,2375.5 L3065.5,2375.5 L3065.5,2376 L3091.2,2376 L3091.2,2376.5 L3116.9,2376.5 L3116.9,2377.2 L3142.6,2377.2 L3142.6,2378 L3168.3,2378 L3168.3,2379.1 L3194,2379.1 L3194,2380.2 L3219.7,2380.2 L3219.7,2381.5 L3245.4,2381.5 L3245.4,2382.7 L3271.2,2382.7 L3271.2,2384.2 L3296.9,2384.2 L3296.9,2385.8 L3322.6,2385.8 L3322.6,2387.4 L3348.3,2387.4 L3348.3,2389 L3374,2389 L3374,2392.2 L3399.7,2392.2 L3399.7,2394.5 L3425.4,2394.5 L3425.4,2396.8 L3451.2,2396.8 L3451.2,2399.6 L3476.9,2399.6 L3476.9,2401.7 L3502.6,2401.7 L3502.6,2403.4 L3528.3,2403.4 L3528.3,2405.6 L3554,2405.6 L3554,2408 L3579.7,2408 L3579.7,2412.8 L3605.4,2412.8 L3605.4,2417.1 L3631.1,2417.1 L3631.1,2416.2 L3656.9,2416.2 L3656.9,2391.4 L3682.6,2391.4 L3682.6,2333.1 L3708.3,2333.1 L3708.3,2300.2 L3734,2300.2 L3734,2930.9 Z" fill="#FF9900" stroke="#FF9900" stroke-width="5.6" stroke-linejoin="miter"/>
<path d="M2191.2,2930.9 L2191.2,2577.8 L2216.9,2577.8 L2216.9,2511.8 L2242.6,2511.8 L2242.6,2482.6 L2268.3,2482.6 L2268.3,2462.4 L2294.1,2462.4 L2294.1,2447.4 L2319.8,2447.4 L2319.8,2437.3 L2345.5,2437.3 L2345.5,2428.5 L2371.2,2428.5 L2371.2,2419.7 L2396.9,2419.7 L2396.9,2411.8 L2422.6,2411.8 L2422.6,2404.9 L2448.3,2404.9 L2448.3,2399.6 L2474,2399.6 L2474,2394.6 L2499.8,2394.6 L2499.8,2390.2 L2525.5,2390.2 L2525.5,2386.1 L2551.2,2386.1 L2551.2,2382 L2576.9,2382 L2576.9,2378.2 L2602.6,2378.2 L2602.6,2377 L2628.3,2377 L2628.3,2375.7 L2654,2375.7 L2654,2375.1 L2679.8,2375.1 L2679.8,2374.5 L2705.5,2374.5 L2705.5,2374.1 L2731.2,2374.1 L2731.2,2373.8 L2756.9,2373.8 L2756.9,2373.8 L2782.6,2373.8 L2782.6,2374.1 L2808.3,2374.1 L2808.3,2374.5 L2834,2374.5 L2834,2374.8 L2859.7,2374.8 L2859.7,2374.5 L2885.5,2374.5 L2885.5,2374.2 L2911.2,2374.2 L2911.2,2373.9 L2936.9,2373.9 L2936.9,2374.1 L2962.6,2374.1 L2962.6,2374.4 L2988.3,2374.4 L2988.3,2374.6 L3014,2374.6 L3014,2375.1 L3039.7,2375.1 L3039.7,2375.5 L3065.5,2375.5 L3065.5,2376 L3091.2,2376 L3091.2,2376.5 L3116.9,2376.5 L3116.9,2377.2 L3142.6,2377.2 L3142.6,2378 L3168.3,2378 L3168.3,2379.1 L3194,2379.1 L3194,2380.2 L3219.7,2380.2 L3219.7,2381.5 L3245.4,2381.5 L3245.4,2382.7 L3271.2,2382.7 L3271.2,2384.2 L3296.9,2384.2 L3296.9,2385.8 L3322.6,2385.8 L3322.6,2387.4 L3348.3,2387.4 L3348.3,2389 L3374,2389 L3374,2392.2 L3399.7,2392.2 L3399.7,2394.5 L3425.4,2394.5 L3425.4,2396.8 L3451.2,2396.8 L3451.2,2399.6 L3476.9,2399.6 L3476.9,2401.7 L3502.6,2401.7 L3502.6,2403.4 L3528.3,2403.4 L3528.3,2405.6 L3554,2405.6 L3554,2408 L3579.7,2408 L3579.7,2412.8 L3605.4,2412.8 L3605.4,2417.1 L3631.1,2417.1 L3631.1,2423.1 L3656.9,2423.1 L3656.9,2424.8 L3682.6,2424.8 L3682.6,2420.5 L3708.3,2420.5 L3708.3,2424.8 L3734,2424.8 L3734,2930.9 Z" fill="#926B72" stroke="#926B72" stroke-width="5.6" stroke-linejoin="miter"/>
<path d="M2191.2,2930.9 L2191.2,2629.6 L2216.9,2629.6 L2216.9,2558 L2242.6,2558 L2242.6,2530.6 L2268.3,2530.6 L2268.3,2508.6 L2294.1,2508.6 L2294.1,2489.8 L2319.8,2489.8 L2319.8,2475 L2345.5,2475 L2345.5,2462.4 L2371.2,2462.4 L2371.2,2450.5 L2396.9,2450.5 L2396.9,2439.5 L2422.6,2439.5 L2422.6,2431 L2448.3,2431 L2448.3,2423.8 L2474,2423.8 L2474,2417.5 L2499.8,2417.5 L2499.8,2411.2 L2525.5,2411.2 L2525.5,2404.9 L2551.2,2404.9 L2551.2,2400.2 L2576.9,2400.2 L2576.9,2396.5 L2602.6,2396.5 L2602.6,2394.6 L2628.3,2394.6 L2628.3,2393 L2654,2393 L2654,2391.4 L2679.8,2391.4 L2679.8,2390.2 L2705.5,2390.2 L2705.5,2389.5 L2731.2,2389.5 L2731.2,2388.9 L2756.9,2388.9 L2756.9,2388.3 L2782.6,2388.3 L2782.6,2387.7 L2808.3,2387.7 L2808.3,2387.7 L2834,2387.7 L2834,2387.4 L2859.7,2387.4 L2859.7,2387.1 L2885.5,2387.1 L2885.5,2386.8 L2911.2,2386.8 L2911.2,2386.5 L2936.9,2386.5 L2936.9,2387 L2962.6,2387 L2962.6,2387.6 L2988.3,2387.6 L2988.3,2388.1 L3014,2388.1 L3014,2388.9 L3039.7,2388.9 L3039.7,2389.7 L3065.5,2389.7 L3065.5,2390.5 L3091.2,2390.5 L3091.2,2391.2 L3116.9,2391.2 L3116.9,2392.3 L3142.6,2392.3 L3142.6,2393.4 L3168.3,2393.4 L3168.3,2395 L3194,2395 L3194,2396.6 L3219.7,2396.6 L3219.7,2398.2 L3245.4,2398.2 L3245.4,2399.7 L3271.2,2399.7 L3271.2,2401.8 L3296.9,2401.8 L3296.9,2403.8 L3322.6,2403.8 L3322.6,2405.3 L3348.3,2405.3 L3348.3,2406.8 L3374,2406.8 L3374,2407.7 L3399.7,2407.7 L3399.7,2410.2 L3425.4,2410.2 L3425.4,2414 L3451.2,2414 L3451.2,2418 L3476.9,2418 L3476.9,2421.4 L3502.6,2421.4 L3502.6,2424.8 L3528.3,2424.8 L3528.3,2429.1 L3554,2429.1 L3554,2436 L3579.7,2436 L3579.7,2443.7 L3605.4,2443.7 L3605.4,2451.4 L3631.1,2451.4 L3631.1,2459.1 L3656.9,2459.1 L3656.9,2463 L3682.6,2463 L3682.6,2472.8 L3708.3,2472.8 L3708.3,2492.5 L3734,2492.5 L3734,2930.9 Z" fill="#CDC7AB" stroke="#CDC7AB" stroke-width="5.6" stroke-linejoin="miter"/>
<path d="M2191.2,2930.9 L2191.2,2741.3 L2216.9,2741.3 L2216.9,2671.8 L2242.6,2671.8 L2242.6,2637.3 L2268.3,2637.3 L2268.3,2608.2 L2294.1,2608.2 L2294.1,2580.8 L2319.8,2580.8 L2319.8,2557.9 L2345.5,2557.9 L2345.5,2537.5 L2371.2,2537.5 L2371.2,2519.3 L2396.9,2519.3 L2396.9,2502.9 L2422.6,2502.9 L2422.6,2489.4 L2448.3,2489.4 L2448.3,2476.8 L2474,2476.8 L2474,2466.8 L2499.8,2466.8 L2499.8,2458.9 L2525.5,2458.9 L2525.5,2452.6 L2551.2,2452.6 L2551.2,2447 L2576.9,2447 L2576.9,2440.1 L2602.6,2440.1 L2602.6,2438.5 L2628.3,2438.5 L2628.3,2436.9 L2654,2436.9 L2654,2435.4 L2679.8,2435.4 L2679.8,2433.2 L2705.5,2433.2 L2705.5,2431.3 L2731.2,2431.3 L2731.2,2429.1 L2756.9,2429.1 L2756.9,2427.5 L2782.6,2427.5 L2782.6,2425.9 L2808.3,2425.9 L2808.3,2424.4 L2834,2424.4 L2834,2423.8 L2859.7,2423.8 L2859.7,2422.6 L2885.5,2422.6 L2885.5,2421.3 L2911.2,2421.3 L2911.2,2420.1 L2936.9,2420.1 L2936.9,2419.3 L2962.6,2419.3 L2962.6,2418.4 L2988.3,2418.4 L2988.3,2417.6 L3014,2417.6 L3014,2417 L3039.7,2417 L3039.7,2416.3 L3065.5,2416.3 L3065.5,2416.2 L3091.2,2416.2 L3091.2,2416 L3116.9,2416 L3116.9,2416.2 L3142.6,2416.2 L3142.6,2416.3 L3168.3,2416.3 L3168.3,2416.6 L3194,2416.6 L3194,2416.8 L3219.7,2416.8 L3219.7,2417.7 L3245.4,2417.7 L3245.4,2418.5 L3271.2,2418.5 L3271.2,2419.3 L3296.9,2419.3 L3296.9,2420.1 L3322.6,2420.1 L3322.6,2421.2 L3348.3,2421.2 L3348.3,2422.3 L3374,2422.3 L3374,2423 L3399.7,2423 L3399.7,2426.4 L3425.4,2426.4 L3425.4,2429.8 L3451.2,2429.8 L3451.2,2433.2 L3476.9,2433.2 L3476.9,2435.8 L3502.6,2435.8 L3502.6,2440.1 L3528.3,2440.1 L3528.3,2443.5 L3554,2443.5 L3554,2450.4 L3579.7,2450.4 L3579.7,2458.6 L3605.4,2458.6 L3605.4,2465.8 L3631.1,2465.8 L3631.1,2475.2 L3656.9,2475.2 L3656.9,2483 L3682.6,2483 L3682.6,2493.2 L3708.3,2493.2 L3708.3,2501.8 L3734,2501.8 L3734,2930.9 Z" fill="#FFFF00" stroke="#FFFF00" stroke-width="5.6" stroke-linejoin="miter"/>
<path d="M2191.2,2930.9 L2191.2,2744.3 L2216.9,2744.3 L2216.9,2674.3 L2242.6,2674.3 L2242.6,2639.7 L2268.3,2639.7 L2268.3,2609.2 L2294.1,2609.2 L2294.1,2581.8 L2319.8,2581.8 L2319.8,2558.9 L2345.5,2558.9 L2345.5,2538.5 L2371.2,2538.5 L2371.2,2520.3 L2396.9,2520.3 L2396.9,2503.9 L2422.6,2503.9 L2422.6,2490.4 L2448.3,2490.4 L2448.3,2477.8 L2474,2477.8 L2474,2467.8 L2499.8,2467.8 L2499.8,2459.9 L2525.5,2459.9 L2525.5,2453.6 L2551.2,2453.6 L2551.2,2448 L2576.9,2448 L2576.9,2441.1 L2602.6,2441.1 L2602.6,2439.5 L2628.3,2439.5 L2628.3,2437.9 L2654,2437.9 L2654,2436.4 L2679.8,2436.4 L2679.8,2434.2 L2705.5,2434.2 L2705.5,2432.3 L2731.2,2432.3 L2731.2,2430.1 L2756.9,2430.1 L2756.9,2428.5 L2782.6,2428.5 L2782.6,2426.9 L2808.3,2426.9 L2808.3,2425.4 L2834,2425.4 L2834,2424.8 L2859.7,2424.8 L2859.7,2423.6 L2885.5,2423.6 L2885.5,2422.3 L2911.2,2422.3 L2911.2,2421.1 L2936.9,2421.1 L2936.9,2420.3 L2962.6,2420.3 L2962.6,2419.4 L2988.3,2419.4 L2988.3,2418.6 L3014,2418.6 L3014,2418 L3039.7,2418 L3039.7,2417.3 L3065.5,2417.3 L3065.5,2417.2 L3091.2,2417.2 L3091.2,2417 L3116.9,2417 L3116.9,2417.2 L3142.6,2417.2 L3142.6,2417.3 L3168.3,2417.3 L3168.3,2417.6 L3194,2417.6 L3194,2417.8 L3219.7,2417.8 L3219.7,2418.7 L3245.4,2418.7 L3245.4,2419.5 L3271.2,2419.5 L3271.2,2420.3 L3296.9,2420.3 L3296.9,2421.1 L3322.6,2421.1 L3322.6,2422.2 L3348.3,2422.2 L3348.3,2423.3 L3374,2423.3 L3374,2424 L3399.7,2424 L3399.7,2427.4 L3425.4,2427.4 L3425.4,2430.8 L3451.2,2430.8 L3451.2,2434.2 L3476.9,2434.2 L3476.9,2436.8 L3502.6,2436.8 L3502.6,2441.1 L3528.3,2441.1 L3528.3,2444.5 L3554,2444.5 L3554,2451.4 L3579.7,2451.4 L3579.7,2459.6 L3605.4,2459.6 L3605.4,2466.8 L3631.1,2466.8 L3631.1,2476.2 L3656.9,2476.2 L3656.9,2484 L3682.6,2484 L3682.6,2494.2 L3708.3,2494.2 L3708.3,2502.8 L3734,2502.8 L3734,2930.9 Z" fill="#FF6699" stroke="#FF6699" stroke-width="5.6" stroke-linejoin="miter"/>
<path d="M2191.2,2930.9 L2191.2,2845.8 L2216.9,2845.8 L2216.9,2753.8 L2242.6,2753.8 L2242.6,2747.6 L2268.3,2747.6 L2268.3,2719.3 L2294.1,2719.3 L2294.1,2702.9 L2319.8,2702.9 L2319.8,2691.9 L2345.5,2691.9 L2345.5,2675.3 L2371.2,2675.3 L2371.2,2659.6 L2396.9,2659.6 L2396.9,2644.5 L2422.6,2644.5 L2422.6,2626.6 L2448.3,2626.6 L2448.3,2615.6 L2474,2615.6 L2474,2603 L2499.8,2603 L2499.8,2592.4 L2525.5,2592.4 L2525.5,2576.8 L2551.2,2576.8 L2551.2,2563.6 L2576.9,2563.6 L2576.9,2547.3 L2602.6,2547.3 L2602.6,2544.8 L2628.3,2544.8 L2628.3,2535.4 L2654,2535.4 L2654,2528.2 L2679.8,2528.2 L2679.8,2521.3 L2705.5,2521.3 L2705.5,2516.6 L2731.2,2516.6 L2731.2,2507.1 L2756.9,2507.1 L2756.9,2499.3 L2782.6,2499.3 L2782.6,2493 L2808.3,2493 L2808.3,2488.9 L2834,2488.9 L2834,2484.3 L2859.7,2484.3 L2859.7,2479.3 L2885.5,2479.3 L2885.5,2471.3 L2911.2,2471.3 L2911.2,2466.7 L2936.9,2466.7 L2936.9,2462 L2962.6,2462 L2962.6,2458.9 L2988.3,2458.9 L2988.3,2455.7 L3014,2455.7 L3014,2453.4 L3039.7,2453.4 L3039.7,2451 L3065.5,2451 L3065.5,2449.2 L3091.2,2449.2 L3091.2,2447.3 L3116.9,2447.3 L3116.9,2446 L3142.6,2446 L3142.6,2444.7 L3168.3,2444.7 L3168.3,2443.6 L3194,2443.6 L3194,2442.5 L3219.7,2442.5 L3219.7,2442.1 L3245.4,2442.1 L3245.4,2441.6 L3271.2,2441.6 L3271.2,2441.6 L3296.9,2441.6 L3296.9,2441.6 L3322.6,2441.6 L3322.6,2442.4 L3348.3,2442.4 L3348.3,2443.1 L3374,2443.1 L3374,2444.7 L3399.7,2444.7 L3399.7,2448.2 L3425.4,2448.2 L3425.4,2451.6 L3451.2,2451.6 L3451.2,2455 L3476.9,2455 L3476.9,2458.5 L3502.6,2458.5 L3502.6,2461 L3528.3,2461 L3528.3,2463.6 L3554,2463.6 L3554,2468.7 L3579.7,2468.7 L3579.7,2476.5 L3605.4,2476.5 L3605.4,2489.3 L3631.1,2489.3 L3631.1,2489.8 L3656.9,2489.8 L3656.9,2497.8 L3682.6,2497.8 L3682.6,2506.8 L3708.3,2506.8 L3708.3,2518.5 L3734,2518.5 L3734,2930.9 Z" fill="#5AD455" stroke="#5AD455" stroke-width="5.6" stroke-linejoin="miter"/>
<path d="M2191.2,2930.9 L2191.2,2848.8 L2216.9,2848.8 L2216.9,2755.3 L2242.6,2755.3 L2242.6,2749.1 L2268.3,2749.1 L2268.3,2720.8 L2294.1,2720.8 L2294.1,2704.4 L2319.8,2704.4 L2319.8,2693.4 L2345.5,2693.4 L2345.5,2676.8 L2371.2,2676.8 L2371.2,2661.1 L2396.9,2661.1 L2396.9,2646 L2422.6,2646 L2422.6,2628.1 L2448.3,2628.1 L2448.3,2617.1 L2474,2617.1 L2474,2604.5 L2499.8,2604.5 L2499.8,2594.4 L2525.5,2594.4 L2525.5,2579.4 L2551.2,2579.4 L2551.2,2573.1 L2576.9,2573.1 L2576.9,2558.9 L2602.6,2558.9 L2602.6,2549.5 L2628.3,2549.5 L2628.3,2536.9 L2654,2536.9 L2654,2529.7 L2679.8,2529.7 L2679.8,2522.8 L2705.5,2522.8 L2705.5,2518.1 L2731.2,2518.1 L2731.2,2508.6 L2756.9,2508.6 L2756.9,2500.8 L2782.6,2500.8 L2782.6,2494.5 L2808.3,2494.5 L2808.3,2490.4 L2834,2490.4 L2834,2485.8 L2859.7,2485.8 L2859.7,2480.8 L2885.5,2480.8 L2885.5,2472.8 L2911.2,2472.8 L2911.2,2468.2 L2936.9,2468.2 L2936.9,2463.5 L2962.6,2463.5 L2962.6,2460.4 L2988.3,2460.4 L2988.3,2457.2 L3014,2457.2 L3014,2454.9 L3039.7,2454.9 L3039.7,2452.5 L3065.5,2452.5 L3065.5,2450.7 L3091.2,2450.7 L3091.2,2448.8 L3116.9,2448.8 L3116.9,2447.5 L3142.6,2447.5 L3142.6,2446.2 L3168.3,2446.2 L3168.3,2445.1 L3194,2445.1 L3194,2444 L3219.7,2444 L3219.7,2443.6 L3245.4,2443.6 L3245.4,2443.1 L3271.2,2443.1 L3271.2,2443.1 L3296.9,2443.1 L3296.9,2443.1 L3322.6,2443.1 L3322.6,2443.9 L3348.3,2443.9 L3348.3,2444.6 L3374,2444.6 L3374,2446.2 L3399.7,2446.2 L3399.7,2449.7 L3425.4,2449.7 L3425.4,2453.1 L3451.2,2453.1 L3451.2,2456.5 L3476.9,2456.5 L3476.9,2460 L3502.6,2460 L3502.6,2462.5 L3528.3,2462.5 L3528.3,2465.1 L3554,2465.1 L3554,2470.2 L3579.7,2470.2 L3579.7,2478 L3605.4,2478 L3605.4,2490.8 L3631.1,2490.8 L3631.1,2492.8 L3656.9,2492.8 L3656.9,2500.8 L3682.6,2500.8 L3682.6,2518.5 L3708.3,2518.5 L3708.3,2549.7 L3734,2549.7 L3734,2930.9 Z" fill="#00FFFF" stroke="#00FFFF" stroke-width="5.6" stroke-linejoin="miter"/>
<path d="M2191.2,2930.9 L2191.2,2930.9 L2216.9,2930.9 L2216.9,2870.8 L2242.6,2870.8 L2242.6,2885.2 L2268.3,2885.2 L2268.3,2853.4 L2294.1,2853.4 L2294.1,2831.3 L2319.8,2831.3 L2319.8,2825.6 L2345.5,2825.6 L2345.5,2812.3 L2371.2,2812.3 L2371.2,2811.8 L2396.9,2811.8 L2396.9,2791.6 L2422.6,2791.6 L2422.6,2772.8 L2448.3,2772.8 L2448.3,2751.5 L2474,2751.5 L2474,2755.2 L2499.8,2755.2 L2499.8,2745.1 L2525.5,2745.1 L2525.5,2709.8 L2551.2,2709.8 L2551.2,2707.6 L2576.9,2707.6 L2576.9,2690.8 L2602.6,2690.8 L2602.6,2671.1 L2628.3,2671.1 L2628.3,2657.8 L2654,2657.8 L2654,2648.5 L2679.8,2648.5 L2679.8,2639.1 L2705.5,2639.1 L2705.5,2630.3 L2731.2,2630.3 L2731.2,2613.8 L2756.9,2613.8 L2756.9,2609.2 L2782.6,2609.2 L2782.6,2603.8 L2808.3,2603.8 L2808.3,2596.6 L2834,2596.6 L2834,2590.8 L2859.7,2590.8 L2859.7,2583.8 L2885.5,2583.8 L2885.5,2573.5 L2911.2,2573.5 L2911.2,2567.2 L2936.9,2567.2 L2936.9,2562.5 L2962.6,2562.5 L2962.6,2556.2 L2988.3,2556.2 L2988.3,2551.5 L3014,2551.5 L3014,2547.6 L3039.7,2547.6 L3039.7,2543.6 L3065.5,2543.6 L3065.5,2540.2 L3091.2,2540.2 L3091.2,2536.8 L3116.9,2536.8 L3116.9,2534 L3142.6,2534 L3142.6,2531.1 L3168.3,2531.1 L3168.3,2528.8 L3194,2528.8 L3194,2526.4 L3219.7,2526.4 L3219.7,2524 L3245.4,2524 L3245.4,2521.6 L3271.2,2521.6 L3271.2,2520.1 L3296.9,2520.1 L3296.9,2518.5 L3322.6,2518.5 L3322.6,2518.2 L3348.3,2518.2 L3348.3,2517.8 L3374,2517.8 L3374,2520.3 L3399.7,2520.3 L3399.7,2520.8 L3425.4,2520.8 L3425.4,2523.1 L3451.2,2523.1 L3451.2,2523.8 L3476.9,2523.8 L3476.9,2526.3 L3502.6,2526.3 L3502.6,2531.3 L3528.3,2531.3 L3528.3,2533.8 L3554,2533.8 L3554,2536.4 L3579.7,2536.4 L3579.7,2539.5 L3605.4,2539.5 L3605.4,2541 L3631.1,2541 L3631.1,2542.8 L3656.9,2542.8 L3656.9,2545.3 L3682.6,2545.3 L3682.6,2549.7 L3708.3,2549.7 L3708.3,2570.8 L3734,2570.8 L3734,2930.9 Z" fill="#86C1A5" stroke="#86C1A5" stroke-width="5.6" stroke-linejoin="miter"/>
</g>
<g stroke="#000" stroke-width="3" fill="none">
<path d="M2234.1,2918.9 v-19 M2234.1,1664.8 v19 M2276.9,2918.9 v-19 M2276.9,1664.8 v19 M2319.8,2918.9 v-19 M2319.8,1664.8 v19 M2362.6,2918.9 v-19 M2362.6,1664.8 v19 M2405.5,2918.9 v-38.5 M2405.5,1664.8 v38.5 M2448.3,2918.9 v-19 M2448.3,1664.8 v19 M2491.2,2918.9 v-19 M2491.2,1664.8 v19 M2534,2918.9 v-19 M2534,1664.8 v19 M2576.9,2918.9 v-19 M2576.9,1664.8 v19 M2619.8,2918.9 v-38.5 M2619.8,1664.8 v38.5 M2662.6,2918.9 v-19 M2662.6,1664.8 v19 M2705.5,2918.9 v-19 M2705.5,1664.8 v19 M2748.3,2918.9 v-19 M2748.3,1664.8 v19 M2791.2,2918.9 v-19 M2791.2,1664.8 v19 M2834,2918.9 v-38.5 M2834,1664.8 v38.5 M2876.9,2918.9 v-19 M2876.9,1664.8 v19 M2919.7,2918.9 v-19 M2919.7,1664.8 v19 M2962.6,2918.9 v-19 M2962.6,1664.8 v19 M3005.5,2918.9 v-19 M3005.5,1664.8 v19 M3048.3,2918.9 v-38.5 M3048.3,1664.8 v38.5 M3091.2,2918.9 v-19 M3091.2,1664.8 v19 M3134,2918.9 v-19 M3134,1664.8 v19 M3176.9,2918.9 v-19 M3176.9,1664.8 v19 M3219.7,2918.9 v-19 M3219.7,1664.8 v19 M3262.6,2918.9 v-38.5 M3262.6,1664.8 v38.5 M3305.4,2918.9 v-19 M3305.4,1664.8 v19 M3348.3,2918.9 v-19 M3348.3,1664.8 v19 M3391.2,2918.9 v-19 M3391.2,1664.8 v19 M3434,2918.9 v-19 M3434,1664.8 v19 M3476.9,2918.9 v-38.5 M3476.9,1664.8 v38.5 M3519.7,2918.9 v-19 M3519.7,1664.8 v19 M3562.6,2918.9 v-19 M3562.6,1664.8 v19 M3605.4,2918.9 v-19 M3605.4,1664.8 v19 M3648.3,2918.9 v-19 M3648.3,1664.8 v19 M3691.1,2918.9 v-38.5 M3691.1,1664.8 v38.5 M2191.2,2894.4 h23.2 M3734,2894.4 h-23.2 M2191.2,2877.2 h23.2 M3734,2877.2 h-23.2 M2191.2,2863.9 h23.2 M3734,2863.9 h-23.2 M2191.2,2853 h23.2 M3734,2853 h-23.2 M2191.2,2843.8 h23.2 M3734,2843.8 h-23.2 M2191.2,2835.8 h23.2 M3734,2835.8 h-23.2 M2191.2,2828.8 h23.2 M3734,2828.8 h-23.2 M2191.2,2822.5 h46.3 M3734,2822.5 h-46.3 M2191.2,2781.1 h23.2 M3734,2781.1 h-23.2 M2191.2,2756.9 h23.2 M3734,2756.9 h-23.2 M2191.2,2739.7 h23.2 M3734,2739.7 h-23.2 M2191.2,2726.4 h23.2 M3734,2726.4 h-23.2 M2191.2,2715.5 h23.2 M3734,2715.5 h-23.2 M2191.2,2706.3 h23.2 M3734,2706.3 h-23.2 M2191.2,2698.3 h23.2 M3734,2698.3 h-23.2 M2191.2,2691.2 h23.2 M3734,2691.2 h-23.2 M2191.2,2684.9 h46.3 M3734,2684.9 h-46.3 M2191.2,2643.5 h23.2 M3734,2643.5 h-23.2 M2191.2,2619.3 h23.2 M3734,2619.3 h-23.2 M2191.2,2602.1 h23.2 M3734,2602.1 h-23.2 M2191.2,2588.8 h23.2 M3734,2588.8 h-23.2 M2191.2,2577.9 h23.2 M3734,2577.9 h-23.2 M2191.2,2568.7 h23.2 M3734,2568.7 h-23.2 M2191.2,2560.7 h23.2 M3734,2560.7 h-23.2 M2191.2,2553.7 h23.2 M3734,2553.7 h-23.2 M2191.2,2547.4 h46.3 M3734,2547.4 h-46.3 M2191.2,2506 h23.2 M3734,2506 h-23.2 M2191.2,2481.8 h23.2 M3734,2481.8 h-23.2 M2191.2,2464.6 h23.2 M3734,2464.6 h-23.2 M2191.2,2451.3 h23.2 M3734,2451.3 h-23.2 M2191.2,2440.4 h23.2 M3734,2440.4 h-23.2 M2191.2,2431.2 h23.2 M3734,2431.2 h-23.2 M2191.2,2423.2 h23.2 M3734,2423.2 h-23.2 M2191.2,2416.1 h23.2 M3734,2416.1 h-23.2 M2191.2,2409.8 h46.3 M3734,2409.8 h-46.3 M2191.2,2368.4 h23.2 M3734,2368.4 h-23.2 M2191.2,2344.2 h23.2 M3734,2344.2 h-23.2 M2191.2,2327 h23.2 M3734,2327 h-23.2 M2191.2,2313.7 h23.2 M3734,2313.7 h-23.2 M2191.2,2302.8 h23.2 M3734,2302.8 h-23.2 M2191.2,2293.6 h23.2 M3734,2293.6 h-23.2 M2191.2,2285.6 h23.2 M3734,2285.6 h-23.2 M2191.2,2278.6 h23.2 M3734,2278.6 h-23.2 M2191.2,2272.3 h46.3 M3734,2272.3 h-46.3 M2191.2,2230.9 h23.2 M3734,2230.9 h-23.2 M2191.2,2206.7 h23.2 M3734,2206.7 h-23.2 M2191.2,2189.5 h23.2 M3734,2189.5 h-23.2 M2191.2,2176.2 h23.2 M3734,2176.2 h-23.2 M2191.2,2165.3 h23.2 M3734,2165.3 h-23.2 M2191.2,2156.1 h23.2 M3734,2156.1 h-23.2 M2191.2,2148.1 h23.2 M3734,2148.1 h-23.2 M2191.2,2141 h23.2 M3734,2141 h-23.2 M2191.2,2134.8 h46.3 M3734,2134.8 h-46.3 M2191.2,2093.3 h23.2 M3734,2093.3 h-23.2 M2191.2,2069.1 h23.2 M3734,2069.1 h-23.2 M2191.2,2051.9 h23.2 M3734,2051.9 h-23.2 M2191.2,2038.6 h23.2 M3734,2038.6 h-23.2 M2191.2,2027.7 h23.2 M3734,2027.7 h-23.2 M2191.2,2018.5 h23.2 M3734,2018.5 h-23.2 M2191.2,2010.5 h23.2 M3734,2010.5 h-23.2 M2191.2,2003.5 h23.2 M3734,2003.5 h-23.2 M2191.2,1997.2 h46.3 M3734,1997.2 h-46.3 M2191.2,1955.8 h23.2 M3734,1955.8 h-23.2 M2191.2,1931.6 h23.2 M3734,1931.6 h-23.2 M2191.2,1914.4 h23.2 M3734,1914.4 h-23.2 M2191.2,1901.1 h23.2 M3734,1901.1 h-23.2 M2191.2,1890.2 h23.2 M3734,1890.2 h-23.2 M2191.2,1881 h23.2 M3734,1881 h-23.2 M2191.2,1873 h23.2 M3734,1873 h-23.2 M2191.2,1865.9 h23.2 M3734,1865.9 h-23.2 M2191.2,1859.6 h46.3 M3734,1859.6 h-46.3 M2191.2,1818.2 h23.2 M3734,1818.2 h-23.2 M2191.2,1794 h23.2 M3734,1794 h-23.2 M2191.2,1776.8 h23.2 M3734,1776.8 h-23.2 M2191.2,1763.5 h23.2 M3734,1763.5 h-23.2 M2191.2,1752.6 h23.2 M3734,1752.6 h-23.2 M2191.2,1743.4 h23.2 M3734,1743.4 h-23.2 M2191.2,1735.4 h23.2 M3734,1735.4 h-23.2 M2191.2,1728.4 h23.2 M3734,1728.4 h-23.2 M2191.2,1722.1 h46.3 M3734,1722.1 h-46.3 M2191.2,1680.7 h23.2 M3734,1680.7 h-23.2"/>
</g>
<rect x="2191.2" y="1664.8" width="1542.8" height="1254.1" fill="none" stroke="#000" stroke-width="3.3"/>
<path d="M2191.2,2406.9 L2216.9,2406.9 L2216.9,2385.5 L2242.6,2385.5 L2242.6,2364.4 L2268.3,2364.4 L2268.3,2354 L2294.1,2354 L2294.1,2346.5 L2319.8,2346.5 L2319.8,2342.4 L2345.5,2342.4 L2345.5,2338.3 L2371.2,2338.3 L2371.2,2335.2 L2396.9,2335.2 L2396.9,2332.4 L2422.6,2332.4 L2422.6,2330.5 L2448.3,2330.5 L2448.3,2328.9 L2474,2328.9 L2474,2327 L2499.8,2327 L2499.8,2325.1 L2525.5,2325.1 L2525.5,2323.6 L2551.2,2323.6 L2551.2,2322 L2576.9,2322 L2576.9,2320.4 L2602.6,2320.4 L2602.6,2319.5 L2628.3,2319.5 L2628.3,2318.2 L2654,2318.2 L2654,2317 L2679.8,2317 L2679.8,2316 L2705.5,2316 L2705.5,2315 L2731.2,2315 L2731.2,2314.1 L2756.9,2314.1 L2756.9,2313.5 L2782.6,2313.5 L2782.6,2312.6 L2808.3,2312.6 L2808.3,2311.9 L2834,2311.9 L2834,2311.3 L2859.7,2311.3 L2859.7,2310.8 L2885.5,2310.8 L2885.5,2310.4 L2911.2,2310.4 L2911.2,2309.9 L2936.9,2309.9 L2936.9,2309.6 L2962.6,2309.6 L2962.6,2309.2 L2988.3,2309.2 L2988.3,2308.9 L3014,2308.9 L3014,2308.6 L3039.7,2308.6 L3039.7,2308.3 L3065.5,2308.3 L3065.5,2308.6 L3091.2,2308.6 L3091.2,2308.9 L3116.9,2308.9 L3116.9,2309.4 L3142.6,2309.4 L3142.6,2309.9 L3168.3,2309.9 L3168.3,2310.9 L3194,2310.9 L3194,2312 L3219.7,2312 L3219.7,2313.3 L3245.4,2313.3 L3245.4,2314.6 L3271.2,2314.6 L3271.2,2316.1 L3296.9,2316.1 L3296.9,2317.7 L3322.6,2317.7 L3322.6,2319.3 L3348.3,2319.3 L3348.3,2320.9 L3374,2320.9 L3374,2322 L3399.7,2322 L3399.7,2323.8 L3425.4,2323.8 L3425.4,2326 L3451.2,2326 L3451.2,2327.7 L3476.9,2327.7 L3476.9,2329.8 L3502.6,2329.8 L3502.6,2331.1 L3528.3,2331.1 L3528.3,2332.3 L3554,2332.3 L3554,2332 L3579.7,2332 L3579.7,2331.7 L3605.4,2331.7 L3605.4,2331.1 L3631.1,2331.1 L3631.1,2325.1 L3656.9,2325.1 L3656.9,2311.8 L3682.6,2311.8 L3682.6,2287.8 L3708.3,2287.8 L3708.3,2271.1 L3734,2271.1" fill="none" stroke="#000" stroke-width="5.5" stroke-linejoin="miter" clip-path="url(#clipd)"/>
<path d="M2191.2,2918.9 L2216.9,2918.9 L2216.9,2918.9 L2242.6,2918.9 L2242.6,2918.9 L2268.3,2918.9 L2268.3,2918.9 L2294.1,2918.9 L2294.1,2918.9 L2319.8,2918.9 L2319.8,2918.9 L2345.5,2918.9 L2345.5,2918.9 L2371.2,2918.9 L2371.2,2918.9 L2396.9,2918.9 L2396.9,2918.9 L2422.6,2918.9 L2422.6,2918.9 L2448.3,2918.9 L2448.3,2918.9 L2474,2918.9 L2474,2918.9 L2499.8,2918.9 L2499.8,2918.9 L2525.5,2918.9 L2525.5,2918.9 L2551.2,2918.9 L2551.2,2918.9 L2576.9,2918.9 L2576.9,2918.9 L2602.6,2918.9 L2602.6,2918.9 L2628.3,2918.9 L2628.3,2918.9 L2654,2918.9 L2654,2918.9 L2679.8,2918.9 L2679.8,2918.9 L2705.5,2918.9 L2705.5,2918.9 L2731.2,2918.9 L2731.2,2918.9 L2756.9,2918.9 L2756.9,2918.9 L2782.6,2918.9 L2782.6,2918.9 L2808.3,2918.9 L2808.3,2918.9 L2834,2918.9 L2834,2918.9 L2859.7,2918.9 L2859.7,2918.9 L2885.5,2918.9 L2885.5,2918.9 L2911.2,2918.9 L2911.2,2918.9 L2936.9,2918.9 L2936.9,2918.9 L2962.6,2918.9 L2962.6,2918.9 L2988.3,2918.9 L2988.3,2918.9 L3014,2918.9 L3014,2918.9 L3039.7,2918.9 L3039.7,2918.9 L3065.5,2918.9 L3065.5,2918.9 L3091.2,2918.9 L3091.2,2918.9 L3116.9,2918.9 L3116.9,2918.9 L3142.6,2918.9 L3142.6,2918.9 L3168.3,2918.9 L3168.3,2918.9 L3194,2918.9 L3194,2918.9 L3219.7,2918.9 L3219.7,2918.9 L3245.4,2918.9 L3245.4,2918.9 L3271.2,2918.9 L3271.2,2918.9 L3296.9,2918.9 L3296.9,2918.9 L3322.6,2918.9 L3322.6,2918.9 L3348.3,2918.9 L3348.3,2918.9 L3374,2918.9 L3374,2918.9 L3399.7,2918.9 L3399.7,2918.9 L3425.4,2918.9 L3425.4,2918.9 L3451.2,2918.9 L3451.2,2918.9 L3476.9,2918.9 L3476.9,2918.9 L3502.6,2918.9 L3502.6,2918.9 L3528.3,2918.9 L3528.3,2918.9 L3554,2918.9 L3554,2918.9 L3579.7,2918.9 L3579.7,2852.7 L3605.4,2852.7 L3605.4,2609 L3631.1,2609 L3631.1,2448.2 L3656.9,2448.2 L3656.9,2382.6 L3682.6,2382.6 L3682.6,2390.3 L3708.3,2390.3 L3708.3,2493.2 L3734,2493.2" fill="none" stroke="#000" stroke-width="12.6" stroke-dasharray="17 17.3" stroke-linejoin="miter"/>
<path d="M2191.2,2918.9 L2216.9,2918.9 L2216.9,2918.9 L2242.6,2918.9 L2242.6,2918.9 L2268.3,2918.9 L2268.3,2918.9 L2294.1,2918.9 L2294.1,2918.9 L2319.8,2918.9 L2319.8,2918.9 L2345.5,2918.9 L2345.5,2918.9 L2371.2,2918.9 L2371.2,2918.9 L2396.9,2918.9 L2396.9,2918.9 L2422.6,2918.9 L2422.6,2918.9 L2448.3,2918.9 L2448.3,2918.9 L2474,2918.9 L2474,2918.9 L2499.8,2918.9 L2499.8,2918.9 L2525.5,2918.9 L2525.5,2918.9 L2551.2,2918.9 L2551.2,2918.9 L2576.9,2918.9 L2576.9,2918.9 L2602.6,2918.9 L2602.6,2918.9 L2628.3,2918.9 L2628.3,2918.9 L2654,2918.9 L2654,2918.9 L2679.8,2918.9 L2679.8,2918.9 L2705.5,2918.9 L2705.5,2918.9 L2731.2,2918.9 L2731.2,2918.9 L2756.9,2918.9 L2756.9,2918.9 L2782.6,2918.9 L2782.6,2918.9 L2808.3,2918.9 L2808.3,2918.9 L2834,2918.9 L2834,2918.9 L2859.7,2918.9 L2859.7,2918.9 L2885.5,2918.9 L2885.5,2918.9 L2911.2,2918.9 L2911.2,2918.9 L2936.9,2918.9 L2936.9,2918.9 L2962.6,2918.9 L2962.6,2918.9 L2988.3,2918.9 L2988.3,2918.9 L3014,2918.9 L3014,2918.9 L3039.7,2918.9 L3039.7,2918.9 L3065.5,2918.9 L3065.5,2918.9 L3091.2,2918.9 L3091.2,2918.9 L3116.9,2918.9 L3116.9,2905.7 L3142.6,2905.7 L3142.6,2823.8 L3168.3,2823.8 L3168.3,2757 L3194,2757 L3194,2688.5 L3219.7,2688.5 L3219.7,2644.5 L3245.4,2644.5 L3245.4,2619.4 L3271.2,2619.4 L3271.2,2597.4 L3296.9,2597.4 L3296.9,2575.4 L3322.6,2575.4 L3322.6,2549.6 L3348.3,2549.6 L3348.3,2528.3 L3374,2528.3 L3374,2495.5 L3399.7,2495.5 L3399.7,2488 L3425.4,2488 L3425.4,2478.5 L3451.2,2478.5 L3451.2,2470.5 L3476.9,2470.5 L3476.9,2465.7 L3502.6,2465.7 L3502.6,2466.6 L3528.3,2466.6 L3528.3,2467.5 L3554,2467.5 L3554,2468.3 L3579.7,2468.3 L3579.7,2477 L3605.4,2477 L3605.4,2498.5 L3631.1,2498.5 L3631.1,2522 L3656.9,2522 L3656.9,2550.2 L3682.6,2550.2 L3682.6,2602.5 L3708.3,2602.5 L3708.3,2699.6 L3734,2699.6" fill="none" stroke="#FF0000" stroke-width="12.6" stroke-dasharray="17 17.3" stroke-linejoin="miter"/>
<path d="M2191.2,2918.9 L2216.9,2918.9 L2216.9,2918.9 L2242.6,2918.9 L2242.6,2918.9 L2268.3,2918.9 L2268.3,2918.9 L2294.1,2918.9 L2294.1,2918.9 L2319.8,2918.9 L2319.8,2918.9 L2345.5,2918.9 L2345.5,2918.9 L2371.2,2918.9 L2371.2,2918.9 L2396.9,2918.9 L2396.9,2918.9 L2422.6,2918.9 L2422.6,2918.9 L2448.3,2918.9 L2448.3,2918.9 L2474,2918.9 L2474,2918.9 L2499.8,2918.9 L2499.8,2918.9 L2525.5,2918.9 L2525.5,2900 L2551.2,2900 L2551.2,2883 L2576.9,2883 L2576.9,2876 L2602.6,2876 L2602.6,2877 L2628.3,2877 L2628.3,2864 L2654,2864 L2654,2791.5 L2679.8,2791.5 L2679.8,2780 L2705.5,2780 L2705.5,2760.3 L2731.2,2760.3 L2731.2,2724 L2756.9,2724 L2756.9,2699 L2782.6,2699 L2782.6,2678.7 L2808.3,2678.7 L2808.3,2663 L2834,2663 L2834,2658 L2859.7,2658 L2859.7,2643 L2885.5,2643 L2885.5,2616.3 L2911.2,2616.3 L2911.2,2611.6 L2936.9,2611.6 L2936.9,2599 L2962.6,2599 L2962.6,2589.5 L2988.3,2589.5 L2988.3,2577 L3014,2577 L3014,2566 L3039.7,2566 L3039.7,2561.3 L3065.5,2561.3 L3065.5,2552.8 L3091.2,2552.8 L3091.2,2542.4 L3116.9,2542.4 L3116.9,2539.3 L3142.6,2539.3 L3142.6,2531.4 L3168.3,2531.4 L3168.3,2524.5 L3194,2524.5 L3194,2520.4 L3219.7,2520.4 L3219.7,2515 L3245.4,2515 L3245.4,2514 L3271.2,2514 L3271.2,2509.4 L3296.9,2509.4 L3296.9,2507.8 L3322.6,2507.8 L3322.6,2505.6 L3348.3,2505.6 L3348.3,2505.6 L3374,2505.6 L3374,2506.9 L3399.7,2506.9 L3399.7,2508 L3425.4,2508 L3425.4,2509.4 L3451.2,2509.4 L3451.2,2513.2 L3476.9,2513.2 L3476.9,2518 L3502.6,2518 L3502.6,2527.2 L3528.3,2527.2 L3528.3,2534.9 L3554,2534.9 L3554,2538.7 L3579.7,2538.7 L3579.7,2550.2 L3605.4,2550.2 L3605.4,2569.4 L3631.1,2569.4 L3631.1,2586 L3656.9,2586 L3656.9,2635.7 L3682.6,2635.7 L3682.6,2694.5 L3708.3,2694.5 L3708.3,2804.2 L3734,2804.2" fill="none" stroke="#00FF00" stroke-width="12.6" stroke-dasharray="17 17.3" stroke-linejoin="miter"/>
<path d="M3592.6,2840 V2873" fill="none" stroke="#000" stroke-width="12.6" stroke-dasharray="17 17.3"/>
<path d="M3129.7,2886.7 V2913.3" fill="none" stroke="#FF0000" stroke-width="12.6" stroke-dasharray="17 17.3"/>
<path d="M3155.4,2810.5 V2837" fill="none" stroke="#FF0000" stroke-width="12.6" stroke-dasharray="17 17.3"/>
<path d="M2538.3,2886.7 V2913" fill="none" stroke="#00FF00" stroke-width="12.6" stroke-dasharray="17 17.3"/>
<path d="M2564,2867.6 V2909.5" fill="none" stroke="#00FF00" stroke-width="12.6" stroke-dasharray="17 17.3"/>
<path d="M2589.8,2860 V2898" fill="none" stroke="#00FF00" stroke-width="12.6" stroke-dasharray="17 17.3"/>
<path d="M2615.5,2860 V2902" fill="none" stroke="#00FF00" stroke-width="12.6" stroke-dasharray="17 17.3"/>
<path d="M2641.2,2850.5 V2882.9" fill="none" stroke="#00FF00" stroke-width="12.6" stroke-dasharray="17 17.3"/>
<g font-family='"Liberation Sans", sans-serif' fill="#000">
<text x="2191.2" y="2989.3" font-size="73" text-anchor="middle">0</text>
<text x="2405.5" y="2989.3" font-size="73" text-anchor="middle">50</text>
<text x="2619.8" y="2989.3" font-size="73" text-anchor="middle">100</text>
<text x="2834" y="2989.3" font-size="73" text-anchor="middle">150</text>
<text x="3048.3" y="2989.3" font-size="73" text-anchor="middle">200</text>
<text x="3262.6" y="2989.3" font-size="73" text-anchor="middle">250</text>
<text x="3476.9" y="2989.3" font-size="73" text-anchor="middle">300</text>
<text x="3691.1" y="2989.3" font-size="73" text-anchor="middle">350</text>
<text x="2177.3" y="2848.5" font-size="72" text-anchor="end">10</text>
<text x="2150.3" y="2717.9" font-size="72" text-anchor="end">10</text>
<text x="2175.3" y="2685.9" font-size="47" text-anchor="end">2</text>
<text x="2150.3" y="2580.4" font-size="72" text-anchor="end">10</text>
<text x="2175.3" y="2548.4" font-size="47" text-anchor="end">3</text>
<text x="2150.3" y="2442.8" font-size="72" text-anchor="end">10</text>
<text x="2175.3" y="2410.8" font-size="47" text-anchor="end">4</text>
<text x="2150.3" y="2305.3" font-size="72" text-anchor="end">10</text>
<text x="2175.3" y="2273.3" font-size="47" text-anchor="end">5</text>
<text x="2150.3" y="2167.8" font-size="72" text-anchor="end">10</text>
<text x="2175.3" y="2135.8" font-size="47" text-anchor="end">6</text>
<text x="2150.3" y="2030.2" font-size="72" text-anchor="end">10</text>
<text x="2175.3" y="1998.2" font-size="47" text-anchor="end">7</text>
<text x="2150.3" y="1892.6" font-size="72" text-anchor="end">10</text>
<text x="2175.3" y="1860.6" font-size="47" text-anchor="end">8</text>
<text x="2150.3" y="1755.1" font-size="72" text-anchor="end">10</text>
<text x="2175.3" y="1723.1" font-size="47" text-anchor="end">9</text>
<text transform="translate(2043.9,1649.5) rotate(-90)" font-size="74" text-anchor="end" textLength="487" lengthAdjust="spacingAndGlyphs">Events / 6 GeV</text>
<text x="3365.3" y="3068.4" font-size="73">M</text><text x="3423" y="3090.9" font-size="50" textLength="113" lengthAdjust="spacingAndGlyphs">recoil</text><text x="3555.7" y="3068.4" font-size="73">[GeV]</text>
</g>
<g transform="translate(1970.4,1630)">
<rect x="927" y="48.6" width="338" height="305" fill="#fff"/>
<rect x="1335" y="48.6" width="242.5" height="305" fill="#fff"/>
<g font-family='"Liberation Sans", sans-serif' fill="#000">
<text x="275" y="146" font-size="66" font-weight="bold" font-style="italic" textLength="555" lengthAdjust="spacingAndGlyphs">CEPC Simulation</text>
<text x="277" y="240" font-size="63" font-family='"DejaVu Sans", sans-serif' textLength="28" lengthAdjust="spacingAndGlyphs">&#8730;</text>
<path d="M295.5,187.2 H331.5" stroke="#000" stroke-width="3" fill="none"/>
<text x="304.5" y="240" font-size="63" textLength="557" lengthAdjust="spacingAndGlyphs">s = 360 GeV, 1.0 ab</text>
<text x="866.5" y="212" font-size="40" textLength="27" lengthAdjust="spacingAndGlyphs">-1</text>
<text x="270" y="335" font-size="63">e</text>
<text x="300" y="307" font-size="40">+</text>
<text x="326.7" y="335" font-size="63">e</text>
<text x="358" y="307" font-size="40">-</text>
<text x="373" y="335" font-size="63" font-family='"DejaVu Sans", sans-serif' textLength="55" lengthAdjust="spacingAndGlyphs">&#8594;</text>
<text x="431" y="335" font-size="66" font-family='"Liberation Serif", serif' textLength="27" lengthAdjust="spacingAndGlyphs">&#964;</text>
<text x="461.7" y="355" font-size="44" textLength="63" lengthAdjust="spacingAndGlyphs">L,R</text>
<text x="528" y="335" font-size="66" font-family='"Liberation Serif", serif' textLength="26" lengthAdjust="spacingAndGlyphs">&#964;</text>
<text x="555" y="355" font-size="44" textLength="63" lengthAdjust="spacingAndGlyphs">L,R</text>
<text x="620" y="335" font-size="63">,</text>
<text x="646.5" y="335" font-size="66" font-family='"Liberation Serif", serif' textLength="26" lengthAdjust="spacingAndGlyphs">&#964;</text>
<text x="676.7" y="335" font-size="63" font-family='"DejaVu Sans", sans-serif' textLength="56" lengthAdjust="spacingAndGlyphs">&#8594;</text>
<text x="736.5" y="335" font-size="66" font-family='"Liberation Serif", serif' textLength="26" lengthAdjust="spacingAndGlyphs">&#964;</text>
<text x="764.5" y="335" font-size="66" font-family='"Liberation Serif", serif' textLength="36" lengthAdjust="spacingAndGlyphs">&#967;</text>
<text x="811.5" y="299" font-size="40">0</text>
<text x="801" y="367" font-size="40">1</text>
<text x="430" y="313" font-size="54" textLength="29" lengthAdjust="spacingAndGlyphs">~</text>
<text x="527" y="313" font-size="54" textLength="28" lengthAdjust="spacingAndGlyphs">~</text>
<text x="645" y="313" font-size="54" textLength="28" lengthAdjust="spacingAndGlyphs">~</text>
<text x="766" y="313" font-size="54" textLength="32" lengthAdjust="spacingAndGlyphs">~</text>
<rect x="932.3" y="117.2" width="56.4" height="47" rx="3" fill="#7C9AD2"/>
<rect x="932.3" y="177.5" width="56.4" height="46.5" rx="3" fill="#CDC7AB"/>
<rect x="932.3" y="238" width="56.4" height="47" rx="3" fill="#FF6699"/>
<rect x="932.3" y="298" width="56.4" height="47" rx="3" fill="#00FFFF"/>
<clipPath id="tsm"><rect x="934" y="59.5" width="52.5" height="42.5"/></clipPath>
<path d="M935.2,59.8 L977.9,101 M960.4,59.8 L985.5,84.2 M935.2,84.2 L952.8,101.7" stroke="#000" stroke-width="3" fill="none"/>
<path d="M934.5,81 H986.3" stroke="#000" stroke-width="6.6" fill="none"/>
<text x="998" y="93.7" font-size="45" textLength="180.5" lengthAdjust="spacingAndGlyphs">Total SM</text>
<text x="997.5" y="154" font-size="48" font-family='"Liberation Serif", serif' textLength="38.5" lengthAdjust="spacingAndGlyphs">&#964;&#964;</text>
<text x="997.6" y="213.6" font-size="45">e</text>
<text x="1019.5" y="213.6" font-size="47" font-family='"Liberation Serif", serif' textLength="22" lengthAdjust="spacingAndGlyphs">&#957;</text>
<text x="1045" y="213.6" font-size="45" textLength="99.5" lengthAdjust="spacingAndGlyphs">W,W</text>
<text x="1146.3" y="213.6" font-size="45" font-family='"DejaVu Sans", sans-serif' textLength="43" lengthAdjust="spacingAndGlyphs">&#8594;</text>
<text x="1189.7" y="213.6" font-size="47" font-family='"Liberation Serif", serif' textLength="40" lengthAdjust="spacingAndGlyphs">&#964;&#957;</text>
<text x="997.2" y="273" font-size="45" textLength="83.5" lengthAdjust="spacingAndGlyphs">WW</text>
<text x="1084" y="273" font-size="45" font-family='"DejaVu Sans", sans-serif' textLength="43" lengthAdjust="spacingAndGlyphs">&#8594;</text>
<text x="1130.5" y="273" font-size="45" textLength="17.5" lengthAdjust="spacingAndGlyphs">ll</text>
<text x="1149.4" y="273" font-size="47" font-family='"Liberation Serif", serif' textLength="42.6" lengthAdjust="spacingAndGlyphs">&#957;&#957;</text>
<text x="997.2" y="332.6" font-size="45" textLength="181.5" lengthAdjust="spacingAndGlyphs">ZZorWW</text>
<text x="1181.6" y="332.6" font-size="45" font-family='"DejaVu Sans", sans-serif' textLength="44" lengthAdjust="spacingAndGlyphs">&#8594;</text>
<text x="1229" y="332.6" font-size="47" font-family='"Liberation Serif", serif' textLength="79.6" lengthAdjust="spacingAndGlyphs">&#964;&#964;&#957;&#957;</text>
<rect x="1340" y="56" width="48" height="39.8" rx="3" fill="#DEBA87"/>
<rect x="1340" y="105.4" width="48" height="39.6" rx="3" fill="#FF9900"/>
<rect x="1340" y="155.7" width="48" height="40.3" rx="3" fill="#926B72"/>
<rect x="1340" y="206" width="48" height="40" rx="3" fill="#FFFF00"/>
<rect x="1340" y="256" width="48" height="40.5" rx="3" fill="#5AD455"/>
<rect x="1340" y="306.6" width="48" height="40.4" rx="3" fill="#86C1A5"/>
<text x="1394.5" y="86.6" font-size="45" font-family='"Liberation Serif", serif' textLength="50.3" lengthAdjust="spacingAndGlyphs">&#956;&#956;</text>
<text x="1394.5" y="134.8" font-size="45" textLength="178" lengthAdjust="spacingAndGlyphs">2-photon</text>
<text x="1394.5" y="185.9" font-size="45" textLength="135.4" lengthAdjust="spacingAndGlyphs">Others</text>
<text x="1394.5" y="237.5" font-size="45" textLength="180.3" lengthAdjust="spacingAndGlyphs">ZZorWW</text>
<text x="1576.9" y="237.5" font-size="45" font-family='"DejaVu Sans", sans-serif' textLength="43.5" lengthAdjust="spacingAndGlyphs">&#8594;</text>
<text x="1623" y="237.5" font-size="47" font-family='"Liberation Serif", serif' textLength="94.3" lengthAdjust="spacingAndGlyphs">&#956;&#956;&#957;&#957;</text>
<text x="1394.5" y="286.5" font-size="45" textLength="54.5" lengthAdjust="spacingAndGlyphs">ZZ</text>
<text x="1452.4" y="286.5" font-size="45" font-family='"DejaVu Sans", sans-serif' textLength="43" lengthAdjust="spacingAndGlyphs">&#8594;</text>
<text x="1497.2" y="286.5" font-size="47" font-family='"Liberation Serif", serif' textLength="94.3" lengthAdjust="spacingAndGlyphs">&#956;&#956;&#957;&#957;</text>
<text x="1394.5" y="338" font-size="45" textLength="54.5" lengthAdjust="spacingAndGlyphs">ZZ</text>
<text x="1452.4" y="338" font-size="45" font-family='"DejaVu Sans", sans-serif' textLength="43" lengthAdjust="spacingAndGlyphs">&#8594;</text>
<text x="1497.2" y="338" font-size="47" font-family='"Liberation Serif", serif' textLength="80.8" lengthAdjust="spacingAndGlyphs">&#964;&#964;&#957;&#957;</text>
<path d="M937,401.8 h17.6 M971.5,401.8 h17.6" stroke="#000" stroke-width="12.6" fill="none"/>
<path d="M964.5,401.8 h4" stroke="#000" stroke-width="3" fill="none"/>
<text x="1013" y="399" font-size="34" textLength="52.5" lengthAdjust="spacingAndGlyphs" font-weight="bold">( m</text>
<text x="1066" y="419.7" font-size="26" font-family='"Liberation Serif", serif' textLength="11.5" lengthAdjust="spacingAndGlyphs" font-weight="bold">&#964;</text>
<text x="1065" y="411" font-size="22" textLength="12.5" lengthAdjust="spacingAndGlyphs" font-weight="bold">~</text>
<text x="1087.5" y="399" font-size="34" textLength="49.5" lengthAdjust="spacingAndGlyphs" font-weight="bold">, m</text>
<text x="1136.5" y="422.5" font-size="26" font-family='"Liberation Serif", serif' textLength="14" lengthAdjust="spacingAndGlyphs" font-weight="bold">&#967;</text>
<text x="1137" y="412.5" font-size="22" textLength="13.5" lengthAdjust="spacingAndGlyphs" font-weight="bold">~</text>
<text x="1151" y="406" font-size="13" font-weight="bold">0</text>
<text x="1152" y="435" font-size="13" font-weight="bold">1</text>
<text x="1168.2" y="399" font-size="34" textLength="315.2" lengthAdjust="spacingAndGlyphs" font-weight="bold">) = ( 160, 150 ) GeV</text>
<path d="M937,479 h17.6 M971.5,479 h17.6" stroke="#FF0000" stroke-width="12.6" fill="none"/>
<path d="M964.5,479 h4" stroke="#000" stroke-width="3" fill="none"/>
<text x="1013" y="475.8" font-size="34" textLength="52.5" lengthAdjust="spacingAndGlyphs" font-weight="bold">( m</text>
<text x="1066" y="496.5" font-size="26" font-family='"Liberation Serif", serif' textLength="11.5" lengthAdjust="spacingAndGlyphs" font-weight="bold">&#964;</text>
<text x="1065" y="487.8" font-size="22" textLength="12.5" lengthAdjust="spacingAndGlyphs" font-weight="bold">~</text>
<text x="1087.5" y="475.8" font-size="34" textLength="49.5" lengthAdjust="spacingAndGlyphs" font-weight="bold">, m</text>
<text x="1136.5" y="499.3" font-size="26" font-family='"Liberation Serif", serif' textLength="14" lengthAdjust="spacingAndGlyphs" font-weight="bold">&#967;</text>
<text x="1137" y="489.3" font-size="22" textLength="13.5" lengthAdjust="spacingAndGlyphs" font-weight="bold">~</text>
<text x="1151" y="482.8" font-size="13" font-weight="bold">0</text>
<text x="1152" y="511.8" font-size="13" font-weight="bold">1</text>
<text x="1168.2" y="475.8" font-size="34" textLength="315.2" lengthAdjust="spacingAndGlyphs" font-weight="bold">) = ( 160, 110 ) GeV</text>
<path d="M937,557 h17.6 M971.5,557 h17.6" stroke="#00FF00" stroke-width="12.6" fill="none"/>
<path d="M964.5,557 h4" stroke="#000" stroke-width="3" fill="none"/>
<text x="1013" y="553.7" font-size="34" textLength="52.5" lengthAdjust="spacingAndGlyphs" font-weight="bold">( m</text>
<text x="1066" y="574.4" font-size="26" font-family='"Liberation Serif", serif' textLength="11.5" lengthAdjust="spacingAndGlyphs" font-weight="bold">&#964;</text>
<text x="1065" y="565.7" font-size="22" textLength="12.5" lengthAdjust="spacingAndGlyphs" font-weight="bold">~</text>
<text x="1087.5" y="553.7" font-size="34" textLength="49.5" lengthAdjust="spacingAndGlyphs" font-weight="bold">, m</text>
<text x="1136.5" y="577.2" font-size="26" font-family='"Liberation Serif", serif' textLength="14" lengthAdjust="spacingAndGlyphs" font-weight="bold">&#967;</text>
<text x="1137" y="567.2" font-size="22" textLength="13.5" lengthAdjust="spacingAndGlyphs" font-weight="bold">~</text>
<text x="1151" y="560.7" font-size="13" font-weight="bold">0</text>
<text x="1152" y="589.7" font-size="13" font-weight="bold">1</text>
<text x="1168.2" y="553.7" font-size="34" textLength="297.6" lengthAdjust="spacingAndGlyphs" font-weight="bold">) = ( 160, 50 ) GeV</text>
</g>
</g>
<g font-family='"Liberation Serif", serif' fill="#000"><text x="2708.7" y="3172.1" font-size="67">(d)</text><text x="2818.2" y="3172.1" font-size="67" font-style="italic">M</text><text x="2877.6" y="3182.6" font-size="50" textLength="116.2" lengthAdjust="spacingAndGlyphs" font-style="italic">recoil</text></g>
</svg></body></html>
